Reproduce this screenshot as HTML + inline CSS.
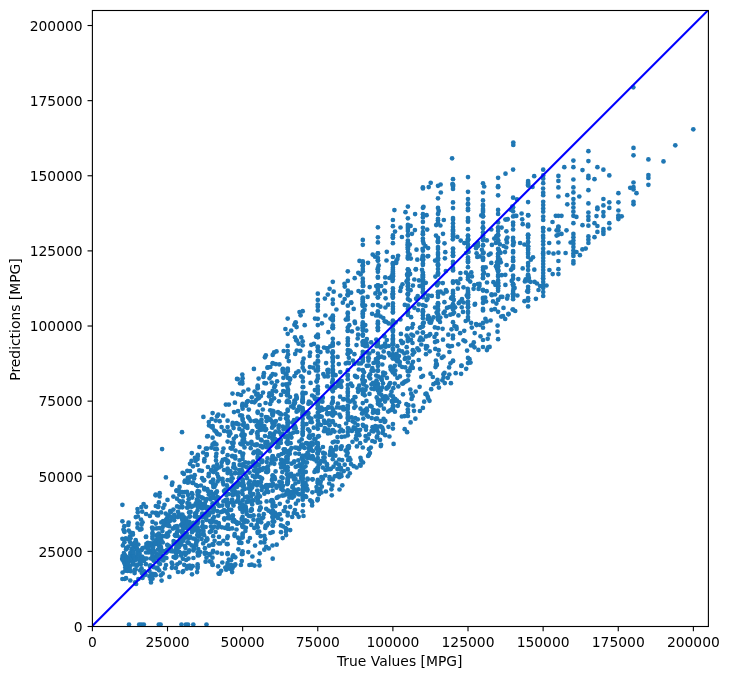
<!DOCTYPE html>
<html><head><meta charset="utf-8"><title>Predictions vs True Values</title>
<style>html,body{margin:0;padding:0;background:#fff;}svg{display:block;will-change:transform;}text{font-family:"DejaVu Sans","Liberation Sans",sans-serif;font-size:13.89px;fill:#000;}</style></head><body>
<svg width="729" height="679" viewBox="0 0 729 679">
<rect width="729" height="679" fill="#fff"/>
<defs><clipPath id="c"><rect x="92.4" y="10.5" width="616.0" height="616.0"/></clipPath></defs>
<g clip-path="url(#c)">
<g fill="#1f77b4">
<circle cx="122.6" cy="572.5" r="2.35"/>
<circle cx="122.6" cy="556.1" r="2.35"/>
<circle cx="122.9" cy="545.4" r="2.35"/>
<circle cx="123.4" cy="560.7" r="2.35"/>
<circle cx="123.5" cy="529.5" r="2.35"/>
<circle cx="123.9" cy="553.0" r="2.35"/>
<circle cx="124.3" cy="526.2" r="2.35"/>
<circle cx="124.4" cy="562.3" r="2.35"/>
<circle cx="124.1" cy="530.9" r="2.35"/>
<circle cx="124.3" cy="562.8" r="2.35"/>
<circle cx="124.1" cy="558.3" r="2.35"/>
<circle cx="124.4" cy="542.2" r="2.35"/>
<circle cx="124.5" cy="579.0" r="2.35"/>
<circle cx="124.5" cy="531.9" r="2.35"/>
<circle cx="125.2" cy="555.3" r="2.35"/>
<circle cx="122.4" cy="521.3" r="2.35"/>
<circle cx="125.0" cy="564.7" r="2.35"/>
<circle cx="125.3" cy="567.6" r="2.35"/>
<circle cx="125.3" cy="570.6" r="2.35"/>
<circle cx="125.8" cy="538.4" r="2.35"/>
<circle cx="126.1" cy="549.3" r="2.35"/>
<circle cx="126.4" cy="548.1" r="2.35"/>
<circle cx="126.2" cy="557.0" r="2.35"/>
<circle cx="126.4" cy="548.8" r="2.35"/>
<circle cx="126.0" cy="578.2" r="2.35"/>
<circle cx="126.9" cy="566.9" r="2.35"/>
<circle cx="126.6" cy="548.5" r="2.35"/>
<circle cx="127.3" cy="560.4" r="2.35"/>
<circle cx="127.4" cy="562.1" r="2.35"/>
<circle cx="127.5" cy="570.9" r="2.35"/>
<circle cx="122.4" cy="504.8" r="2.35"/>
<circle cx="122.4" cy="538.8" r="2.35"/>
<circle cx="127.8" cy="557.5" r="2.35"/>
<circle cx="122.4" cy="579.0" r="2.35"/>
<circle cx="128.1" cy="570.5" r="2.35"/>
<circle cx="128.3" cy="524.9" r="2.35"/>
<circle cx="128.0" cy="562.1" r="2.35"/>
<circle cx="128.3" cy="546.5" r="2.35"/>
<circle cx="128.0" cy="564.6" r="2.35"/>
<circle cx="128.1" cy="539.3" r="2.35"/>
<circle cx="128.1" cy="559.2" r="2.35"/>
<circle cx="128.6" cy="522.5" r="2.35"/>
<circle cx="128.7" cy="530.6" r="2.35"/>
<circle cx="122.4" cy="558.3" r="2.35"/>
<circle cx="122.4" cy="559.5" r="2.35"/>
<circle cx="129.9" cy="536.6" r="2.35"/>
<circle cx="129.6" cy="568.8" r="2.35"/>
<circle cx="129.7" cy="559.9" r="2.35"/>
<circle cx="130.3" cy="532.7" r="2.35"/>
<circle cx="130.3" cy="554.8" r="2.35"/>
<circle cx="130.3" cy="580.5" r="2.35"/>
<circle cx="137.5" cy="550.1" r="2.35"/>
<circle cx="130.4" cy="565.8" r="2.35"/>
<circle cx="130.2" cy="542.3" r="2.35"/>
<circle cx="130.4" cy="552.7" r="2.35"/>
<circle cx="130.8" cy="571.2" r="2.35"/>
<circle cx="130.5" cy="538.3" r="2.35"/>
<circle cx="137.5" cy="527.7" r="2.35"/>
<circle cx="137.5" cy="564.7" r="2.35"/>
<circle cx="131.6" cy="549.2" r="2.35"/>
<circle cx="131.5" cy="558.6" r="2.35"/>
<circle cx="131.5" cy="544.1" r="2.35"/>
<circle cx="132.2" cy="562.0" r="2.35"/>
<circle cx="132.8" cy="533.0" r="2.35"/>
<circle cx="132.9" cy="534.6" r="2.35"/>
<circle cx="132.6" cy="560.7" r="2.35"/>
<circle cx="133.3" cy="561.8" r="2.35"/>
<circle cx="133.0" cy="556.8" r="2.35"/>
<circle cx="133.0" cy="555.6" r="2.35"/>
<circle cx="133.4" cy="547.3" r="2.35"/>
<circle cx="133.1" cy="551.6" r="2.35"/>
<circle cx="133.0" cy="554.7" r="2.35"/>
<circle cx="133.8" cy="564.5" r="2.35"/>
<circle cx="133.7" cy="556.3" r="2.35"/>
<circle cx="133.5" cy="552.6" r="2.35"/>
<circle cx="134.2" cy="556.8" r="2.35"/>
<circle cx="134.9" cy="558.7" r="2.35"/>
<circle cx="134.6" cy="542.9" r="2.35"/>
<circle cx="134.7" cy="569.8" r="2.35"/>
<circle cx="134.6" cy="573.1" r="2.35"/>
<circle cx="134.7" cy="545.5" r="2.35"/>
<circle cx="134.7" cy="544.5" r="2.35"/>
<circle cx="135.2" cy="582.3" r="2.35"/>
<circle cx="135.4" cy="559.9" r="2.35"/>
<circle cx="135.8" cy="517.1" r="2.35"/>
<circle cx="135.7" cy="569.6" r="2.35"/>
<circle cx="135.7" cy="540.0" r="2.35"/>
<circle cx="136.3" cy="546.0" r="2.35"/>
<circle cx="136.1" cy="541.8" r="2.35"/>
<circle cx="136.1" cy="584.0" r="2.35"/>
<circle cx="137.5" cy="555.0" r="2.35"/>
<circle cx="136.5" cy="565.7" r="2.35"/>
<circle cx="136.8" cy="565.6" r="2.35"/>
<circle cx="136.6" cy="548.5" r="2.35"/>
<circle cx="136.5" cy="549.4" r="2.35"/>
<circle cx="137.5" cy="509.0" r="2.35"/>
<circle cx="137.1" cy="548.9" r="2.35"/>
<circle cx="137.9" cy="516.5" r="2.35"/>
<circle cx="137.8" cy="512.3" r="2.35"/>
<circle cx="137.9" cy="558.7" r="2.35"/>
<circle cx="138.4" cy="579.1" r="2.35"/>
<circle cx="137.5" cy="553.5" r="2.35"/>
<circle cx="138.3" cy="544.5" r="2.35"/>
<circle cx="138.4" cy="556.7" r="2.35"/>
<circle cx="139.2" cy="559.4" r="2.35"/>
<circle cx="139.8" cy="529.7" r="2.35"/>
<circle cx="137.5" cy="523.7" r="2.35"/>
<circle cx="139.6" cy="559.1" r="2.35"/>
<circle cx="139.6" cy="553.8" r="2.35"/>
<circle cx="140.3" cy="562.0" r="2.35"/>
<circle cx="140.0" cy="561.2" r="2.35"/>
<circle cx="140.1" cy="570.5" r="2.35"/>
<circle cx="140.1" cy="550.6" r="2.35"/>
<circle cx="140.8" cy="564.3" r="2.35"/>
<circle cx="141.0" cy="519.5" r="2.35"/>
<circle cx="141.4" cy="507.1" r="2.35"/>
<circle cx="141.1" cy="560.8" r="2.35"/>
<circle cx="141.5" cy="524.7" r="2.35"/>
<circle cx="141.9" cy="556.5" r="2.35"/>
<circle cx="141.5" cy="529.1" r="2.35"/>
<circle cx="141.5" cy="568.3" r="2.35"/>
<circle cx="141.7" cy="549.9" r="2.35"/>
<circle cx="142.2" cy="511.7" r="2.35"/>
<circle cx="142.0" cy="573.3" r="2.35"/>
<circle cx="142.5" cy="548.2" r="2.35"/>
<circle cx="142.5" cy="577.9" r="2.35"/>
<circle cx="142.5" cy="522.3" r="2.35"/>
<circle cx="142.7" cy="557.7" r="2.35"/>
<circle cx="143.6" cy="504.0" r="2.35"/>
<circle cx="143.5" cy="575.2" r="2.35"/>
<circle cx="144.3" cy="571.4" r="2.35"/>
<circle cx="144.0" cy="560.9" r="2.35"/>
<circle cx="144.8" cy="558.7" r="2.35"/>
<circle cx="152.5" cy="573.8" r="2.35"/>
<circle cx="145.2" cy="547.4" r="2.35"/>
<circle cx="145.9" cy="564.2" r="2.35"/>
<circle cx="145.6" cy="574.8" r="2.35"/>
<circle cx="145.9" cy="537.0" r="2.35"/>
<circle cx="152.5" cy="553.5" r="2.35"/>
<circle cx="146.1" cy="536.7" r="2.35"/>
<circle cx="146.0" cy="506.8" r="2.35"/>
<circle cx="146.1" cy="514.0" r="2.35"/>
<circle cx="146.1" cy="552.5" r="2.35"/>
<circle cx="146.4" cy="543.9" r="2.35"/>
<circle cx="152.5" cy="578.7" r="2.35"/>
<circle cx="146.7" cy="558.5" r="2.35"/>
<circle cx="152.5" cy="538.6" r="2.35"/>
<circle cx="147.8" cy="548.4" r="2.35"/>
<circle cx="147.9" cy="542.9" r="2.35"/>
<circle cx="148.1" cy="546.4" r="2.35"/>
<circle cx="152.5" cy="532.9" r="2.35"/>
<circle cx="148.5" cy="548.9" r="2.35"/>
<circle cx="148.9" cy="543.5" r="2.35"/>
<circle cx="148.7" cy="552.5" r="2.35"/>
<circle cx="149.5" cy="576.5" r="2.35"/>
<circle cx="149.7" cy="544.0" r="2.35"/>
<circle cx="149.5" cy="571.0" r="2.35"/>
<circle cx="149.9" cy="515.9" r="2.35"/>
<circle cx="149.7" cy="551.2" r="2.35"/>
<circle cx="150.0" cy="566.5" r="2.35"/>
<circle cx="150.2" cy="565.4" r="2.35"/>
<circle cx="152.5" cy="512.5" r="2.35"/>
<circle cx="150.7" cy="543.4" r="2.35"/>
<circle cx="150.5" cy="575.0" r="2.35"/>
<circle cx="150.6" cy="579.4" r="2.35"/>
<circle cx="152.5" cy="533.9" r="2.35"/>
<circle cx="151.0" cy="551.4" r="2.35"/>
<circle cx="151.4" cy="578.0" r="2.35"/>
<circle cx="151.0" cy="582.4" r="2.35"/>
<circle cx="151.2" cy="566.0" r="2.35"/>
<circle cx="151.0" cy="558.5" r="2.35"/>
<circle cx="151.0" cy="545.3" r="2.35"/>
<circle cx="152.1" cy="527.6" r="2.35"/>
<circle cx="152.4" cy="557.4" r="2.35"/>
<circle cx="152.5" cy="543.6" r="2.35"/>
<circle cx="152.5" cy="536.5" r="2.35"/>
<circle cx="153.0" cy="548.0" r="2.35"/>
<circle cx="153.2" cy="546.7" r="2.35"/>
<circle cx="153.4" cy="550.7" r="2.35"/>
<circle cx="153.0" cy="557.3" r="2.35"/>
<circle cx="153.7" cy="560.7" r="2.35"/>
<circle cx="153.8" cy="567.2" r="2.35"/>
<circle cx="153.6" cy="528.5" r="2.35"/>
<circle cx="152.5" cy="521.9" r="2.35"/>
<circle cx="153.7" cy="559.6" r="2.35"/>
<circle cx="152.5" cy="529.0" r="2.35"/>
<circle cx="154.4" cy="542.4" r="2.35"/>
<circle cx="154.3" cy="551.3" r="2.35"/>
<circle cx="155.2" cy="543.8" r="2.35"/>
<circle cx="155.0" cy="574.1" r="2.35"/>
<circle cx="155.8" cy="523.6" r="2.35"/>
<circle cx="155.8" cy="506.0" r="2.35"/>
<circle cx="155.9" cy="540.8" r="2.35"/>
<circle cx="155.6" cy="495.3" r="2.35"/>
<circle cx="155.7" cy="494.7" r="2.35"/>
<circle cx="155.7" cy="512.9" r="2.35"/>
<circle cx="155.8" cy="556.5" r="2.35"/>
<circle cx="155.7" cy="575.2" r="2.35"/>
<circle cx="152.5" cy="547.8" r="2.35"/>
<circle cx="156.3" cy="535.3" r="2.35"/>
<circle cx="156.9" cy="513.1" r="2.35"/>
<circle cx="156.7" cy="568.4" r="2.35"/>
<circle cx="156.7" cy="528.4" r="2.35"/>
<circle cx="156.6" cy="553.6" r="2.35"/>
<circle cx="156.9" cy="514.9" r="2.35"/>
<circle cx="157.4" cy="538.5" r="2.35"/>
<circle cx="152.5" cy="575.5" r="2.35"/>
<circle cx="157.5" cy="567.7" r="2.35"/>
<circle cx="157.6" cy="558.2" r="2.35"/>
<circle cx="157.7" cy="535.6" r="2.35"/>
<circle cx="157.9" cy="534.7" r="2.35"/>
<circle cx="157.6" cy="544.2" r="2.35"/>
<circle cx="157.5" cy="543.2" r="2.35"/>
<circle cx="158.0" cy="506.9" r="2.35"/>
<circle cx="158.3" cy="506.6" r="2.35"/>
<circle cx="158.0" cy="515.4" r="2.35"/>
<circle cx="158.0" cy="555.3" r="2.35"/>
<circle cx="158.0" cy="549.5" r="2.35"/>
<circle cx="158.2" cy="538.1" r="2.35"/>
<circle cx="158.7" cy="537.6" r="2.35"/>
<circle cx="158.5" cy="562.6" r="2.35"/>
<circle cx="158.9" cy="542.0" r="2.35"/>
<circle cx="158.9" cy="502.4" r="2.35"/>
<circle cx="158.8" cy="542.8" r="2.35"/>
<circle cx="152.5" cy="558.6" r="2.35"/>
<circle cx="158.8" cy="533.6" r="2.35"/>
<circle cx="159.3" cy="546.0" r="2.35"/>
<circle cx="152.5" cy="555.1" r="2.35"/>
<circle cx="159.3" cy="546.2" r="2.35"/>
<circle cx="159.1" cy="570.3" r="2.35"/>
<circle cx="159.2" cy="528.2" r="2.35"/>
<circle cx="159.3" cy="542.3" r="2.35"/>
<circle cx="159.7" cy="493.2" r="2.35"/>
<circle cx="159.6" cy="496.5" r="2.35"/>
<circle cx="159.8" cy="543.5" r="2.35"/>
<circle cx="160.0" cy="564.0" r="2.35"/>
<circle cx="160.7" cy="554.3" r="2.35"/>
<circle cx="160.9" cy="575.3" r="2.35"/>
<circle cx="160.9" cy="547.1" r="2.35"/>
<circle cx="167.5" cy="523.0" r="2.35"/>
<circle cx="160.8" cy="547.4" r="2.35"/>
<circle cx="160.5" cy="551.4" r="2.35"/>
<circle cx="160.5" cy="552.9" r="2.35"/>
<circle cx="161.3" cy="559.4" r="2.35"/>
<circle cx="161.3" cy="522.4" r="2.35"/>
<circle cx="161.1" cy="512.4" r="2.35"/>
<circle cx="161.2" cy="549.4" r="2.35"/>
<circle cx="161.6" cy="580.6" r="2.35"/>
<circle cx="161.6" cy="540.9" r="2.35"/>
<circle cx="161.6" cy="535.9" r="2.35"/>
<circle cx="161.6" cy="536.9" r="2.35"/>
<circle cx="162.4" cy="531.1" r="2.35"/>
<circle cx="162.7" cy="573.4" r="2.35"/>
<circle cx="167.5" cy="524.5" r="2.35"/>
<circle cx="162.8" cy="542.5" r="2.35"/>
<circle cx="162.7" cy="527.0" r="2.35"/>
<circle cx="163.2" cy="507.8" r="2.35"/>
<circle cx="163.4" cy="560.4" r="2.35"/>
<circle cx="163.1" cy="521.2" r="2.35"/>
<circle cx="163.8" cy="551.2" r="2.35"/>
<circle cx="163.8" cy="522.2" r="2.35"/>
<circle cx="164.2" cy="524.2" r="2.35"/>
<circle cx="164.3" cy="557.4" r="2.35"/>
<circle cx="164.5" cy="504.8" r="2.35"/>
<circle cx="164.7" cy="536.1" r="2.35"/>
<circle cx="167.5" cy="549.8" r="2.35"/>
<circle cx="165.0" cy="568.4" r="2.35"/>
<circle cx="165.9" cy="477.4" r="2.35"/>
<circle cx="165.7" cy="513.6" r="2.35"/>
<circle cx="167.5" cy="551.4" r="2.35"/>
<circle cx="166.4" cy="558.0" r="2.35"/>
<circle cx="166.2" cy="552.8" r="2.35"/>
<circle cx="166.0" cy="565.0" r="2.35"/>
<circle cx="166.3" cy="525.2" r="2.35"/>
<circle cx="166.1" cy="519.6" r="2.35"/>
<circle cx="166.9" cy="536.7" r="2.35"/>
<circle cx="167.5" cy="525.2" r="2.35"/>
<circle cx="167.2" cy="518.8" r="2.35"/>
<circle cx="167.1" cy="533.4" r="2.35"/>
<circle cx="167.3" cy="549.5" r="2.35"/>
<circle cx="167.3" cy="544.8" r="2.35"/>
<circle cx="167.5" cy="499.9" r="2.35"/>
<circle cx="167.5" cy="516.9" r="2.35"/>
<circle cx="168.2" cy="535.8" r="2.35"/>
<circle cx="168.3" cy="522.0" r="2.35"/>
<circle cx="168.0" cy="521.7" r="2.35"/>
<circle cx="168.7" cy="515.4" r="2.35"/>
<circle cx="167.5" cy="520.1" r="2.35"/>
<circle cx="168.9" cy="521.7" r="2.35"/>
<circle cx="169.4" cy="576.9" r="2.35"/>
<circle cx="169.3" cy="526.2" r="2.35"/>
<circle cx="169.6" cy="546.4" r="2.35"/>
<circle cx="169.6" cy="531.6" r="2.35"/>
<circle cx="170.2" cy="511.1" r="2.35"/>
<circle cx="170.3" cy="520.7" r="2.35"/>
<circle cx="170.8" cy="548.8" r="2.35"/>
<circle cx="170.7" cy="512.3" r="2.35"/>
<circle cx="171.1" cy="551.2" r="2.35"/>
<circle cx="171.1" cy="517.0" r="2.35"/>
<circle cx="171.7" cy="562.6" r="2.35"/>
<circle cx="167.5" cy="525.1" r="2.35"/>
<circle cx="171.9" cy="484.8" r="2.35"/>
<circle cx="171.9" cy="567.8" r="2.35"/>
<circle cx="172.4" cy="482.6" r="2.35"/>
<circle cx="172.9" cy="551.3" r="2.35"/>
<circle cx="172.9" cy="528.6" r="2.35"/>
<circle cx="172.5" cy="564.5" r="2.35"/>
<circle cx="173.4" cy="509.6" r="2.35"/>
<circle cx="173.4" cy="496.6" r="2.35"/>
<circle cx="173.7" cy="543.7" r="2.35"/>
<circle cx="173.6" cy="557.0" r="2.35"/>
<circle cx="173.6" cy="541.1" r="2.35"/>
<circle cx="174.3" cy="514.8" r="2.35"/>
<circle cx="167.5" cy="545.2" r="2.35"/>
<circle cx="174.4" cy="557.2" r="2.35"/>
<circle cx="174.2" cy="520.3" r="2.35"/>
<circle cx="174.3" cy="527.9" r="2.35"/>
<circle cx="174.2" cy="517.9" r="2.35"/>
<circle cx="174.9" cy="535.2" r="2.35"/>
<circle cx="174.9" cy="542.3" r="2.35"/>
<circle cx="175.4" cy="557.8" r="2.35"/>
<circle cx="182.5" cy="523.4" r="2.35"/>
<circle cx="175.0" cy="526.7" r="2.35"/>
<circle cx="175.8" cy="536.0" r="2.35"/>
<circle cx="182.5" cy="530.6" r="2.35"/>
<circle cx="175.8" cy="549.2" r="2.35"/>
<circle cx="175.9" cy="568.1" r="2.35"/>
<circle cx="176.2" cy="556.9" r="2.35"/>
<circle cx="176.4" cy="490.8" r="2.35"/>
<circle cx="182.5" cy="526.8" r="2.35"/>
<circle cx="176.1" cy="553.2" r="2.35"/>
<circle cx="176.2" cy="526.8" r="2.35"/>
<circle cx="176.6" cy="556.1" r="2.35"/>
<circle cx="176.5" cy="546.9" r="2.35"/>
<circle cx="176.7" cy="490.3" r="2.35"/>
<circle cx="177.1" cy="506.4" r="2.35"/>
<circle cx="177.0" cy="498.7" r="2.35"/>
<circle cx="177.3" cy="564.3" r="2.35"/>
<circle cx="177.4" cy="549.1" r="2.35"/>
<circle cx="177.4" cy="527.6" r="2.35"/>
<circle cx="177.0" cy="532.3" r="2.35"/>
<circle cx="177.0" cy="526.1" r="2.35"/>
<circle cx="177.3" cy="535.6" r="2.35"/>
<circle cx="177.5" cy="544.0" r="2.35"/>
<circle cx="177.8" cy="517.1" r="2.35"/>
<circle cx="177.9" cy="530.7" r="2.35"/>
<circle cx="177.7" cy="541.9" r="2.35"/>
<circle cx="177.8" cy="543.0" r="2.35"/>
<circle cx="178.0" cy="511.8" r="2.35"/>
<circle cx="178.0" cy="572.0" r="2.35"/>
<circle cx="178.8" cy="490.9" r="2.35"/>
<circle cx="178.6" cy="515.1" r="2.35"/>
<circle cx="179.3" cy="494.7" r="2.35"/>
<circle cx="179.1" cy="547.0" r="2.35"/>
<circle cx="179.3" cy="551.8" r="2.35"/>
<circle cx="179.5" cy="501.1" r="2.35"/>
<circle cx="179.5" cy="486.9" r="2.35"/>
<circle cx="179.6" cy="507.4" r="2.35"/>
<circle cx="179.9" cy="491.7" r="2.35"/>
<circle cx="179.8" cy="537.5" r="2.35"/>
<circle cx="179.9" cy="562.6" r="2.35"/>
<circle cx="180.3" cy="515.9" r="2.35"/>
<circle cx="180.2" cy="514.6" r="2.35"/>
<circle cx="180.5" cy="543.2" r="2.35"/>
<circle cx="180.7" cy="542.7" r="2.35"/>
<circle cx="182.5" cy="507.1" r="2.35"/>
<circle cx="180.5" cy="541.5" r="2.35"/>
<circle cx="181.0" cy="525.0" r="2.35"/>
<circle cx="181.3" cy="531.3" r="2.35"/>
<circle cx="181.1" cy="555.6" r="2.35"/>
<circle cx="181.1" cy="553.4" r="2.35"/>
<circle cx="181.4" cy="517.0" r="2.35"/>
<circle cx="181.1" cy="541.7" r="2.35"/>
<circle cx="182.5" cy="524.6" r="2.35"/>
<circle cx="181.5" cy="544.6" r="2.35"/>
<circle cx="181.9" cy="540.3" r="2.35"/>
<circle cx="181.9" cy="518.5" r="2.35"/>
<circle cx="181.6" cy="503.3" r="2.35"/>
<circle cx="181.5" cy="537.6" r="2.35"/>
<circle cx="182.2" cy="507.1" r="2.35"/>
<circle cx="182.5" cy="492.1" r="2.35"/>
<circle cx="182.8" cy="501.4" r="2.35"/>
<circle cx="182.9" cy="558.8" r="2.35"/>
<circle cx="182.7" cy="523.3" r="2.35"/>
<circle cx="182.6" cy="472.8" r="2.35"/>
<circle cx="183.3" cy="540.7" r="2.35"/>
<circle cx="183.4" cy="537.0" r="2.35"/>
<circle cx="183.3" cy="571.0" r="2.35"/>
<circle cx="183.0" cy="496.5" r="2.35"/>
<circle cx="183.9" cy="473.9" r="2.35"/>
<circle cx="182.5" cy="514.7" r="2.35"/>
<circle cx="183.5" cy="523.5" r="2.35"/>
<circle cx="183.6" cy="527.5" r="2.35"/>
<circle cx="184.2" cy="564.8" r="2.35"/>
<circle cx="184.2" cy="517.3" r="2.35"/>
<circle cx="184.3" cy="552.5" r="2.35"/>
<circle cx="182.5" cy="517.1" r="2.35"/>
<circle cx="184.6" cy="481.9" r="2.35"/>
<circle cx="184.7" cy="523.1" r="2.35"/>
<circle cx="184.9" cy="492.2" r="2.35"/>
<circle cx="185.3" cy="554.8" r="2.35"/>
<circle cx="185.2" cy="533.1" r="2.35"/>
<circle cx="185.0" cy="480.7" r="2.35"/>
<circle cx="182.5" cy="517.5" r="2.35"/>
<circle cx="185.1" cy="528.0" r="2.35"/>
<circle cx="185.0" cy="526.5" r="2.35"/>
<circle cx="185.1" cy="546.0" r="2.35"/>
<circle cx="185.2" cy="521.3" r="2.35"/>
<circle cx="185.8" cy="537.7" r="2.35"/>
<circle cx="185.5" cy="547.9" r="2.35"/>
<circle cx="185.6" cy="518.9" r="2.35"/>
<circle cx="186.3" cy="518.5" r="2.35"/>
<circle cx="186.0" cy="535.5" r="2.35"/>
<circle cx="186.1" cy="553.2" r="2.35"/>
<circle cx="186.2" cy="560.0" r="2.35"/>
<circle cx="186.4" cy="535.4" r="2.35"/>
<circle cx="186.9" cy="568.6" r="2.35"/>
<circle cx="186.6" cy="525.5" r="2.35"/>
<circle cx="186.7" cy="533.4" r="2.35"/>
<circle cx="187.3" cy="470.8" r="2.35"/>
<circle cx="187.4" cy="503.0" r="2.35"/>
<circle cx="187.0" cy="491.9" r="2.35"/>
<circle cx="187.3" cy="507.5" r="2.35"/>
<circle cx="187.9" cy="521.7" r="2.35"/>
<circle cx="187.9" cy="477.6" r="2.35"/>
<circle cx="187.5" cy="566.1" r="2.35"/>
<circle cx="187.5" cy="507.5" r="2.35"/>
<circle cx="187.8" cy="542.6" r="2.35"/>
<circle cx="187.6" cy="480.1" r="2.35"/>
<circle cx="187.6" cy="542.3" r="2.35"/>
<circle cx="182.5" cy="520.6" r="2.35"/>
<circle cx="187.6" cy="528.6" r="2.35"/>
<circle cx="187.9" cy="482.7" r="2.35"/>
<circle cx="182.5" cy="572.1" r="2.35"/>
<circle cx="188.4" cy="527.2" r="2.35"/>
<circle cx="188.3" cy="506.7" r="2.35"/>
<circle cx="188.1" cy="494.9" r="2.35"/>
<circle cx="188.5" cy="552.2" r="2.35"/>
<circle cx="188.5" cy="558.6" r="2.35"/>
<circle cx="188.7" cy="499.2" r="2.35"/>
<circle cx="188.7" cy="480.9" r="2.35"/>
<circle cx="188.6" cy="524.5" r="2.35"/>
<circle cx="189.4" cy="527.5" r="2.35"/>
<circle cx="189.1" cy="527.2" r="2.35"/>
<circle cx="189.0" cy="538.3" r="2.35"/>
<circle cx="189.2" cy="526.5" r="2.35"/>
<circle cx="189.2" cy="550.3" r="2.35"/>
<circle cx="189.0" cy="512.4" r="2.35"/>
<circle cx="189.1" cy="543.3" r="2.35"/>
<circle cx="182.5" cy="533.4" r="2.35"/>
<circle cx="189.3" cy="503.7" r="2.35"/>
<circle cx="189.4" cy="521.9" r="2.35"/>
<circle cx="189.6" cy="565.7" r="2.35"/>
<circle cx="189.5" cy="477.5" r="2.35"/>
<circle cx="189.9" cy="516.3" r="2.35"/>
<circle cx="189.6" cy="516.6" r="2.35"/>
<circle cx="190.0" cy="471.1" r="2.35"/>
<circle cx="190.0" cy="463.8" r="2.35"/>
<circle cx="190.1" cy="536.5" r="2.35"/>
<circle cx="190.6" cy="511.9" r="2.35"/>
<circle cx="197.6" cy="505.0" r="2.35"/>
<circle cx="197.6" cy="568.1" r="2.35"/>
<circle cx="191.0" cy="568.5" r="2.35"/>
<circle cx="191.2" cy="523.9" r="2.35"/>
<circle cx="191.1" cy="476.5" r="2.35"/>
<circle cx="191.7" cy="545.4" r="2.35"/>
<circle cx="197.6" cy="486.1" r="2.35"/>
<circle cx="191.5" cy="460.9" r="2.35"/>
<circle cx="191.8" cy="453.1" r="2.35"/>
<circle cx="191.8" cy="493.0" r="2.35"/>
<circle cx="191.8" cy="529.8" r="2.35"/>
<circle cx="191.6" cy="506.8" r="2.35"/>
<circle cx="191.8" cy="529.7" r="2.35"/>
<circle cx="192.3" cy="482.8" r="2.35"/>
<circle cx="192.0" cy="532.2" r="2.35"/>
<circle cx="192.2" cy="566.0" r="2.35"/>
<circle cx="192.2" cy="497.6" r="2.35"/>
<circle cx="197.6" cy="552.6" r="2.35"/>
<circle cx="192.0" cy="574.3" r="2.35"/>
<circle cx="197.6" cy="495.1" r="2.35"/>
<circle cx="192.4" cy="494.3" r="2.35"/>
<circle cx="192.2" cy="525.1" r="2.35"/>
<circle cx="192.4" cy="528.5" r="2.35"/>
<circle cx="192.6" cy="566.2" r="2.35"/>
<circle cx="192.9" cy="483.0" r="2.35"/>
<circle cx="197.6" cy="564.4" r="2.35"/>
<circle cx="197.6" cy="523.4" r="2.35"/>
<circle cx="193.0" cy="466.3" r="2.35"/>
<circle cx="193.0" cy="505.9" r="2.35"/>
<circle cx="193.1" cy="482.5" r="2.35"/>
<circle cx="193.3" cy="550.4" r="2.35"/>
<circle cx="193.1" cy="538.5" r="2.35"/>
<circle cx="197.6" cy="465.0" r="2.35"/>
<circle cx="193.4" cy="558.0" r="2.35"/>
<circle cx="193.6" cy="530.5" r="2.35"/>
<circle cx="193.7" cy="548.1" r="2.35"/>
<circle cx="193.7" cy="522.8" r="2.35"/>
<circle cx="194.1" cy="478.4" r="2.35"/>
<circle cx="197.6" cy="505.2" r="2.35"/>
<circle cx="194.1" cy="548.8" r="2.35"/>
<circle cx="194.7" cy="475.2" r="2.35"/>
<circle cx="194.9" cy="457.9" r="2.35"/>
<circle cx="194.8" cy="528.6" r="2.35"/>
<circle cx="194.7" cy="516.5" r="2.35"/>
<circle cx="197.6" cy="505.4" r="2.35"/>
<circle cx="195.1" cy="526.2" r="2.35"/>
<circle cx="197.6" cy="459.1" r="2.35"/>
<circle cx="195.0" cy="538.8" r="2.35"/>
<circle cx="195.4" cy="545.0" r="2.35"/>
<circle cx="197.6" cy="530.9" r="2.35"/>
<circle cx="195.1" cy="513.7" r="2.35"/>
<circle cx="195.9" cy="516.3" r="2.35"/>
<circle cx="195.5" cy="461.0" r="2.35"/>
<circle cx="197.6" cy="504.8" r="2.35"/>
<circle cx="195.8" cy="503.4" r="2.35"/>
<circle cx="196.1" cy="513.2" r="2.35"/>
<circle cx="196.2" cy="543.7" r="2.35"/>
<circle cx="196.0" cy="485.0" r="2.35"/>
<circle cx="196.1" cy="545.5" r="2.35"/>
<circle cx="196.0" cy="528.3" r="2.35"/>
<circle cx="196.3" cy="542.1" r="2.35"/>
<circle cx="196.9" cy="499.7" r="2.35"/>
<circle cx="196.8" cy="522.4" r="2.35"/>
<circle cx="197.4" cy="517.1" r="2.35"/>
<circle cx="197.1" cy="521.7" r="2.35"/>
<circle cx="197.1" cy="572.1" r="2.35"/>
<circle cx="197.2" cy="535.1" r="2.35"/>
<circle cx="197.7" cy="456.2" r="2.35"/>
<circle cx="197.8" cy="454.9" r="2.35"/>
<circle cx="197.6" cy="528.1" r="2.35"/>
<circle cx="197.7" cy="491.2" r="2.35"/>
<circle cx="197.5" cy="510.6" r="2.35"/>
<circle cx="197.9" cy="555.5" r="2.35"/>
<circle cx="197.9" cy="520.9" r="2.35"/>
<circle cx="198.3" cy="549.1" r="2.35"/>
<circle cx="198.3" cy="507.5" r="2.35"/>
<circle cx="198.9" cy="496.2" r="2.35"/>
<circle cx="198.8" cy="536.6" r="2.35"/>
<circle cx="197.6" cy="566.6" r="2.35"/>
<circle cx="197.6" cy="501.8" r="2.35"/>
<circle cx="199.2" cy="491.7" r="2.35"/>
<circle cx="197.6" cy="540.6" r="2.35"/>
<circle cx="199.3" cy="470.4" r="2.35"/>
<circle cx="199.1" cy="555.1" r="2.35"/>
<circle cx="199.4" cy="447.0" r="2.35"/>
<circle cx="199.2" cy="530.8" r="2.35"/>
<circle cx="200.0" cy="501.9" r="2.35"/>
<circle cx="200.2" cy="503.9" r="2.35"/>
<circle cx="200.1" cy="517.5" r="2.35"/>
<circle cx="200.1" cy="552.0" r="2.35"/>
<circle cx="200.9" cy="534.4" r="2.35"/>
<circle cx="200.9" cy="485.5" r="2.35"/>
<circle cx="201.2" cy="516.5" r="2.35"/>
<circle cx="201.9" cy="470.8" r="2.35"/>
<circle cx="201.6" cy="539.0" r="2.35"/>
<circle cx="201.7" cy="497.4" r="2.35"/>
<circle cx="201.8" cy="507.6" r="2.35"/>
<circle cx="202.3" cy="517.2" r="2.35"/>
<circle cx="197.6" cy="527.7" r="2.35"/>
<circle cx="202.2" cy="513.7" r="2.35"/>
<circle cx="202.1" cy="508.4" r="2.35"/>
<circle cx="202.1" cy="478.2" r="2.35"/>
<circle cx="202.2" cy="527.1" r="2.35"/>
<circle cx="202.7" cy="525.8" r="2.35"/>
<circle cx="197.6" cy="499.3" r="2.35"/>
<circle cx="202.6" cy="521.9" r="2.35"/>
<circle cx="202.6" cy="506.8" r="2.35"/>
<circle cx="203.4" cy="416.9" r="2.35"/>
<circle cx="203.1" cy="498.3" r="2.35"/>
<circle cx="203.4" cy="479.8" r="2.35"/>
<circle cx="203.2" cy="452.5" r="2.35"/>
<circle cx="203.1" cy="504.2" r="2.35"/>
<circle cx="203.2" cy="530.2" r="2.35"/>
<circle cx="203.2" cy="543.4" r="2.35"/>
<circle cx="203.4" cy="532.0" r="2.35"/>
<circle cx="197.6" cy="492.4" r="2.35"/>
<circle cx="203.7" cy="480.5" r="2.35"/>
<circle cx="204.3" cy="461.4" r="2.35"/>
<circle cx="204.2" cy="480.2" r="2.35"/>
<circle cx="204.4" cy="459.2" r="2.35"/>
<circle cx="197.6" cy="531.6" r="2.35"/>
<circle cx="204.2" cy="487.9" r="2.35"/>
<circle cx="204.1" cy="535.2" r="2.35"/>
<circle cx="204.3" cy="489.5" r="2.35"/>
<circle cx="204.8" cy="553.8" r="2.35"/>
<circle cx="204.8" cy="504.0" r="2.35"/>
<circle cx="204.6" cy="552.6" r="2.35"/>
<circle cx="204.9" cy="548.2" r="2.35"/>
<circle cx="204.5" cy="503.5" r="2.35"/>
<circle cx="204.8" cy="507.5" r="2.35"/>
<circle cx="197.6" cy="506.7" r="2.35"/>
<circle cx="205.4" cy="513.7" r="2.35"/>
<circle cx="205.3" cy="514.6" r="2.35"/>
<circle cx="212.6" cy="544.4" r="2.35"/>
<circle cx="205.9" cy="448.7" r="2.35"/>
<circle cx="205.7" cy="527.0" r="2.35"/>
<circle cx="205.9" cy="552.9" r="2.35"/>
<circle cx="205.6" cy="561.7" r="2.35"/>
<circle cx="205.8" cy="501.1" r="2.35"/>
<circle cx="205.9" cy="540.9" r="2.35"/>
<circle cx="205.5" cy="517.8" r="2.35"/>
<circle cx="205.9" cy="518.2" r="2.35"/>
<circle cx="206.4" cy="520.0" r="2.35"/>
<circle cx="206.3" cy="508.6" r="2.35"/>
<circle cx="206.5" cy="557.7" r="2.35"/>
<circle cx="206.6" cy="499.2" r="2.35"/>
<circle cx="206.8" cy="454.0" r="2.35"/>
<circle cx="206.6" cy="455.3" r="2.35"/>
<circle cx="207.2" cy="448.6" r="2.35"/>
<circle cx="207.2" cy="436.4" r="2.35"/>
<circle cx="207.3" cy="489.1" r="2.35"/>
<circle cx="207.4" cy="539.7" r="2.35"/>
<circle cx="207.1" cy="538.4" r="2.35"/>
<circle cx="207.4" cy="507.2" r="2.35"/>
<circle cx="207.9" cy="436.0" r="2.35"/>
<circle cx="207.9" cy="467.0" r="2.35"/>
<circle cx="207.8" cy="490.9" r="2.35"/>
<circle cx="208.1" cy="515.3" r="2.35"/>
<circle cx="208.8" cy="473.8" r="2.35"/>
<circle cx="208.8" cy="422.0" r="2.35"/>
<circle cx="208.6" cy="476.2" r="2.35"/>
<circle cx="208.9" cy="515.0" r="2.35"/>
<circle cx="208.8" cy="494.6" r="2.35"/>
<circle cx="209.2" cy="554.1" r="2.35"/>
<circle cx="209.3" cy="513.3" r="2.35"/>
<circle cx="209.0" cy="545.7" r="2.35"/>
<circle cx="209.0" cy="425.5" r="2.35"/>
<circle cx="212.6" cy="518.9" r="2.35"/>
<circle cx="209.7" cy="561.3" r="2.35"/>
<circle cx="209.8" cy="532.1" r="2.35"/>
<circle cx="209.7" cy="554.9" r="2.35"/>
<circle cx="209.7" cy="521.0" r="2.35"/>
<circle cx="209.9" cy="507.7" r="2.35"/>
<circle cx="210.4" cy="498.6" r="2.35"/>
<circle cx="210.4" cy="522.0" r="2.35"/>
<circle cx="210.2" cy="512.3" r="2.35"/>
<circle cx="212.6" cy="544.6" r="2.35"/>
<circle cx="210.8" cy="482.0" r="2.35"/>
<circle cx="210.5" cy="499.3" r="2.35"/>
<circle cx="210.9" cy="526.4" r="2.35"/>
<circle cx="210.7" cy="498.2" r="2.35"/>
<circle cx="211.1" cy="491.8" r="2.35"/>
<circle cx="211.4" cy="447.7" r="2.35"/>
<circle cx="211.1" cy="531.2" r="2.35"/>
<circle cx="211.3" cy="426.7" r="2.35"/>
<circle cx="211.1" cy="470.1" r="2.35"/>
<circle cx="211.5" cy="562.0" r="2.35"/>
<circle cx="212.6" cy="507.6" r="2.35"/>
<circle cx="211.7" cy="419.0" r="2.35"/>
<circle cx="211.6" cy="469.8" r="2.35"/>
<circle cx="211.9" cy="522.1" r="2.35"/>
<circle cx="212.5" cy="471.4" r="2.35"/>
<circle cx="212.5" cy="557.7" r="2.35"/>
<circle cx="212.8" cy="512.4" r="2.35"/>
<circle cx="212.5" cy="528.5" r="2.35"/>
<circle cx="212.9" cy="497.8" r="2.35"/>
<circle cx="212.6" cy="503.3" r="2.35"/>
<circle cx="213.1" cy="479.6" r="2.35"/>
<circle cx="213.3" cy="544.7" r="2.35"/>
<circle cx="213.1" cy="550.9" r="2.35"/>
<circle cx="213.4" cy="508.9" r="2.35"/>
<circle cx="213.0" cy="484.1" r="2.35"/>
<circle cx="213.2" cy="536.2" r="2.35"/>
<circle cx="213.6" cy="466.5" r="2.35"/>
<circle cx="213.5" cy="494.4" r="2.35"/>
<circle cx="213.6" cy="486.8" r="2.35"/>
<circle cx="213.8" cy="507.5" r="2.35"/>
<circle cx="213.6" cy="486.9" r="2.35"/>
<circle cx="213.6" cy="472.1" r="2.35"/>
<circle cx="213.9" cy="444.5" r="2.35"/>
<circle cx="213.8" cy="509.7" r="2.35"/>
<circle cx="214.4" cy="442.7" r="2.35"/>
<circle cx="212.6" cy="437.7" r="2.35"/>
<circle cx="212.6" cy="505.3" r="2.35"/>
<circle cx="214.0" cy="517.0" r="2.35"/>
<circle cx="212.6" cy="426.0" r="2.35"/>
<circle cx="214.7" cy="526.6" r="2.35"/>
<circle cx="214.8" cy="498.3" r="2.35"/>
<circle cx="212.6" cy="427.7" r="2.35"/>
<circle cx="214.5" cy="430.6" r="2.35"/>
<circle cx="214.7" cy="521.5" r="2.35"/>
<circle cx="214.6" cy="540.8" r="2.35"/>
<circle cx="214.5" cy="486.7" r="2.35"/>
<circle cx="215.0" cy="449.0" r="2.35"/>
<circle cx="215.7" cy="420.6" r="2.35"/>
<circle cx="215.6" cy="469.9" r="2.35"/>
<circle cx="212.6" cy="552.4" r="2.35"/>
<circle cx="212.6" cy="564.7" r="2.35"/>
<circle cx="215.6" cy="484.6" r="2.35"/>
<circle cx="215.9" cy="493.2" r="2.35"/>
<circle cx="215.6" cy="531.9" r="2.35"/>
<circle cx="215.9" cy="492.5" r="2.35"/>
<circle cx="216.1" cy="431.5" r="2.35"/>
<circle cx="216.0" cy="456.5" r="2.35"/>
<circle cx="216.4" cy="444.4" r="2.35"/>
<circle cx="216.4" cy="453.8" r="2.35"/>
<circle cx="216.0" cy="460.4" r="2.35"/>
<circle cx="216.2" cy="522.2" r="2.35"/>
<circle cx="216.9" cy="491.4" r="2.35"/>
<circle cx="216.9" cy="468.4" r="2.35"/>
<circle cx="216.8" cy="449.2" r="2.35"/>
<circle cx="212.6" cy="481.8" r="2.35"/>
<circle cx="216.6" cy="502.0" r="2.35"/>
<circle cx="217.1" cy="416.3" r="2.35"/>
<circle cx="217.3" cy="497.1" r="2.35"/>
<circle cx="217.2" cy="552.6" r="2.35"/>
<circle cx="217.3" cy="500.1" r="2.35"/>
<circle cx="217.0" cy="433.3" r="2.35"/>
<circle cx="212.6" cy="565.0" r="2.35"/>
<circle cx="217.0" cy="464.3" r="2.35"/>
<circle cx="217.2" cy="511.1" r="2.35"/>
<circle cx="217.2" cy="474.0" r="2.35"/>
<circle cx="217.8" cy="527.6" r="2.35"/>
<circle cx="212.6" cy="497.3" r="2.35"/>
<circle cx="212.6" cy="444.4" r="2.35"/>
<circle cx="217.5" cy="434.1" r="2.35"/>
<circle cx="217.6" cy="481.4" r="2.35"/>
<circle cx="217.5" cy="504.2" r="2.35"/>
<circle cx="218.3" cy="414.5" r="2.35"/>
<circle cx="218.1" cy="566.3" r="2.35"/>
<circle cx="218.2" cy="515.7" r="2.35"/>
<circle cx="218.2" cy="476.9" r="2.35"/>
<circle cx="212.6" cy="413.1" r="2.35"/>
<circle cx="218.8" cy="497.9" r="2.35"/>
<circle cx="218.6" cy="573.6" r="2.35"/>
<circle cx="218.7" cy="524.0" r="2.35"/>
<circle cx="212.6" cy="495.5" r="2.35"/>
<circle cx="218.7" cy="523.1" r="2.35"/>
<circle cx="218.9" cy="467.5" r="2.35"/>
<circle cx="218.5" cy="543.3" r="2.35"/>
<circle cx="219.2" cy="505.9" r="2.35"/>
<circle cx="219.0" cy="525.1" r="2.35"/>
<circle cx="219.0" cy="536.9" r="2.35"/>
<circle cx="219.7" cy="434.6" r="2.35"/>
<circle cx="219.7" cy="421.2" r="2.35"/>
<circle cx="219.8" cy="478.9" r="2.35"/>
<circle cx="219.6" cy="573.7" r="2.35"/>
<circle cx="220.1" cy="543.4" r="2.35"/>
<circle cx="227.6" cy="505.4" r="2.35"/>
<circle cx="227.6" cy="528.6" r="2.35"/>
<circle cx="220.7" cy="512.2" r="2.35"/>
<circle cx="221.2" cy="570.8" r="2.35"/>
<circle cx="221.4" cy="466.1" r="2.35"/>
<circle cx="221.6" cy="427.1" r="2.35"/>
<circle cx="221.8" cy="553.7" r="2.35"/>
<circle cx="221.7" cy="462.4" r="2.35"/>
<circle cx="221.9" cy="527.3" r="2.35"/>
<circle cx="222.3" cy="562.5" r="2.35"/>
<circle cx="227.6" cy="470.1" r="2.35"/>
<circle cx="222.2" cy="505.6" r="2.35"/>
<circle cx="222.5" cy="478.8" r="2.35"/>
<circle cx="222.8" cy="481.9" r="2.35"/>
<circle cx="222.8" cy="459.9" r="2.35"/>
<circle cx="227.6" cy="563.1" r="2.35"/>
<circle cx="227.6" cy="473.1" r="2.35"/>
<circle cx="222.6" cy="452.1" r="2.35"/>
<circle cx="222.7" cy="511.6" r="2.35"/>
<circle cx="223.4" cy="540.8" r="2.35"/>
<circle cx="223.2" cy="415.7" r="2.35"/>
<circle cx="227.6" cy="468.7" r="2.35"/>
<circle cx="223.4" cy="501.4" r="2.35"/>
<circle cx="223.5" cy="448.6" r="2.35"/>
<circle cx="227.6" cy="463.1" r="2.35"/>
<circle cx="223.5" cy="510.8" r="2.35"/>
<circle cx="223.5" cy="484.4" r="2.35"/>
<circle cx="224.4" cy="519.6" r="2.35"/>
<circle cx="227.6" cy="441.6" r="2.35"/>
<circle cx="224.0" cy="470.0" r="2.35"/>
<circle cx="224.1" cy="430.9" r="2.35"/>
<circle cx="224.0" cy="491.0" r="2.35"/>
<circle cx="224.2" cy="518.4" r="2.35"/>
<circle cx="224.1" cy="510.1" r="2.35"/>
<circle cx="227.6" cy="431.6" r="2.35"/>
<circle cx="225.3" cy="567.5" r="2.35"/>
<circle cx="225.2" cy="459.1" r="2.35"/>
<circle cx="225.0" cy="527.9" r="2.35"/>
<circle cx="225.4" cy="489.5" r="2.35"/>
<circle cx="225.0" cy="493.1" r="2.35"/>
<circle cx="225.4" cy="500.2" r="2.35"/>
<circle cx="225.5" cy="459.5" r="2.35"/>
<circle cx="225.9" cy="404.6" r="2.35"/>
<circle cx="226.0" cy="493.0" r="2.35"/>
<circle cx="226.2" cy="569.7" r="2.35"/>
<circle cx="226.4" cy="511.5" r="2.35"/>
<circle cx="226.5" cy="495.1" r="2.35"/>
<circle cx="226.7" cy="544.0" r="2.35"/>
<circle cx="227.6" cy="461.1" r="2.35"/>
<circle cx="226.9" cy="485.3" r="2.35"/>
<circle cx="226.9" cy="503.7" r="2.35"/>
<circle cx="227.3" cy="538.1" r="2.35"/>
<circle cx="227.2" cy="499.6" r="2.35"/>
<circle cx="227.3" cy="460.7" r="2.35"/>
<circle cx="227.2" cy="526.9" r="2.35"/>
<circle cx="227.0" cy="504.5" r="2.35"/>
<circle cx="227.7" cy="536.3" r="2.35"/>
<circle cx="227.5" cy="553.1" r="2.35"/>
<circle cx="227.8" cy="518.0" r="2.35"/>
<circle cx="227.9" cy="528.4" r="2.35"/>
<circle cx="227.8" cy="502.6" r="2.35"/>
<circle cx="227.9" cy="524.8" r="2.35"/>
<circle cx="228.3" cy="461.8" r="2.35"/>
<circle cx="228.4" cy="503.3" r="2.35"/>
<circle cx="228.2" cy="488.5" r="2.35"/>
<circle cx="228.8" cy="568.5" r="2.35"/>
<circle cx="228.9" cy="494.0" r="2.35"/>
<circle cx="227.6" cy="518.0" r="2.35"/>
<circle cx="228.9" cy="404.6" r="2.35"/>
<circle cx="228.8" cy="516.0" r="2.35"/>
<circle cx="228.8" cy="559.6" r="2.35"/>
<circle cx="228.8" cy="509.5" r="2.35"/>
<circle cx="227.6" cy="455.2" r="2.35"/>
<circle cx="229.0" cy="435.7" r="2.35"/>
<circle cx="227.6" cy="554.2" r="2.35"/>
<circle cx="229.2" cy="528.8" r="2.35"/>
<circle cx="229.4" cy="518.5" r="2.35"/>
<circle cx="229.8" cy="431.5" r="2.35"/>
<circle cx="229.9" cy="471.6" r="2.35"/>
<circle cx="230.0" cy="471.2" r="2.35"/>
<circle cx="230.4" cy="471.8" r="2.35"/>
<circle cx="230.4" cy="433.5" r="2.35"/>
<circle cx="230.9" cy="569.1" r="2.35"/>
<circle cx="230.6" cy="448.1" r="2.35"/>
<circle cx="227.6" cy="489.3" r="2.35"/>
<circle cx="230.5" cy="510.0" r="2.35"/>
<circle cx="227.6" cy="427.1" r="2.35"/>
<circle cx="231.1" cy="565.0" r="2.35"/>
<circle cx="227.6" cy="420.7" r="2.35"/>
<circle cx="231.0" cy="560.2" r="2.35"/>
<circle cx="231.2" cy="509.8" r="2.35"/>
<circle cx="231.4" cy="478.9" r="2.35"/>
<circle cx="231.3" cy="481.4" r="2.35"/>
<circle cx="231.8" cy="442.8" r="2.35"/>
<circle cx="231.9" cy="490.1" r="2.35"/>
<circle cx="231.8" cy="448.7" r="2.35"/>
<circle cx="231.5" cy="502.2" r="2.35"/>
<circle cx="231.5" cy="474.7" r="2.35"/>
<circle cx="232.2" cy="501.9" r="2.35"/>
<circle cx="232.1" cy="528.4" r="2.35"/>
<circle cx="232.1" cy="572.1" r="2.35"/>
<circle cx="232.3" cy="455.9" r="2.35"/>
<circle cx="232.2" cy="456.3" r="2.35"/>
<circle cx="232.1" cy="499.5" r="2.35"/>
<circle cx="232.5" cy="393.6" r="2.35"/>
<circle cx="232.6" cy="567.9" r="2.35"/>
<circle cx="232.9" cy="446.5" r="2.35"/>
<circle cx="232.9" cy="515.6" r="2.35"/>
<circle cx="232.6" cy="557.1" r="2.35"/>
<circle cx="232.8" cy="495.2" r="2.35"/>
<circle cx="232.5" cy="487.6" r="2.35"/>
<circle cx="232.9" cy="521.3" r="2.35"/>
<circle cx="227.6" cy="506.0" r="2.35"/>
<circle cx="232.7" cy="422.9" r="2.35"/>
<circle cx="232.6" cy="424.9" r="2.35"/>
<circle cx="232.6" cy="478.3" r="2.35"/>
<circle cx="232.9" cy="515.6" r="2.35"/>
<circle cx="232.6" cy="488.4" r="2.35"/>
<circle cx="233.3" cy="493.9" r="2.35"/>
<circle cx="233.3" cy="555.3" r="2.35"/>
<circle cx="233.0" cy="519.1" r="2.35"/>
<circle cx="227.6" cy="564.9" r="2.35"/>
<circle cx="233.2" cy="493.3" r="2.35"/>
<circle cx="233.3" cy="467.4" r="2.35"/>
<circle cx="233.3" cy="503.3" r="2.35"/>
<circle cx="233.5" cy="505.6" r="2.35"/>
<circle cx="233.6" cy="442.9" r="2.35"/>
<circle cx="233.8" cy="438.8" r="2.35"/>
<circle cx="233.8" cy="464.0" r="2.35"/>
<circle cx="233.6" cy="428.1" r="2.35"/>
<circle cx="233.6" cy="485.7" r="2.35"/>
<circle cx="233.5" cy="487.4" r="2.35"/>
<circle cx="227.6" cy="513.5" r="2.35"/>
<circle cx="234.1" cy="490.1" r="2.35"/>
<circle cx="227.6" cy="480.2" r="2.35"/>
<circle cx="234.0" cy="412.1" r="2.35"/>
<circle cx="234.4" cy="565.7" r="2.35"/>
<circle cx="234.2" cy="520.1" r="2.35"/>
<circle cx="234.0" cy="466.0" r="2.35"/>
<circle cx="234.3" cy="490.8" r="2.35"/>
<circle cx="234.5" cy="535.8" r="2.35"/>
<circle cx="234.7" cy="534.1" r="2.35"/>
<circle cx="227.6" cy="566.1" r="2.35"/>
<circle cx="234.7" cy="491.7" r="2.35"/>
<circle cx="234.9" cy="402.7" r="2.35"/>
<circle cx="234.8" cy="486.7" r="2.35"/>
<circle cx="235.3" cy="557.3" r="2.35"/>
<circle cx="235.1" cy="456.3" r="2.35"/>
<circle cx="235.1" cy="473.1" r="2.35"/>
<circle cx="235.3" cy="564.4" r="2.35"/>
<circle cx="227.6" cy="544.2" r="2.35"/>
<circle cx="235.4" cy="473.1" r="2.35"/>
<circle cx="235.3" cy="485.7" r="2.35"/>
<circle cx="235.3" cy="458.5" r="2.35"/>
<circle cx="235.5" cy="450.6" r="2.35"/>
<circle cx="235.6" cy="521.9" r="2.35"/>
<circle cx="235.5" cy="468.7" r="2.35"/>
<circle cx="242.6" cy="494.0" r="2.35"/>
<circle cx="242.6" cy="510.1" r="2.35"/>
<circle cx="242.6" cy="551.3" r="2.35"/>
<circle cx="236.1" cy="423.7" r="2.35"/>
<circle cx="236.1" cy="436.3" r="2.35"/>
<circle cx="236.1" cy="484.5" r="2.35"/>
<circle cx="236.1" cy="522.0" r="2.35"/>
<circle cx="242.6" cy="512.0" r="2.35"/>
<circle cx="236.4" cy="501.6" r="2.35"/>
<circle cx="242.6" cy="504.7" r="2.35"/>
<circle cx="236.6" cy="423.1" r="2.35"/>
<circle cx="236.5" cy="529.5" r="2.35"/>
<circle cx="242.6" cy="509.5" r="2.35"/>
<circle cx="236.5" cy="492.5" r="2.35"/>
<circle cx="237.0" cy="378.9" r="2.35"/>
<circle cx="237.1" cy="523.8" r="2.35"/>
<circle cx="237.1" cy="494.7" r="2.35"/>
<circle cx="237.1" cy="486.8" r="2.35"/>
<circle cx="237.9" cy="394.2" r="2.35"/>
<circle cx="237.9" cy="537.7" r="2.35"/>
<circle cx="242.6" cy="408.7" r="2.35"/>
<circle cx="237.8" cy="379.2" r="2.35"/>
<circle cx="242.6" cy="456.0" r="2.35"/>
<circle cx="238.0" cy="411.2" r="2.35"/>
<circle cx="238.4" cy="482.6" r="2.35"/>
<circle cx="238.4" cy="549.3" r="2.35"/>
<circle cx="238.3" cy="496.8" r="2.35"/>
<circle cx="238.1" cy="499.7" r="2.35"/>
<circle cx="238.9" cy="522.9" r="2.35"/>
<circle cx="238.7" cy="424.4" r="2.35"/>
<circle cx="238.9" cy="478.2" r="2.35"/>
<circle cx="238.9" cy="473.6" r="2.35"/>
<circle cx="242.6" cy="480.4" r="2.35"/>
<circle cx="238.8" cy="492.7" r="2.35"/>
<circle cx="239.1" cy="542.8" r="2.35"/>
<circle cx="239.4" cy="428.9" r="2.35"/>
<circle cx="239.2" cy="470.0" r="2.35"/>
<circle cx="239.6" cy="539.5" r="2.35"/>
<circle cx="239.6" cy="460.4" r="2.35"/>
<circle cx="239.9" cy="507.4" r="2.35"/>
<circle cx="239.6" cy="464.9" r="2.35"/>
<circle cx="242.6" cy="490.3" r="2.35"/>
<circle cx="239.9" cy="503.2" r="2.35"/>
<circle cx="239.8" cy="484.7" r="2.35"/>
<circle cx="240.0" cy="383.3" r="2.35"/>
<circle cx="242.6" cy="526.8" r="2.35"/>
<circle cx="240.4" cy="509.0" r="2.35"/>
<circle cx="240.0" cy="452.0" r="2.35"/>
<circle cx="240.2" cy="473.5" r="2.35"/>
<circle cx="240.4" cy="443.5" r="2.35"/>
<circle cx="242.6" cy="440.4" r="2.35"/>
<circle cx="240.2" cy="415.4" r="2.35"/>
<circle cx="242.6" cy="458.9" r="2.35"/>
<circle cx="242.6" cy="404.8" r="2.35"/>
<circle cx="242.6" cy="500.3" r="2.35"/>
<circle cx="242.6" cy="472.0" r="2.35"/>
<circle cx="240.9" cy="565.0" r="2.35"/>
<circle cx="241.1" cy="484.7" r="2.35"/>
<circle cx="242.6" cy="520.0" r="2.35"/>
<circle cx="241.0" cy="395.0" r="2.35"/>
<circle cx="242.6" cy="418.6" r="2.35"/>
<circle cx="241.3" cy="435.1" r="2.35"/>
<circle cx="241.2" cy="444.2" r="2.35"/>
<circle cx="241.4" cy="542.9" r="2.35"/>
<circle cx="241.8" cy="561.1" r="2.35"/>
<circle cx="242.6" cy="420.1" r="2.35"/>
<circle cx="241.7" cy="554.1" r="2.35"/>
<circle cx="241.7" cy="518.9" r="2.35"/>
<circle cx="241.7" cy="469.5" r="2.35"/>
<circle cx="242.6" cy="436.5" r="2.35"/>
<circle cx="241.8" cy="483.7" r="2.35"/>
<circle cx="242.4" cy="537.0" r="2.35"/>
<circle cx="242.2" cy="406.1" r="2.35"/>
<circle cx="242.4" cy="383.6" r="2.35"/>
<circle cx="242.3" cy="374.5" r="2.35"/>
<circle cx="242.1" cy="381.4" r="2.35"/>
<circle cx="242.0" cy="415.5" r="2.35"/>
<circle cx="242.6" cy="465.6" r="2.35"/>
<circle cx="242.2" cy="525.1" r="2.35"/>
<circle cx="242.4" cy="505.9" r="2.35"/>
<circle cx="242.7" cy="533.6" r="2.35"/>
<circle cx="242.5" cy="430.7" r="2.35"/>
<circle cx="242.6" cy="479.3" r="2.35"/>
<circle cx="242.6" cy="444.4" r="2.35"/>
<circle cx="243.1" cy="424.9" r="2.35"/>
<circle cx="243.2" cy="453.5" r="2.35"/>
<circle cx="243.1" cy="482.8" r="2.35"/>
<circle cx="242.6" cy="526.4" r="2.35"/>
<circle cx="243.5" cy="391.6" r="2.35"/>
<circle cx="243.8" cy="423.1" r="2.35"/>
<circle cx="242.6" cy="432.7" r="2.35"/>
<circle cx="243.6" cy="485.1" r="2.35"/>
<circle cx="243.9" cy="522.5" r="2.35"/>
<circle cx="243.7" cy="486.1" r="2.35"/>
<circle cx="244.0" cy="438.7" r="2.35"/>
<circle cx="242.6" cy="465.5" r="2.35"/>
<circle cx="244.1" cy="527.3" r="2.35"/>
<circle cx="242.6" cy="403.8" r="2.35"/>
<circle cx="242.6" cy="454.2" r="2.35"/>
<circle cx="242.6" cy="516.9" r="2.35"/>
<circle cx="244.9" cy="426.9" r="2.35"/>
<circle cx="244.7" cy="434.9" r="2.35"/>
<circle cx="244.8" cy="521.3" r="2.35"/>
<circle cx="244.5" cy="447.4" r="2.35"/>
<circle cx="244.7" cy="442.0" r="2.35"/>
<circle cx="244.7" cy="489.0" r="2.35"/>
<circle cx="245.4" cy="531.0" r="2.35"/>
<circle cx="245.2" cy="462.3" r="2.35"/>
<circle cx="245.4" cy="507.7" r="2.35"/>
<circle cx="245.4" cy="520.3" r="2.35"/>
<circle cx="245.0" cy="497.4" r="2.35"/>
<circle cx="245.8" cy="508.9" r="2.35"/>
<circle cx="245.9" cy="527.8" r="2.35"/>
<circle cx="242.6" cy="537.6" r="2.35"/>
<circle cx="242.6" cy="378.2" r="2.35"/>
<circle cx="245.6" cy="508.3" r="2.35"/>
<circle cx="245.7" cy="475.3" r="2.35"/>
<circle cx="245.5" cy="466.5" r="2.35"/>
<circle cx="245.5" cy="506.3" r="2.35"/>
<circle cx="246.1" cy="405.7" r="2.35"/>
<circle cx="242.6" cy="554.0" r="2.35"/>
<circle cx="246.2" cy="509.6" r="2.35"/>
<circle cx="246.5" cy="511.5" r="2.35"/>
<circle cx="246.7" cy="514.0" r="2.35"/>
<circle cx="246.8" cy="402.2" r="2.35"/>
<circle cx="242.6" cy="464.4" r="2.35"/>
<circle cx="246.5" cy="502.1" r="2.35"/>
<circle cx="247.4" cy="428.0" r="2.35"/>
<circle cx="247.2" cy="496.6" r="2.35"/>
<circle cx="247.0" cy="521.3" r="2.35"/>
<circle cx="247.0" cy="478.2" r="2.35"/>
<circle cx="247.2" cy="425.9" r="2.35"/>
<circle cx="242.6" cy="485.9" r="2.35"/>
<circle cx="247.0" cy="467.3" r="2.35"/>
<circle cx="247.9" cy="443.7" r="2.35"/>
<circle cx="247.9" cy="401.2" r="2.35"/>
<circle cx="247.5" cy="521.6" r="2.35"/>
<circle cx="248.1" cy="541.6" r="2.35"/>
<circle cx="248.3" cy="389.5" r="2.35"/>
<circle cx="248.3" cy="552.1" r="2.35"/>
<circle cx="248.1" cy="416.9" r="2.35"/>
<circle cx="248.3" cy="462.8" r="2.35"/>
<circle cx="248.2" cy="488.4" r="2.35"/>
<circle cx="242.6" cy="534.9" r="2.35"/>
<circle cx="248.7" cy="483.3" r="2.35"/>
<circle cx="248.6" cy="515.8" r="2.35"/>
<circle cx="248.8" cy="409.6" r="2.35"/>
<circle cx="248.5" cy="499.4" r="2.35"/>
<circle cx="248.7" cy="501.6" r="2.35"/>
<circle cx="249.4" cy="565.0" r="2.35"/>
<circle cx="249.2" cy="418.4" r="2.35"/>
<circle cx="242.6" cy="484.3" r="2.35"/>
<circle cx="249.1" cy="484.4" r="2.35"/>
<circle cx="249.9" cy="538.0" r="2.35"/>
<circle cx="249.8" cy="481.3" r="2.35"/>
<circle cx="249.5" cy="472.6" r="2.35"/>
<circle cx="242.6" cy="504.8" r="2.35"/>
<circle cx="250.3" cy="490.7" r="2.35"/>
<circle cx="250.1" cy="493.0" r="2.35"/>
<circle cx="257.7" cy="464.4" r="2.35"/>
<circle cx="250.6" cy="467.0" r="2.35"/>
<circle cx="250.6" cy="420.8" r="2.35"/>
<circle cx="250.6" cy="516.2" r="2.35"/>
<circle cx="250.6" cy="488.5" r="2.35"/>
<circle cx="250.9" cy="510.9" r="2.35"/>
<circle cx="250.7" cy="448.2" r="2.35"/>
<circle cx="251.0" cy="433.0" r="2.35"/>
<circle cx="251.3" cy="524.9" r="2.35"/>
<circle cx="251.1" cy="496.6" r="2.35"/>
<circle cx="251.4" cy="509.8" r="2.35"/>
<circle cx="251.3" cy="486.0" r="2.35"/>
<circle cx="251.4" cy="441.8" r="2.35"/>
<circle cx="251.3" cy="502.1" r="2.35"/>
<circle cx="257.7" cy="501.3" r="2.35"/>
<circle cx="257.7" cy="470.2" r="2.35"/>
<circle cx="251.8" cy="397.3" r="2.35"/>
<circle cx="251.8" cy="510.0" r="2.35"/>
<circle cx="251.8" cy="444.0" r="2.35"/>
<circle cx="257.7" cy="469.9" r="2.35"/>
<circle cx="251.9" cy="402.0" r="2.35"/>
<circle cx="251.7" cy="564.7" r="2.35"/>
<circle cx="251.6" cy="509.2" r="2.35"/>
<circle cx="252.1" cy="487.6" r="2.35"/>
<circle cx="252.4" cy="556.5" r="2.35"/>
<circle cx="252.4" cy="431.0" r="2.35"/>
<circle cx="252.3" cy="462.8" r="2.35"/>
<circle cx="252.2" cy="500.6" r="2.35"/>
<circle cx="257.7" cy="500.9" r="2.35"/>
<circle cx="257.7" cy="482.8" r="2.35"/>
<circle cx="252.2" cy="504.4" r="2.35"/>
<circle cx="252.8" cy="485.2" r="2.35"/>
<circle cx="252.8" cy="475.9" r="2.35"/>
<circle cx="257.7" cy="411.7" r="2.35"/>
<circle cx="253.4" cy="494.0" r="2.35"/>
<circle cx="253.3" cy="500.4" r="2.35"/>
<circle cx="253.3" cy="461.7" r="2.35"/>
<circle cx="253.5" cy="519.7" r="2.35"/>
<circle cx="253.9" cy="368.9" r="2.35"/>
<circle cx="257.7" cy="498.7" r="2.35"/>
<circle cx="253.6" cy="515.4" r="2.35"/>
<circle cx="253.5" cy="453.2" r="2.35"/>
<circle cx="253.6" cy="483.4" r="2.35"/>
<circle cx="254.3" cy="527.9" r="2.35"/>
<circle cx="254.0" cy="470.6" r="2.35"/>
<circle cx="254.4" cy="421.1" r="2.35"/>
<circle cx="254.4" cy="402.3" r="2.35"/>
<circle cx="254.4" cy="451.8" r="2.35"/>
<circle cx="254.4" cy="481.9" r="2.35"/>
<circle cx="254.6" cy="391.5" r="2.35"/>
<circle cx="254.7" cy="444.9" r="2.35"/>
<circle cx="257.7" cy="482.3" r="2.35"/>
<circle cx="254.5" cy="565.6" r="2.35"/>
<circle cx="254.6" cy="465.9" r="2.35"/>
<circle cx="255.2" cy="466.3" r="2.35"/>
<circle cx="255.1" cy="545.6" r="2.35"/>
<circle cx="255.0" cy="477.4" r="2.35"/>
<circle cx="255.3" cy="470.3" r="2.35"/>
<circle cx="257.7" cy="393.9" r="2.35"/>
<circle cx="255.8" cy="400.4" r="2.35"/>
<circle cx="256.4" cy="497.4" r="2.35"/>
<circle cx="256.2" cy="471.5" r="2.35"/>
<circle cx="256.3" cy="394.7" r="2.35"/>
<circle cx="256.1" cy="445.2" r="2.35"/>
<circle cx="256.1" cy="420.7" r="2.35"/>
<circle cx="256.9" cy="444.3" r="2.35"/>
<circle cx="256.8" cy="425.5" r="2.35"/>
<circle cx="256.9" cy="472.1" r="2.35"/>
<circle cx="256.9" cy="475.2" r="2.35"/>
<circle cx="257.7" cy="502.7" r="2.35"/>
<circle cx="257.7" cy="472.0" r="2.35"/>
<circle cx="256.8" cy="525.0" r="2.35"/>
<circle cx="257.2" cy="433.2" r="2.35"/>
<circle cx="257.3" cy="490.6" r="2.35"/>
<circle cx="257.0" cy="485.3" r="2.35"/>
<circle cx="257.6" cy="476.3" r="2.35"/>
<circle cx="257.6" cy="484.1" r="2.35"/>
<circle cx="257.7" cy="464.6" r="2.35"/>
<circle cx="258.3" cy="521.7" r="2.35"/>
<circle cx="258.2" cy="519.6" r="2.35"/>
<circle cx="257.7" cy="412.8" r="2.35"/>
<circle cx="258.2" cy="493.9" r="2.35"/>
<circle cx="258.3" cy="470.9" r="2.35"/>
<circle cx="257.7" cy="426.9" r="2.35"/>
<circle cx="258.3" cy="421.8" r="2.35"/>
<circle cx="258.8" cy="561.2" r="2.35"/>
<circle cx="258.6" cy="427.2" r="2.35"/>
<circle cx="257.7" cy="435.6" r="2.35"/>
<circle cx="258.9" cy="515.4" r="2.35"/>
<circle cx="258.6" cy="378.6" r="2.35"/>
<circle cx="258.8" cy="465.3" r="2.35"/>
<circle cx="258.8" cy="451.7" r="2.35"/>
<circle cx="259.1" cy="397.8" r="2.35"/>
<circle cx="259.3" cy="470.9" r="2.35"/>
<circle cx="259.1" cy="482.5" r="2.35"/>
<circle cx="259.0" cy="519.8" r="2.35"/>
<circle cx="259.4" cy="510.2" r="2.35"/>
<circle cx="259.2" cy="531.5" r="2.35"/>
<circle cx="257.7" cy="521.0" r="2.35"/>
<circle cx="259.8" cy="459.4" r="2.35"/>
<circle cx="259.8" cy="553.3" r="2.35"/>
<circle cx="259.5" cy="565.4" r="2.35"/>
<circle cx="259.7" cy="477.0" r="2.35"/>
<circle cx="259.6" cy="405.0" r="2.35"/>
<circle cx="259.9" cy="496.4" r="2.35"/>
<circle cx="259.7" cy="423.6" r="2.35"/>
<circle cx="260.3" cy="508.0" r="2.35"/>
<circle cx="260.1" cy="428.7" r="2.35"/>
<circle cx="260.2" cy="429.8" r="2.35"/>
<circle cx="260.4" cy="507.3" r="2.35"/>
<circle cx="257.7" cy="388.3" r="2.35"/>
<circle cx="257.7" cy="386.9" r="2.35"/>
<circle cx="260.2" cy="502.5" r="2.35"/>
<circle cx="257.7" cy="385.7" r="2.35"/>
<circle cx="260.4" cy="445.9" r="2.35"/>
<circle cx="260.4" cy="469.2" r="2.35"/>
<circle cx="260.8" cy="542.4" r="2.35"/>
<circle cx="260.9" cy="439.7" r="2.35"/>
<circle cx="260.8" cy="477.8" r="2.35"/>
<circle cx="260.7" cy="536.2" r="2.35"/>
<circle cx="260.7" cy="425.9" r="2.35"/>
<circle cx="260.5" cy="508.1" r="2.35"/>
<circle cx="260.9" cy="396.1" r="2.35"/>
<circle cx="257.7" cy="450.5" r="2.35"/>
<circle cx="260.8" cy="453.4" r="2.35"/>
<circle cx="260.9" cy="469.6" r="2.35"/>
<circle cx="257.7" cy="531.5" r="2.35"/>
<circle cx="261.0" cy="482.0" r="2.35"/>
<circle cx="257.7" cy="453.3" r="2.35"/>
<circle cx="257.7" cy="527.3" r="2.35"/>
<circle cx="261.3" cy="446.1" r="2.35"/>
<circle cx="261.0" cy="424.2" r="2.35"/>
<circle cx="261.2" cy="522.3" r="2.35"/>
<circle cx="261.4" cy="486.2" r="2.35"/>
<circle cx="261.3" cy="429.4" r="2.35"/>
<circle cx="261.8" cy="462.2" r="2.35"/>
<circle cx="261.5" cy="419.7" r="2.35"/>
<circle cx="261.5" cy="422.8" r="2.35"/>
<circle cx="257.7" cy="456.8" r="2.35"/>
<circle cx="261.5" cy="414.9" r="2.35"/>
<circle cx="261.8" cy="428.8" r="2.35"/>
<circle cx="261.7" cy="440.4" r="2.35"/>
<circle cx="261.7" cy="490.0" r="2.35"/>
<circle cx="261.8" cy="428.7" r="2.35"/>
<circle cx="261.9" cy="470.0" r="2.35"/>
<circle cx="261.8" cy="461.6" r="2.35"/>
<circle cx="262.0" cy="518.4" r="2.35"/>
<circle cx="262.4" cy="460.7" r="2.35"/>
<circle cx="262.1" cy="478.7" r="2.35"/>
<circle cx="257.7" cy="469.9" r="2.35"/>
<circle cx="262.8" cy="409.5" r="2.35"/>
<circle cx="257.7" cy="533.0" r="2.35"/>
<circle cx="257.7" cy="458.4" r="2.35"/>
<circle cx="262.6" cy="447.4" r="2.35"/>
<circle cx="257.7" cy="437.7" r="2.35"/>
<circle cx="263.0" cy="429.5" r="2.35"/>
<circle cx="263.0" cy="392.6" r="2.35"/>
<circle cx="263.3" cy="468.1" r="2.35"/>
<circle cx="263.2" cy="517.5" r="2.35"/>
<circle cx="263.4" cy="377.0" r="2.35"/>
<circle cx="257.7" cy="398.7" r="2.35"/>
<circle cx="263.1" cy="446.5" r="2.35"/>
<circle cx="257.7" cy="425.1" r="2.35"/>
<circle cx="263.9" cy="373.2" r="2.35"/>
<circle cx="263.5" cy="375.8" r="2.35"/>
<circle cx="263.8" cy="514.2" r="2.35"/>
<circle cx="264.4" cy="383.1" r="2.35"/>
<circle cx="264.3" cy="493.7" r="2.35"/>
<circle cx="264.3" cy="535.8" r="2.35"/>
<circle cx="264.3" cy="549.7" r="2.35"/>
<circle cx="264.3" cy="542.4" r="2.35"/>
<circle cx="264.4" cy="426.1" r="2.35"/>
<circle cx="264.1" cy="487.0" r="2.35"/>
<circle cx="264.9" cy="357.3" r="2.35"/>
<circle cx="257.7" cy="498.3" r="2.35"/>
<circle cx="257.7" cy="431.8" r="2.35"/>
<circle cx="257.7" cy="426.7" r="2.35"/>
<circle cx="265.3" cy="527.9" r="2.35"/>
<circle cx="272.7" cy="411.5" r="2.35"/>
<circle cx="265.1" cy="539.2" r="2.35"/>
<circle cx="265.0" cy="436.0" r="2.35"/>
<circle cx="265.7" cy="525.6" r="2.35"/>
<circle cx="265.5" cy="442.1" r="2.35"/>
<circle cx="265.8" cy="355.3" r="2.35"/>
<circle cx="265.6" cy="403.0" r="2.35"/>
<circle cx="265.5" cy="430.2" r="2.35"/>
<circle cx="265.9" cy="417.0" r="2.35"/>
<circle cx="265.5" cy="443.4" r="2.35"/>
<circle cx="266.0" cy="383.3" r="2.35"/>
<circle cx="266.3" cy="491.7" r="2.35"/>
<circle cx="266.0" cy="485.3" r="2.35"/>
<circle cx="266.2" cy="508.8" r="2.35"/>
<circle cx="266.2" cy="546.9" r="2.35"/>
<circle cx="272.7" cy="510.4" r="2.35"/>
<circle cx="266.1" cy="429.2" r="2.35"/>
<circle cx="266.1" cy="471.9" r="2.35"/>
<circle cx="272.7" cy="423.4" r="2.35"/>
<circle cx="272.7" cy="483.9" r="2.35"/>
<circle cx="266.7" cy="462.0" r="2.35"/>
<circle cx="266.8" cy="489.0" r="2.35"/>
<circle cx="272.7" cy="483.7" r="2.35"/>
<circle cx="266.6" cy="468.1" r="2.35"/>
<circle cx="266.9" cy="525.5" r="2.35"/>
<circle cx="266.6" cy="501.4" r="2.35"/>
<circle cx="266.9" cy="485.2" r="2.35"/>
<circle cx="266.8" cy="447.2" r="2.35"/>
<circle cx="266.5" cy="421.1" r="2.35"/>
<circle cx="267.4" cy="367.7" r="2.35"/>
<circle cx="272.7" cy="410.8" r="2.35"/>
<circle cx="272.7" cy="558.7" r="2.35"/>
<circle cx="267.0" cy="467.5" r="2.35"/>
<circle cx="267.3" cy="441.8" r="2.35"/>
<circle cx="267.1" cy="472.1" r="2.35"/>
<circle cx="267.6" cy="417.3" r="2.35"/>
<circle cx="272.7" cy="532.1" r="2.35"/>
<circle cx="267.5" cy="458.4" r="2.35"/>
<circle cx="267.9" cy="471.5" r="2.35"/>
<circle cx="267.7" cy="491.7" r="2.35"/>
<circle cx="267.9" cy="466.3" r="2.35"/>
<circle cx="268.3" cy="523.4" r="2.35"/>
<circle cx="268.3" cy="492.1" r="2.35"/>
<circle cx="268.1" cy="367.4" r="2.35"/>
<circle cx="268.1" cy="469.9" r="2.35"/>
<circle cx="268.0" cy="486.3" r="2.35"/>
<circle cx="268.0" cy="419.6" r="2.35"/>
<circle cx="272.7" cy="426.4" r="2.35"/>
<circle cx="268.8" cy="548.4" r="2.35"/>
<circle cx="268.8" cy="445.9" r="2.35"/>
<circle cx="268.5" cy="510.7" r="2.35"/>
<circle cx="272.7" cy="422.9" r="2.35"/>
<circle cx="269.4" cy="393.3" r="2.35"/>
<circle cx="269.3" cy="419.3" r="2.35"/>
<circle cx="269.4" cy="485.1" r="2.35"/>
<circle cx="269.0" cy="396.3" r="2.35"/>
<circle cx="269.0" cy="437.0" r="2.35"/>
<circle cx="272.7" cy="501.0" r="2.35"/>
<circle cx="269.5" cy="378.3" r="2.35"/>
<circle cx="269.7" cy="444.7" r="2.35"/>
<circle cx="269.8" cy="451.1" r="2.35"/>
<circle cx="270.3" cy="367.0" r="2.35"/>
<circle cx="270.2" cy="410.3" r="2.35"/>
<circle cx="272.7" cy="374.2" r="2.35"/>
<circle cx="272.7" cy="436.9" r="2.35"/>
<circle cx="270.2" cy="403.9" r="2.35"/>
<circle cx="270.0" cy="419.1" r="2.35"/>
<circle cx="270.0" cy="433.4" r="2.35"/>
<circle cx="270.4" cy="533.0" r="2.35"/>
<circle cx="272.7" cy="457.3" r="2.35"/>
<circle cx="272.7" cy="521.3" r="2.35"/>
<circle cx="270.9" cy="512.2" r="2.35"/>
<circle cx="270.7" cy="463.5" r="2.35"/>
<circle cx="270.9" cy="420.3" r="2.35"/>
<circle cx="271.2" cy="400.1" r="2.35"/>
<circle cx="271.0" cy="395.2" r="2.35"/>
<circle cx="271.2" cy="376.0" r="2.35"/>
<circle cx="271.2" cy="501.2" r="2.35"/>
<circle cx="271.6" cy="500.4" r="2.35"/>
<circle cx="271.9" cy="480.1" r="2.35"/>
<circle cx="271.7" cy="501.5" r="2.35"/>
<circle cx="272.7" cy="511.0" r="2.35"/>
<circle cx="271.7" cy="382.6" r="2.35"/>
<circle cx="271.6" cy="400.9" r="2.35"/>
<circle cx="271.9" cy="486.0" r="2.35"/>
<circle cx="271.7" cy="460.4" r="2.35"/>
<circle cx="272.0" cy="500.0" r="2.35"/>
<circle cx="272.1" cy="427.7" r="2.35"/>
<circle cx="272.0" cy="394.8" r="2.35"/>
<circle cx="272.7" cy="504.9" r="2.35"/>
<circle cx="272.0" cy="459.3" r="2.35"/>
<circle cx="272.3" cy="413.6" r="2.35"/>
<circle cx="272.7" cy="516.8" r="2.35"/>
<circle cx="272.6" cy="390.9" r="2.35"/>
<circle cx="272.8" cy="421.8" r="2.35"/>
<circle cx="272.5" cy="545.5" r="2.35"/>
<circle cx="272.8" cy="525.6" r="2.35"/>
<circle cx="272.7" cy="437.2" r="2.35"/>
<circle cx="272.7" cy="456.1" r="2.35"/>
<circle cx="272.6" cy="439.3" r="2.35"/>
<circle cx="273.3" cy="521.3" r="2.35"/>
<circle cx="273.3" cy="502.7" r="2.35"/>
<circle cx="272.7" cy="525.5" r="2.35"/>
<circle cx="273.3" cy="413.1" r="2.35"/>
<circle cx="273.0" cy="478.0" r="2.35"/>
<circle cx="273.3" cy="436.0" r="2.35"/>
<circle cx="273.6" cy="411.7" r="2.35"/>
<circle cx="273.5" cy="435.5" r="2.35"/>
<circle cx="274.1" cy="398.3" r="2.35"/>
<circle cx="274.4" cy="423.2" r="2.35"/>
<circle cx="272.7" cy="478.2" r="2.35"/>
<circle cx="274.2" cy="459.1" r="2.35"/>
<circle cx="274.1" cy="352.4" r="2.35"/>
<circle cx="274.2" cy="521.6" r="2.35"/>
<circle cx="274.3" cy="387.2" r="2.35"/>
<circle cx="274.4" cy="425.2" r="2.35"/>
<circle cx="274.3" cy="463.8" r="2.35"/>
<circle cx="274.4" cy="516.5" r="2.35"/>
<circle cx="274.1" cy="433.5" r="2.35"/>
<circle cx="274.7" cy="458.6" r="2.35"/>
<circle cx="274.9" cy="512.6" r="2.35"/>
<circle cx="274.5" cy="477.1" r="2.35"/>
<circle cx="275.2" cy="385.3" r="2.35"/>
<circle cx="272.7" cy="460.2" r="2.35"/>
<circle cx="275.4" cy="374.6" r="2.35"/>
<circle cx="272.7" cy="363.6" r="2.35"/>
<circle cx="275.2" cy="439.1" r="2.35"/>
<circle cx="275.0" cy="479.1" r="2.35"/>
<circle cx="275.5" cy="506.1" r="2.35"/>
<circle cx="275.8" cy="364.1" r="2.35"/>
<circle cx="275.6" cy="431.7" r="2.35"/>
<circle cx="275.6" cy="471.4" r="2.35"/>
<circle cx="275.9" cy="421.0" r="2.35"/>
<circle cx="275.7" cy="459.4" r="2.35"/>
<circle cx="272.7" cy="475.3" r="2.35"/>
<circle cx="276.1" cy="391.3" r="2.35"/>
<circle cx="276.2" cy="485.5" r="2.35"/>
<circle cx="272.7" cy="456.3" r="2.35"/>
<circle cx="276.8" cy="441.4" r="2.35"/>
<circle cx="276.5" cy="487.7" r="2.35"/>
<circle cx="276.7" cy="544.7" r="2.35"/>
<circle cx="276.7" cy="498.0" r="2.35"/>
<circle cx="272.7" cy="517.4" r="2.35"/>
<circle cx="276.5" cy="351.4" r="2.35"/>
<circle cx="272.7" cy="475.9" r="2.35"/>
<circle cx="272.7" cy="490.7" r="2.35"/>
<circle cx="276.9" cy="447.3" r="2.35"/>
<circle cx="277.4" cy="497.3" r="2.35"/>
<circle cx="277.1" cy="381.3" r="2.35"/>
<circle cx="272.7" cy="415.4" r="2.35"/>
<circle cx="277.8" cy="514.6" r="2.35"/>
<circle cx="277.5" cy="515.6" r="2.35"/>
<circle cx="277.9" cy="517.9" r="2.35"/>
<circle cx="272.7" cy="516.8" r="2.35"/>
<circle cx="272.7" cy="363.1" r="2.35"/>
<circle cx="272.7" cy="511.0" r="2.35"/>
<circle cx="272.7" cy="442.5" r="2.35"/>
<circle cx="278.3" cy="440.0" r="2.35"/>
<circle cx="278.0" cy="443.4" r="2.35"/>
<circle cx="278.0" cy="412.2" r="2.35"/>
<circle cx="278.6" cy="427.9" r="2.35"/>
<circle cx="278.8" cy="425.3" r="2.35"/>
<circle cx="278.5" cy="446.9" r="2.35"/>
<circle cx="278.8" cy="496.5" r="2.35"/>
<circle cx="278.5" cy="455.3" r="2.35"/>
<circle cx="272.7" cy="514.3" r="2.35"/>
<circle cx="278.9" cy="401.3" r="2.35"/>
<circle cx="278.6" cy="455.8" r="2.35"/>
<circle cx="279.4" cy="481.8" r="2.35"/>
<circle cx="279.1" cy="432.0" r="2.35"/>
<circle cx="272.7" cy="354.9" r="2.35"/>
<circle cx="279.4" cy="364.4" r="2.35"/>
<circle cx="279.8" cy="503.8" r="2.35"/>
<circle cx="272.7" cy="506.4" r="2.35"/>
<circle cx="279.9" cy="485.9" r="2.35"/>
<circle cx="279.8" cy="514.2" r="2.35"/>
<circle cx="279.6" cy="413.5" r="2.35"/>
<circle cx="272.7" cy="414.6" r="2.35"/>
<circle cx="280.0" cy="413.3" r="2.35"/>
<circle cx="280.2" cy="418.7" r="2.35"/>
<circle cx="287.7" cy="430.7" r="2.35"/>
<circle cx="280.9" cy="525.4" r="2.35"/>
<circle cx="280.8" cy="439.7" r="2.35"/>
<circle cx="280.8" cy="443.0" r="2.35"/>
<circle cx="280.5" cy="463.8" r="2.35"/>
<circle cx="281.2" cy="467.4" r="2.35"/>
<circle cx="281.0" cy="434.8" r="2.35"/>
<circle cx="281.3" cy="489.0" r="2.35"/>
<circle cx="281.2" cy="519.5" r="2.35"/>
<circle cx="281.0" cy="532.2" r="2.35"/>
<circle cx="281.0" cy="459.8" r="2.35"/>
<circle cx="281.0" cy="394.9" r="2.35"/>
<circle cx="287.7" cy="452.7" r="2.35"/>
<circle cx="281.8" cy="482.4" r="2.35"/>
<circle cx="287.7" cy="477.9" r="2.35"/>
<circle cx="281.8" cy="460.0" r="2.35"/>
<circle cx="281.5" cy="477.3" r="2.35"/>
<circle cx="281.6" cy="454.0" r="2.35"/>
<circle cx="281.6" cy="414.5" r="2.35"/>
<circle cx="287.7" cy="351.0" r="2.35"/>
<circle cx="282.3" cy="472.1" r="2.35"/>
<circle cx="287.7" cy="479.0" r="2.35"/>
<circle cx="282.2" cy="495.6" r="2.35"/>
<circle cx="287.7" cy="467.2" r="2.35"/>
<circle cx="287.7" cy="391.2" r="2.35"/>
<circle cx="282.2" cy="489.2" r="2.35"/>
<circle cx="282.3" cy="433.8" r="2.35"/>
<circle cx="282.9" cy="368.8" r="2.35"/>
<circle cx="282.9" cy="485.9" r="2.35"/>
<circle cx="282.9" cy="372.0" r="2.35"/>
<circle cx="282.8" cy="426.5" r="2.35"/>
<circle cx="282.7" cy="538.1" r="2.35"/>
<circle cx="282.8" cy="384.7" r="2.35"/>
<circle cx="282.6" cy="369.9" r="2.35"/>
<circle cx="282.8" cy="490.3" r="2.35"/>
<circle cx="282.7" cy="478.1" r="2.35"/>
<circle cx="283.3" cy="461.3" r="2.35"/>
<circle cx="287.7" cy="482.5" r="2.35"/>
<circle cx="283.3" cy="372.1" r="2.35"/>
<circle cx="283.2" cy="391.1" r="2.35"/>
<circle cx="283.0" cy="526.3" r="2.35"/>
<circle cx="283.4" cy="377.8" r="2.35"/>
<circle cx="287.7" cy="491.2" r="2.35"/>
<circle cx="283.8" cy="495.5" r="2.35"/>
<circle cx="283.5" cy="429.4" r="2.35"/>
<circle cx="283.8" cy="453.0" r="2.35"/>
<circle cx="283.7" cy="510.8" r="2.35"/>
<circle cx="283.7" cy="449.3" r="2.35"/>
<circle cx="283.7" cy="351.0" r="2.35"/>
<circle cx="283.9" cy="465.4" r="2.35"/>
<circle cx="284.4" cy="510.8" r="2.35"/>
<circle cx="284.1" cy="464.1" r="2.35"/>
<circle cx="287.7" cy="422.9" r="2.35"/>
<circle cx="284.4" cy="391.8" r="2.35"/>
<circle cx="287.7" cy="440.1" r="2.35"/>
<circle cx="284.3" cy="467.6" r="2.35"/>
<circle cx="284.3" cy="451.9" r="2.35"/>
<circle cx="287.7" cy="444.0" r="2.35"/>
<circle cx="284.7" cy="436.8" r="2.35"/>
<circle cx="284.5" cy="460.7" r="2.35"/>
<circle cx="287.7" cy="459.0" r="2.35"/>
<circle cx="285.3" cy="507.0" r="2.35"/>
<circle cx="285.4" cy="329.0" r="2.35"/>
<circle cx="285.2" cy="452.0" r="2.35"/>
<circle cx="287.7" cy="490.4" r="2.35"/>
<circle cx="285.0" cy="449.4" r="2.35"/>
<circle cx="285.4" cy="469.8" r="2.35"/>
<circle cx="285.5" cy="528.1" r="2.35"/>
<circle cx="287.7" cy="429.5" r="2.35"/>
<circle cx="285.6" cy="414.2" r="2.35"/>
<circle cx="287.7" cy="470.4" r="2.35"/>
<circle cx="285.9" cy="494.4" r="2.35"/>
<circle cx="287.7" cy="481.2" r="2.35"/>
<circle cx="287.7" cy="368.6" r="2.35"/>
<circle cx="286.1" cy="374.3" r="2.35"/>
<circle cx="287.7" cy="371.3" r="2.35"/>
<circle cx="286.1" cy="427.4" r="2.35"/>
<circle cx="287.7" cy="523.6" r="2.35"/>
<circle cx="286.1" cy="418.3" r="2.35"/>
<circle cx="286.1" cy="384.4" r="2.35"/>
<circle cx="286.1" cy="535.1" r="2.35"/>
<circle cx="286.0" cy="531.5" r="2.35"/>
<circle cx="286.2" cy="374.4" r="2.35"/>
<circle cx="287.7" cy="443.0" r="2.35"/>
<circle cx="286.3" cy="457.1" r="2.35"/>
<circle cx="286.7" cy="491.6" r="2.35"/>
<circle cx="286.7" cy="401.9" r="2.35"/>
<circle cx="286.6" cy="442.5" r="2.35"/>
<circle cx="286.5" cy="418.5" r="2.35"/>
<circle cx="286.9" cy="474.2" r="2.35"/>
<circle cx="286.5" cy="529.0" r="2.35"/>
<circle cx="287.7" cy="501.6" r="2.35"/>
<circle cx="286.7" cy="436.6" r="2.35"/>
<circle cx="287.7" cy="479.7" r="2.35"/>
<circle cx="287.7" cy="451.3" r="2.35"/>
<circle cx="287.7" cy="422.2" r="2.35"/>
<circle cx="287.0" cy="395.3" r="2.35"/>
<circle cx="287.1" cy="357.2" r="2.35"/>
<circle cx="287.3" cy="386.8" r="2.35"/>
<circle cx="287.0" cy="452.3" r="2.35"/>
<circle cx="287.2" cy="484.2" r="2.35"/>
<circle cx="287.7" cy="462.2" r="2.35"/>
<circle cx="287.9" cy="481.4" r="2.35"/>
<circle cx="287.7" cy="416.7" r="2.35"/>
<circle cx="287.9" cy="394.1" r="2.35"/>
<circle cx="287.6" cy="400.6" r="2.35"/>
<circle cx="287.9" cy="390.5" r="2.35"/>
<circle cx="287.7" cy="523.0" r="2.35"/>
<circle cx="287.7" cy="512.8" r="2.35"/>
<circle cx="287.7" cy="377.8" r="2.35"/>
<circle cx="288.2" cy="377.8" r="2.35"/>
<circle cx="288.0" cy="389.4" r="2.35"/>
<circle cx="288.1" cy="354.5" r="2.35"/>
<circle cx="287.7" cy="437.0" r="2.35"/>
<circle cx="287.7" cy="409.5" r="2.35"/>
<circle cx="288.9" cy="491.9" r="2.35"/>
<circle cx="288.8" cy="361.1" r="2.35"/>
<circle cx="287.7" cy="424.6" r="2.35"/>
<circle cx="289.1" cy="383.5" r="2.35"/>
<circle cx="289.4" cy="497.7" r="2.35"/>
<circle cx="289.1" cy="402.2" r="2.35"/>
<circle cx="289.4" cy="474.8" r="2.35"/>
<circle cx="287.7" cy="401.0" r="2.35"/>
<circle cx="289.8" cy="453.7" r="2.35"/>
<circle cx="287.7" cy="493.5" r="2.35"/>
<circle cx="290.1" cy="378.7" r="2.35"/>
<circle cx="290.0" cy="379.7" r="2.35"/>
<circle cx="290.0" cy="397.0" r="2.35"/>
<circle cx="290.2" cy="506.9" r="2.35"/>
<circle cx="290.2" cy="530.1" r="2.35"/>
<circle cx="287.7" cy="427.1" r="2.35"/>
<circle cx="290.2" cy="450.0" r="2.35"/>
<circle cx="290.8" cy="492.0" r="2.35"/>
<circle cx="287.7" cy="369.4" r="2.35"/>
<circle cx="290.7" cy="434.0" r="2.35"/>
<circle cx="290.5" cy="495.8" r="2.35"/>
<circle cx="290.8" cy="436.5" r="2.35"/>
<circle cx="290.6" cy="443.2" r="2.35"/>
<circle cx="287.7" cy="482.9" r="2.35"/>
<circle cx="290.5" cy="434.0" r="2.35"/>
<circle cx="291.4" cy="448.2" r="2.35"/>
<circle cx="291.2" cy="406.5" r="2.35"/>
<circle cx="291.4" cy="437.6" r="2.35"/>
<circle cx="291.2" cy="476.5" r="2.35"/>
<circle cx="291.4" cy="493.6" r="2.35"/>
<circle cx="291.1" cy="473.8" r="2.35"/>
<circle cx="287.7" cy="515.4" r="2.35"/>
<circle cx="291.2" cy="330.6" r="2.35"/>
<circle cx="287.7" cy="420.4" r="2.35"/>
<circle cx="291.5" cy="463.7" r="2.35"/>
<circle cx="292.2" cy="497.6" r="2.35"/>
<circle cx="292.0" cy="476.0" r="2.35"/>
<circle cx="292.2" cy="422.5" r="2.35"/>
<circle cx="292.4" cy="487.5" r="2.35"/>
<circle cx="287.7" cy="411.0" r="2.35"/>
<circle cx="292.4" cy="497.3" r="2.35"/>
<circle cx="292.2" cy="516.9" r="2.35"/>
<circle cx="292.8" cy="486.0" r="2.35"/>
<circle cx="287.7" cy="333.8" r="2.35"/>
<circle cx="293.3" cy="432.6" r="2.35"/>
<circle cx="293.0" cy="495.4" r="2.35"/>
<circle cx="293.9" cy="496.2" r="2.35"/>
<circle cx="287.7" cy="370.1" r="2.35"/>
<circle cx="293.8" cy="513.0" r="2.35"/>
<circle cx="287.7" cy="318.6" r="2.35"/>
<circle cx="293.6" cy="404.5" r="2.35"/>
<circle cx="287.7" cy="456.5" r="2.35"/>
<circle cx="293.9" cy="428.2" r="2.35"/>
<circle cx="293.6" cy="407.7" r="2.35"/>
<circle cx="293.8" cy="462.4" r="2.35"/>
<circle cx="287.7" cy="494.2" r="2.35"/>
<circle cx="294.1" cy="479.4" r="2.35"/>
<circle cx="294.4" cy="475.8" r="2.35"/>
<circle cx="294.4" cy="324.8" r="2.35"/>
<circle cx="294.3" cy="490.9" r="2.35"/>
<circle cx="287.7" cy="391.8" r="2.35"/>
<circle cx="294.0" cy="404.0" r="2.35"/>
<circle cx="294.4" cy="400.7" r="2.35"/>
<circle cx="294.3" cy="461.4" r="2.35"/>
<circle cx="294.0" cy="420.1" r="2.35"/>
<circle cx="287.7" cy="345.9" r="2.35"/>
<circle cx="294.6" cy="489.7" r="2.35"/>
<circle cx="294.9" cy="491.8" r="2.35"/>
<circle cx="294.9" cy="402.2" r="2.35"/>
<circle cx="294.5" cy="376.2" r="2.35"/>
<circle cx="294.9" cy="510.0" r="2.35"/>
<circle cx="287.7" cy="435.6" r="2.35"/>
<circle cx="294.8" cy="402.9" r="2.35"/>
<circle cx="295.2" cy="353.9" r="2.35"/>
<circle cx="295.0" cy="337.3" r="2.35"/>
<circle cx="295.2" cy="447.6" r="2.35"/>
<circle cx="295.0" cy="426.0" r="2.35"/>
<circle cx="295.4" cy="483.5" r="2.35"/>
<circle cx="295.4" cy="323.1" r="2.35"/>
<circle cx="295.4" cy="453.5" r="2.35"/>
<circle cx="295.4" cy="492.5" r="2.35"/>
<circle cx="302.7" cy="393.5" r="2.35"/>
<circle cx="295.9" cy="503.7" r="2.35"/>
<circle cx="295.7" cy="322.3" r="2.35"/>
<circle cx="295.7" cy="466.8" r="2.35"/>
<circle cx="295.5" cy="479.1" r="2.35"/>
<circle cx="295.7" cy="428.2" r="2.35"/>
<circle cx="302.7" cy="422.8" r="2.35"/>
<circle cx="296.2" cy="340.2" r="2.35"/>
<circle cx="296.2" cy="490.8" r="2.35"/>
<circle cx="296.4" cy="398.7" r="2.35"/>
<circle cx="296.2" cy="372.9" r="2.35"/>
<circle cx="302.7" cy="499.7" r="2.35"/>
<circle cx="296.2" cy="395.5" r="2.35"/>
<circle cx="296.4" cy="431.9" r="2.35"/>
<circle cx="296.8" cy="350.5" r="2.35"/>
<circle cx="296.6" cy="398.1" r="2.35"/>
<circle cx="296.6" cy="327.1" r="2.35"/>
<circle cx="296.8" cy="340.5" r="2.35"/>
<circle cx="302.7" cy="472.4" r="2.35"/>
<circle cx="296.8" cy="397.9" r="2.35"/>
<circle cx="296.6" cy="411.7" r="2.35"/>
<circle cx="302.7" cy="341.3" r="2.35"/>
<circle cx="297.2" cy="418.5" r="2.35"/>
<circle cx="297.0" cy="514.1" r="2.35"/>
<circle cx="297.4" cy="409.8" r="2.35"/>
<circle cx="302.7" cy="456.2" r="2.35"/>
<circle cx="302.7" cy="402.3" r="2.35"/>
<circle cx="297.3" cy="432.0" r="2.35"/>
<circle cx="297.1" cy="447.9" r="2.35"/>
<circle cx="297.8" cy="474.5" r="2.35"/>
<circle cx="302.7" cy="367.7" r="2.35"/>
<circle cx="302.7" cy="474.3" r="2.35"/>
<circle cx="297.6" cy="466.1" r="2.35"/>
<circle cx="302.7" cy="414.6" r="2.35"/>
<circle cx="298.3" cy="494.2" r="2.35"/>
<circle cx="298.3" cy="460.3" r="2.35"/>
<circle cx="298.3" cy="489.3" r="2.35"/>
<circle cx="298.1" cy="500.5" r="2.35"/>
<circle cx="302.7" cy="492.6" r="2.35"/>
<circle cx="298.3" cy="410.4" r="2.35"/>
<circle cx="298.7" cy="516.8" r="2.35"/>
<circle cx="298.5" cy="371.4" r="2.35"/>
<circle cx="302.7" cy="362.2" r="2.35"/>
<circle cx="298.6" cy="481.9" r="2.35"/>
<circle cx="298.6" cy="343.7" r="2.35"/>
<circle cx="302.7" cy="410.2" r="2.35"/>
<circle cx="302.7" cy="458.9" r="2.35"/>
<circle cx="299.3" cy="441.5" r="2.35"/>
<circle cx="299.1" cy="449.2" r="2.35"/>
<circle cx="299.2" cy="406.7" r="2.35"/>
<circle cx="302.7" cy="511.3" r="2.35"/>
<circle cx="299.1" cy="453.8" r="2.35"/>
<circle cx="299.7" cy="464.4" r="2.35"/>
<circle cx="302.7" cy="418.9" r="2.35"/>
<circle cx="299.5" cy="312.1" r="2.35"/>
<circle cx="302.7" cy="497.7" r="2.35"/>
<circle cx="299.8" cy="494.4" r="2.35"/>
<circle cx="299.8" cy="470.9" r="2.35"/>
<circle cx="300.3" cy="407.3" r="2.35"/>
<circle cx="300.3" cy="350.8" r="2.35"/>
<circle cx="302.7" cy="412.3" r="2.35"/>
<circle cx="300.7" cy="471.9" r="2.35"/>
<circle cx="300.6" cy="315.3" r="2.35"/>
<circle cx="301.1" cy="376.3" r="2.35"/>
<circle cx="301.3" cy="476.7" r="2.35"/>
<circle cx="301.3" cy="337.4" r="2.35"/>
<circle cx="301.1" cy="445.8" r="2.35"/>
<circle cx="301.3" cy="478.6" r="2.35"/>
<circle cx="301.1" cy="466.8" r="2.35"/>
<circle cx="302.7" cy="363.8" r="2.35"/>
<circle cx="302.7" cy="463.0" r="2.35"/>
<circle cx="301.9" cy="468.4" r="2.35"/>
<circle cx="302.7" cy="345.3" r="2.35"/>
<circle cx="301.7" cy="439.4" r="2.35"/>
<circle cx="301.8" cy="458.0" r="2.35"/>
<circle cx="302.7" cy="485.2" r="2.35"/>
<circle cx="301.9" cy="478.6" r="2.35"/>
<circle cx="302.7" cy="478.5" r="2.35"/>
<circle cx="302.0" cy="478.2" r="2.35"/>
<circle cx="302.0" cy="444.6" r="2.35"/>
<circle cx="302.7" cy="446.2" r="2.35"/>
<circle cx="302.6" cy="481.1" r="2.35"/>
<circle cx="302.5" cy="494.8" r="2.35"/>
<circle cx="302.9" cy="381.5" r="2.35"/>
<circle cx="303.3" cy="387.0" r="2.35"/>
<circle cx="303.1" cy="505.1" r="2.35"/>
<circle cx="302.7" cy="397.0" r="2.35"/>
<circle cx="303.0" cy="483.5" r="2.35"/>
<circle cx="303.2" cy="426.8" r="2.35"/>
<circle cx="303.8" cy="467.3" r="2.35"/>
<circle cx="303.6" cy="358.7" r="2.35"/>
<circle cx="302.7" cy="394.8" r="2.35"/>
<circle cx="303.5" cy="516.0" r="2.35"/>
<circle cx="303.6" cy="460.5" r="2.35"/>
<circle cx="303.6" cy="461.8" r="2.35"/>
<circle cx="304.2" cy="370.6" r="2.35"/>
<circle cx="302.7" cy="435.0" r="2.35"/>
<circle cx="302.7" cy="428.7" r="2.35"/>
<circle cx="304.6" cy="448.0" r="2.35"/>
<circle cx="304.7" cy="325.2" r="2.35"/>
<circle cx="305.0" cy="485.2" r="2.35"/>
<circle cx="305.1" cy="489.1" r="2.35"/>
<circle cx="302.7" cy="409.8" r="2.35"/>
<circle cx="305.4" cy="496.2" r="2.35"/>
<circle cx="305.0" cy="414.1" r="2.35"/>
<circle cx="305.8" cy="471.9" r="2.35"/>
<circle cx="302.7" cy="478.6" r="2.35"/>
<circle cx="305.7" cy="488.4" r="2.35"/>
<circle cx="305.5" cy="455.4" r="2.35"/>
<circle cx="305.5" cy="466.3" r="2.35"/>
<circle cx="302.7" cy="447.0" r="2.35"/>
<circle cx="305.5" cy="482.9" r="2.35"/>
<circle cx="302.7" cy="399.1" r="2.35"/>
<circle cx="305.7" cy="393.1" r="2.35"/>
<circle cx="302.7" cy="414.0" r="2.35"/>
<circle cx="306.2" cy="497.0" r="2.35"/>
<circle cx="306.1" cy="443.2" r="2.35"/>
<circle cx="306.1" cy="412.7" r="2.35"/>
<circle cx="302.7" cy="401.1" r="2.35"/>
<circle cx="302.7" cy="431.3" r="2.35"/>
<circle cx="306.9" cy="457.2" r="2.35"/>
<circle cx="306.5" cy="424.1" r="2.35"/>
<circle cx="306.5" cy="485.6" r="2.35"/>
<circle cx="306.9" cy="462.4" r="2.35"/>
<circle cx="302.7" cy="433.8" r="2.35"/>
<circle cx="307.2" cy="490.5" r="2.35"/>
<circle cx="307.2" cy="443.4" r="2.35"/>
<circle cx="307.4" cy="489.2" r="2.35"/>
<circle cx="302.7" cy="425.2" r="2.35"/>
<circle cx="302.7" cy="415.2" r="2.35"/>
<circle cx="307.7" cy="479.4" r="2.35"/>
<circle cx="307.5" cy="452.9" r="2.35"/>
<circle cx="302.7" cy="469.7" r="2.35"/>
<circle cx="302.7" cy="433.0" r="2.35"/>
<circle cx="307.6" cy="458.0" r="2.35"/>
<circle cx="307.5" cy="478.7" r="2.35"/>
<circle cx="308.4" cy="444.2" r="2.35"/>
<circle cx="308.0" cy="429.3" r="2.35"/>
<circle cx="302.7" cy="311.2" r="2.35"/>
<circle cx="302.7" cy="401.6" r="2.35"/>
<circle cx="308.4" cy="403.8" r="2.35"/>
<circle cx="308.4" cy="413.2" r="2.35"/>
<circle cx="302.7" cy="392.7" r="2.35"/>
<circle cx="308.1" cy="455.9" r="2.35"/>
<circle cx="302.7" cy="490.4" r="2.35"/>
<circle cx="308.5" cy="417.2" r="2.35"/>
<circle cx="308.9" cy="417.6" r="2.35"/>
<circle cx="308.6" cy="455.0" r="2.35"/>
<circle cx="308.5" cy="448.0" r="2.35"/>
<circle cx="302.7" cy="455.8" r="2.35"/>
<circle cx="308.8" cy="437.2" r="2.35"/>
<circle cx="302.7" cy="444.9" r="2.35"/>
<circle cx="302.7" cy="488.8" r="2.35"/>
<circle cx="309.1" cy="372.7" r="2.35"/>
<circle cx="309.4" cy="450.5" r="2.35"/>
<circle cx="302.7" cy="377.7" r="2.35"/>
<circle cx="302.7" cy="475.8" r="2.35"/>
<circle cx="302.7" cy="387.2" r="2.35"/>
<circle cx="309.0" cy="401.5" r="2.35"/>
<circle cx="309.8" cy="437.8" r="2.35"/>
<circle cx="309.9" cy="367.1" r="2.35"/>
<circle cx="302.7" cy="408.0" r="2.35"/>
<circle cx="309.7" cy="356.0" r="2.35"/>
<circle cx="309.5" cy="437.4" r="2.35"/>
<circle cx="302.7" cy="399.4" r="2.35"/>
<circle cx="309.5" cy="431.1" r="2.35"/>
<circle cx="309.5" cy="435.4" r="2.35"/>
<circle cx="310.4" cy="421.9" r="2.35"/>
<circle cx="310.2" cy="500.3" r="2.35"/>
<circle cx="310.2" cy="457.8" r="2.35"/>
<circle cx="310.1" cy="352.6" r="2.35"/>
<circle cx="302.7" cy="401.4" r="2.35"/>
<circle cx="310.1" cy="447.6" r="2.35"/>
<circle cx="310.6" cy="382.9" r="2.35"/>
<circle cx="310.9" cy="443.3" r="2.35"/>
<circle cx="310.8" cy="448.5" r="2.35"/>
<circle cx="310.8" cy="402.8" r="2.35"/>
<circle cx="311.2" cy="458.4" r="2.35"/>
<circle cx="311.0" cy="444.8" r="2.35"/>
<circle cx="317.8" cy="356.1" r="2.35"/>
<circle cx="311.3" cy="344.8" r="2.35"/>
<circle cx="317.8" cy="306.7" r="2.35"/>
<circle cx="317.8" cy="498.8" r="2.35"/>
<circle cx="311.3" cy="418.6" r="2.35"/>
<circle cx="317.8" cy="458.1" r="2.35"/>
<circle cx="317.8" cy="351.1" r="2.35"/>
<circle cx="317.8" cy="310.4" r="2.35"/>
<circle cx="311.6" cy="501.4" r="2.35"/>
<circle cx="311.8" cy="422.2" r="2.35"/>
<circle cx="312.1" cy="502.3" r="2.35"/>
<circle cx="312.1" cy="505.4" r="2.35"/>
<circle cx="317.8" cy="404.8" r="2.35"/>
<circle cx="312.0" cy="442.6" r="2.35"/>
<circle cx="312.1" cy="395.5" r="2.35"/>
<circle cx="312.4" cy="492.3" r="2.35"/>
<circle cx="317.8" cy="366.4" r="2.35"/>
<circle cx="312.3" cy="456.0" r="2.35"/>
<circle cx="312.4" cy="479.3" r="2.35"/>
<circle cx="317.8" cy="390.8" r="2.35"/>
<circle cx="312.6" cy="479.3" r="2.35"/>
<circle cx="312.7" cy="444.7" r="2.35"/>
<circle cx="317.8" cy="449.9" r="2.35"/>
<circle cx="312.9" cy="451.0" r="2.35"/>
<circle cx="317.8" cy="378.5" r="2.35"/>
<circle cx="313.1" cy="367.6" r="2.35"/>
<circle cx="313.0" cy="457.0" r="2.35"/>
<circle cx="313.0" cy="435.1" r="2.35"/>
<circle cx="313.8" cy="427.7" r="2.35"/>
<circle cx="313.9" cy="343.9" r="2.35"/>
<circle cx="317.8" cy="448.8" r="2.35"/>
<circle cx="314.4" cy="396.9" r="2.35"/>
<circle cx="317.8" cy="491.4" r="2.35"/>
<circle cx="314.3" cy="439.0" r="2.35"/>
<circle cx="314.0" cy="459.3" r="2.35"/>
<circle cx="317.8" cy="469.1" r="2.35"/>
<circle cx="317.8" cy="337.2" r="2.35"/>
<circle cx="314.5" cy="471.9" r="2.35"/>
<circle cx="314.9" cy="398.8" r="2.35"/>
<circle cx="314.9" cy="390.1" r="2.35"/>
<circle cx="317.8" cy="368.2" r="2.35"/>
<circle cx="315.2" cy="363.6" r="2.35"/>
<circle cx="315.0" cy="318.6" r="2.35"/>
<circle cx="315.4" cy="439.6" r="2.35"/>
<circle cx="317.8" cy="393.4" r="2.35"/>
<circle cx="315.6" cy="416.5" r="2.35"/>
<circle cx="317.8" cy="408.6" r="2.35"/>
<circle cx="317.8" cy="347.5" r="2.35"/>
<circle cx="315.8" cy="370.5" r="2.35"/>
<circle cx="315.6" cy="469.8" r="2.35"/>
<circle cx="316.1" cy="336.6" r="2.35"/>
<circle cx="317.8" cy="482.7" r="2.35"/>
<circle cx="317.8" cy="335.7" r="2.35"/>
<circle cx="317.8" cy="452.6" r="2.35"/>
<circle cx="316.2" cy="443.0" r="2.35"/>
<circle cx="317.8" cy="425.0" r="2.35"/>
<circle cx="317.8" cy="468.5" r="2.35"/>
<circle cx="316.8" cy="381.2" r="2.35"/>
<circle cx="316.7" cy="461.4" r="2.35"/>
<circle cx="316.5" cy="487.1" r="2.35"/>
<circle cx="317.8" cy="318.8" r="2.35"/>
<circle cx="316.5" cy="491.0" r="2.35"/>
<circle cx="316.7" cy="336.6" r="2.35"/>
<circle cx="316.6" cy="381.6" r="2.35"/>
<circle cx="316.5" cy="448.4" r="2.35"/>
<circle cx="316.9" cy="401.0" r="2.35"/>
<circle cx="317.4" cy="500.3" r="2.35"/>
<circle cx="317.3" cy="389.2" r="2.35"/>
<circle cx="317.8" cy="443.1" r="2.35"/>
<circle cx="317.8" cy="337.1" r="2.35"/>
<circle cx="317.1" cy="416.5" r="2.35"/>
<circle cx="317.9" cy="483.3" r="2.35"/>
<circle cx="317.8" cy="412.8" r="2.35"/>
<circle cx="317.8" cy="448.6" r="2.35"/>
<circle cx="317.5" cy="453.4" r="2.35"/>
<circle cx="317.5" cy="467.9" r="2.35"/>
<circle cx="317.6" cy="471.2" r="2.35"/>
<circle cx="317.8" cy="405.5" r="2.35"/>
<circle cx="317.8" cy="420.6" r="2.35"/>
<circle cx="317.8" cy="481.4" r="2.35"/>
<circle cx="317.8" cy="468.5" r="2.35"/>
<circle cx="318.1" cy="361.7" r="2.35"/>
<circle cx="317.8" cy="453.7" r="2.35"/>
<circle cx="317.8" cy="293.7" r="2.35"/>
<circle cx="318.5" cy="423.1" r="2.35"/>
<circle cx="318.6" cy="465.0" r="2.35"/>
<circle cx="318.8" cy="436.2" r="2.35"/>
<circle cx="318.8" cy="451.1" r="2.35"/>
<circle cx="317.8" cy="304.6" r="2.35"/>
<circle cx="317.8" cy="428.8" r="2.35"/>
<circle cx="319.1" cy="494.2" r="2.35"/>
<circle cx="317.8" cy="334.6" r="2.35"/>
<circle cx="319.4" cy="416.9" r="2.35"/>
<circle cx="319.5" cy="449.5" r="2.35"/>
<circle cx="319.7" cy="411.1" r="2.35"/>
<circle cx="317.8" cy="299.9" r="2.35"/>
<circle cx="319.6" cy="416.1" r="2.35"/>
<circle cx="320.1" cy="489.2" r="2.35"/>
<circle cx="320.0" cy="463.5" r="2.35"/>
<circle cx="320.1" cy="483.7" r="2.35"/>
<circle cx="317.8" cy="408.0" r="2.35"/>
<circle cx="320.9" cy="401.2" r="2.35"/>
<circle cx="320.7" cy="461.0" r="2.35"/>
<circle cx="320.5" cy="352.1" r="2.35"/>
<circle cx="317.8" cy="346.6" r="2.35"/>
<circle cx="320.7" cy="481.5" r="2.35"/>
<circle cx="317.8" cy="446.6" r="2.35"/>
<circle cx="317.8" cy="389.5" r="2.35"/>
<circle cx="321.4" cy="477.0" r="2.35"/>
<circle cx="317.8" cy="360.5" r="2.35"/>
<circle cx="317.8" cy="386.5" r="2.35"/>
<circle cx="317.8" cy="325.1" r="2.35"/>
<circle cx="321.3" cy="407.7" r="2.35"/>
<circle cx="321.0" cy="425.0" r="2.35"/>
<circle cx="321.9" cy="323.3" r="2.35"/>
<circle cx="321.5" cy="492.5" r="2.35"/>
<circle cx="317.8" cy="350.5" r="2.35"/>
<circle cx="321.8" cy="486.7" r="2.35"/>
<circle cx="321.7" cy="416.7" r="2.35"/>
<circle cx="322.4" cy="401.7" r="2.35"/>
<circle cx="317.8" cy="425.1" r="2.35"/>
<circle cx="317.8" cy="489.1" r="2.35"/>
<circle cx="322.8" cy="478.7" r="2.35"/>
<circle cx="322.9" cy="447.0" r="2.35"/>
<circle cx="322.8" cy="467.6" r="2.35"/>
<circle cx="322.8" cy="409.1" r="2.35"/>
<circle cx="322.6" cy="409.8" r="2.35"/>
<circle cx="322.8" cy="397.7" r="2.35"/>
<circle cx="317.8" cy="398.9" r="2.35"/>
<circle cx="317.8" cy="444.4" r="2.35"/>
<circle cx="323.2" cy="452.9" r="2.35"/>
<circle cx="323.4" cy="457.6" r="2.35"/>
<circle cx="323.3" cy="374.0" r="2.35"/>
<circle cx="323.7" cy="461.3" r="2.35"/>
<circle cx="317.8" cy="375.7" r="2.35"/>
<circle cx="317.8" cy="403.4" r="2.35"/>
<circle cx="323.5" cy="453.2" r="2.35"/>
<circle cx="324.0" cy="420.7" r="2.35"/>
<circle cx="324.0" cy="431.2" r="2.35"/>
<circle cx="317.8" cy="436.7" r="2.35"/>
<circle cx="324.0" cy="347.6" r="2.35"/>
<circle cx="324.6" cy="457.6" r="2.35"/>
<circle cx="324.9" cy="453.6" r="2.35"/>
<circle cx="324.7" cy="461.3" r="2.35"/>
<circle cx="324.6" cy="376.4" r="2.35"/>
<circle cx="324.9" cy="298.6" r="2.35"/>
<circle cx="317.8" cy="479.9" r="2.35"/>
<circle cx="324.8" cy="428.1" r="2.35"/>
<circle cx="324.5" cy="422.8" r="2.35"/>
<circle cx="317.8" cy="370.6" r="2.35"/>
<circle cx="325.4" cy="429.1" r="2.35"/>
<circle cx="325.3" cy="475.5" r="2.35"/>
<circle cx="325.4" cy="315.5" r="2.35"/>
<circle cx="325.4" cy="470.0" r="2.35"/>
<circle cx="332.8" cy="442.3" r="2.35"/>
<circle cx="332.8" cy="362.1" r="2.35"/>
<circle cx="332.8" cy="352.5" r="2.35"/>
<circle cx="332.8" cy="359.1" r="2.35"/>
<circle cx="325.9" cy="491.5" r="2.35"/>
<circle cx="325.8" cy="430.6" r="2.35"/>
<circle cx="332.8" cy="415.6" r="2.35"/>
<circle cx="332.8" cy="338.8" r="2.35"/>
<circle cx="326.1" cy="363.1" r="2.35"/>
<circle cx="326.1" cy="409.2" r="2.35"/>
<circle cx="326.6" cy="422.9" r="2.35"/>
<circle cx="326.8" cy="348.4" r="2.35"/>
<circle cx="332.8" cy="421.2" r="2.35"/>
<circle cx="332.8" cy="379.7" r="2.35"/>
<circle cx="327.2" cy="386.4" r="2.35"/>
<circle cx="327.2" cy="413.2" r="2.35"/>
<circle cx="327.0" cy="465.9" r="2.35"/>
<circle cx="332.8" cy="454.5" r="2.35"/>
<circle cx="327.0" cy="464.2" r="2.35"/>
<circle cx="327.5" cy="370.2" r="2.35"/>
<circle cx="332.8" cy="303.8" r="2.35"/>
<circle cx="327.5" cy="348.3" r="2.35"/>
<circle cx="327.7" cy="351.4" r="2.35"/>
<circle cx="327.9" cy="372.9" r="2.35"/>
<circle cx="327.6" cy="469.3" r="2.35"/>
<circle cx="327.9" cy="376.5" r="2.35"/>
<circle cx="327.8" cy="294.6" r="2.35"/>
<circle cx="327.5" cy="414.2" r="2.35"/>
<circle cx="332.8" cy="387.0" r="2.35"/>
<circle cx="328.4" cy="369.8" r="2.35"/>
<circle cx="328.0" cy="433.5" r="2.35"/>
<circle cx="328.4" cy="332.2" r="2.35"/>
<circle cx="332.8" cy="369.2" r="2.35"/>
<circle cx="328.2" cy="407.7" r="2.35"/>
<circle cx="328.4" cy="429.6" r="2.35"/>
<circle cx="328.5" cy="407.2" r="2.35"/>
<circle cx="332.8" cy="402.1" r="2.35"/>
<circle cx="328.9" cy="420.7" r="2.35"/>
<circle cx="332.8" cy="413.0" r="2.35"/>
<circle cx="329.2" cy="483.5" r="2.35"/>
<circle cx="332.8" cy="357.5" r="2.35"/>
<circle cx="329.7" cy="455.0" r="2.35"/>
<circle cx="329.5" cy="425.2" r="2.35"/>
<circle cx="332.8" cy="361.5" r="2.35"/>
<circle cx="332.8" cy="401.0" r="2.35"/>
<circle cx="329.8" cy="479.2" r="2.35"/>
<circle cx="329.7" cy="413.3" r="2.35"/>
<circle cx="332.8" cy="383.3" r="2.35"/>
<circle cx="329.6" cy="477.2" r="2.35"/>
<circle cx="329.6" cy="288.8" r="2.35"/>
<circle cx="330.3" cy="452.1" r="2.35"/>
<circle cx="330.0" cy="469.2" r="2.35"/>
<circle cx="330.2" cy="346.4" r="2.35"/>
<circle cx="332.8" cy="316.6" r="2.35"/>
<circle cx="330.5" cy="318.6" r="2.35"/>
<circle cx="330.5" cy="450.7" r="2.35"/>
<circle cx="330.9" cy="468.8" r="2.35"/>
<circle cx="330.8" cy="388.6" r="2.35"/>
<circle cx="330.6" cy="433.1" r="2.35"/>
<circle cx="330.9" cy="447.9" r="2.35"/>
<circle cx="331.4" cy="489.3" r="2.35"/>
<circle cx="332.8" cy="356.8" r="2.35"/>
<circle cx="331.8" cy="407.8" r="2.35"/>
<circle cx="332.8" cy="328.2" r="2.35"/>
<circle cx="331.8" cy="495.3" r="2.35"/>
<circle cx="331.8" cy="386.5" r="2.35"/>
<circle cx="331.8" cy="403.7" r="2.35"/>
<circle cx="332.1" cy="414.8" r="2.35"/>
<circle cx="332.3" cy="353.1" r="2.35"/>
<circle cx="332.2" cy="382.2" r="2.35"/>
<circle cx="332.3" cy="485.7" r="2.35"/>
<circle cx="332.8" cy="327.5" r="2.35"/>
<circle cx="332.8" cy="372.3" r="2.35"/>
<circle cx="332.5" cy="422.2" r="2.35"/>
<circle cx="332.8" cy="316.6" r="2.35"/>
<circle cx="332.6" cy="320.1" r="2.35"/>
<circle cx="332.8" cy="375.7" r="2.35"/>
<circle cx="332.8" cy="455.0" r="2.35"/>
<circle cx="332.8" cy="320.5" r="2.35"/>
<circle cx="332.8" cy="351.4" r="2.35"/>
<circle cx="332.8" cy="343.1" r="2.35"/>
<circle cx="333.3" cy="410.1" r="2.35"/>
<circle cx="333.8" cy="387.7" r="2.35"/>
<circle cx="332.8" cy="430.4" r="2.35"/>
<circle cx="333.5" cy="466.7" r="2.35"/>
<circle cx="333.7" cy="291.7" r="2.35"/>
<circle cx="332.8" cy="411.2" r="2.35"/>
<circle cx="332.8" cy="450.4" r="2.35"/>
<circle cx="334.5" cy="431.6" r="2.35"/>
<circle cx="334.7" cy="441.5" r="2.35"/>
<circle cx="334.8" cy="476.3" r="2.35"/>
<circle cx="332.8" cy="430.1" r="2.35"/>
<circle cx="332.8" cy="345.7" r="2.35"/>
<circle cx="332.8" cy="325.3" r="2.35"/>
<circle cx="332.8" cy="319.0" r="2.35"/>
<circle cx="335.4" cy="455.7" r="2.35"/>
<circle cx="335.2" cy="413.2" r="2.35"/>
<circle cx="335.3" cy="424.8" r="2.35"/>
<circle cx="335.0" cy="387.7" r="2.35"/>
<circle cx="332.8" cy="453.7" r="2.35"/>
<circle cx="335.6" cy="463.5" r="2.35"/>
<circle cx="332.8" cy="281.8" r="2.35"/>
<circle cx="332.8" cy="390.1" r="2.35"/>
<circle cx="335.6" cy="375.2" r="2.35"/>
<circle cx="336.4" cy="309.5" r="2.35"/>
<circle cx="332.8" cy="450.2" r="2.35"/>
<circle cx="336.2" cy="446.9" r="2.35"/>
<circle cx="336.2" cy="462.6" r="2.35"/>
<circle cx="332.8" cy="319.0" r="2.35"/>
<circle cx="336.0" cy="476.0" r="2.35"/>
<circle cx="336.0" cy="449.3" r="2.35"/>
<circle cx="336.1" cy="448.0" r="2.35"/>
<circle cx="332.8" cy="357.5" r="2.35"/>
<circle cx="332.8" cy="459.2" r="2.35"/>
<circle cx="332.8" cy="391.3" r="2.35"/>
<circle cx="336.9" cy="407.4" r="2.35"/>
<circle cx="332.8" cy="430.9" r="2.35"/>
<circle cx="337.4" cy="469.1" r="2.35"/>
<circle cx="332.8" cy="413.2" r="2.35"/>
<circle cx="332.8" cy="366.0" r="2.35"/>
<circle cx="337.5" cy="437.1" r="2.35"/>
<circle cx="337.6" cy="356.9" r="2.35"/>
<circle cx="337.7" cy="441.8" r="2.35"/>
<circle cx="337.6" cy="386.1" r="2.35"/>
<circle cx="337.9" cy="403.5" r="2.35"/>
<circle cx="332.8" cy="343.7" r="2.35"/>
<circle cx="338.4" cy="343.3" r="2.35"/>
<circle cx="338.1" cy="474.1" r="2.35"/>
<circle cx="332.8" cy="479.4" r="2.35"/>
<circle cx="332.8" cy="373.2" r="2.35"/>
<circle cx="338.1" cy="382.6" r="2.35"/>
<circle cx="332.8" cy="299.7" r="2.35"/>
<circle cx="332.8" cy="372.1" r="2.35"/>
<circle cx="332.8" cy="327.8" r="2.35"/>
<circle cx="332.8" cy="389.7" r="2.35"/>
<circle cx="332.8" cy="370.6" r="2.35"/>
<circle cx="338.8" cy="364.1" r="2.35"/>
<circle cx="332.8" cy="315.7" r="2.35"/>
<circle cx="339.2" cy="426.1" r="2.35"/>
<circle cx="339.2" cy="459.5" r="2.35"/>
<circle cx="339.3" cy="477.2" r="2.35"/>
<circle cx="339.0" cy="464.7" r="2.35"/>
<circle cx="332.8" cy="397.8" r="2.35"/>
<circle cx="339.6" cy="431.6" r="2.35"/>
<circle cx="339.5" cy="489.5" r="2.35"/>
<circle cx="339.8" cy="468.0" r="2.35"/>
<circle cx="339.5" cy="414.6" r="2.35"/>
<circle cx="339.9" cy="407.7" r="2.35"/>
<circle cx="340.4" cy="469.6" r="2.35"/>
<circle cx="340.2" cy="295.6" r="2.35"/>
<circle cx="340.2" cy="383.7" r="2.35"/>
<circle cx="332.8" cy="327.2" r="2.35"/>
<circle cx="340.0" cy="381.5" r="2.35"/>
<circle cx="340.1" cy="396.7" r="2.35"/>
<circle cx="347.8" cy="432.0" r="2.35"/>
<circle cx="340.3" cy="372.1" r="2.35"/>
<circle cx="340.8" cy="447.7" r="2.35"/>
<circle cx="347.8" cy="374.9" r="2.35"/>
<circle cx="340.9" cy="474.4" r="2.35"/>
<circle cx="347.8" cy="313.5" r="2.35"/>
<circle cx="340.9" cy="467.9" r="2.35"/>
<circle cx="340.9" cy="448.9" r="2.35"/>
<circle cx="340.5" cy="416.8" r="2.35"/>
<circle cx="340.5" cy="384.9" r="2.35"/>
<circle cx="341.3" cy="387.0" r="2.35"/>
<circle cx="347.8" cy="446.8" r="2.35"/>
<circle cx="341.4" cy="476.2" r="2.35"/>
<circle cx="341.2" cy="429.7" r="2.35"/>
<circle cx="347.8" cy="428.1" r="2.35"/>
<circle cx="341.7" cy="446.4" r="2.35"/>
<circle cx="341.7" cy="381.2" r="2.35"/>
<circle cx="341.7" cy="436.9" r="2.35"/>
<circle cx="347.8" cy="354.2" r="2.35"/>
<circle cx="342.2" cy="460.1" r="2.35"/>
<circle cx="347.8" cy="294.5" r="2.35"/>
<circle cx="342.3" cy="485.3" r="2.35"/>
<circle cx="347.8" cy="370.2" r="2.35"/>
<circle cx="342.8" cy="302.7" r="2.35"/>
<circle cx="347.8" cy="338.4" r="2.35"/>
<circle cx="347.8" cy="388.8" r="2.35"/>
<circle cx="347.8" cy="319.5" r="2.35"/>
<circle cx="347.8" cy="393.0" r="2.35"/>
<circle cx="343.3" cy="409.4" r="2.35"/>
<circle cx="343.1" cy="431.1" r="2.35"/>
<circle cx="343.3" cy="399.4" r="2.35"/>
<circle cx="343.1" cy="407.1" r="2.35"/>
<circle cx="347.8" cy="405.6" r="2.35"/>
<circle cx="343.7" cy="471.2" r="2.35"/>
<circle cx="347.8" cy="362.5" r="2.35"/>
<circle cx="347.8" cy="395.9" r="2.35"/>
<circle cx="344.0" cy="399.0" r="2.35"/>
<circle cx="344.8" cy="286.6" r="2.35"/>
<circle cx="347.8" cy="350.1" r="2.35"/>
<circle cx="344.7" cy="464.7" r="2.35"/>
<circle cx="344.8" cy="436.5" r="2.35"/>
<circle cx="344.5" cy="283.8" r="2.35"/>
<circle cx="344.7" cy="299.1" r="2.35"/>
<circle cx="344.8" cy="409.1" r="2.35"/>
<circle cx="347.8" cy="290.7" r="2.35"/>
<circle cx="345.8" cy="319.6" r="2.35"/>
<circle cx="345.8" cy="363.4" r="2.35"/>
<circle cx="345.6" cy="450.5" r="2.35"/>
<circle cx="347.8" cy="312.7" r="2.35"/>
<circle cx="347.8" cy="295.3" r="2.35"/>
<circle cx="347.8" cy="344.2" r="2.35"/>
<circle cx="346.1" cy="423.5" r="2.35"/>
<circle cx="347.8" cy="435.3" r="2.35"/>
<circle cx="346.6" cy="451.1" r="2.35"/>
<circle cx="346.6" cy="455.4" r="2.35"/>
<circle cx="347.8" cy="280.9" r="2.35"/>
<circle cx="347.8" cy="327.6" r="2.35"/>
<circle cx="347.4" cy="449.0" r="2.35"/>
<circle cx="347.7" cy="453.0" r="2.35"/>
<circle cx="347.7" cy="294.4" r="2.35"/>
<circle cx="347.7" cy="376.0" r="2.35"/>
<circle cx="347.8" cy="344.9" r="2.35"/>
<circle cx="347.8" cy="391.6" r="2.35"/>
<circle cx="347.8" cy="476.3" r="2.35"/>
<circle cx="348.3" cy="420.1" r="2.35"/>
<circle cx="348.1" cy="459.9" r="2.35"/>
<circle cx="348.8" cy="448.1" r="2.35"/>
<circle cx="348.6" cy="428.7" r="2.35"/>
<circle cx="348.9" cy="446.2" r="2.35"/>
<circle cx="348.9" cy="357.8" r="2.35"/>
<circle cx="349.1" cy="363.1" r="2.35"/>
<circle cx="349.3" cy="325.2" r="2.35"/>
<circle cx="349.4" cy="457.9" r="2.35"/>
<circle cx="347.8" cy="412.6" r="2.35"/>
<circle cx="349.8" cy="473.3" r="2.35"/>
<circle cx="349.9" cy="401.7" r="2.35"/>
<circle cx="349.8" cy="350.5" r="2.35"/>
<circle cx="350.4" cy="459.8" r="2.35"/>
<circle cx="347.8" cy="406.7" r="2.35"/>
<circle cx="350.7" cy="351.8" r="2.35"/>
<circle cx="350.8" cy="383.6" r="2.35"/>
<circle cx="351.0" cy="464.1" r="2.35"/>
<circle cx="351.2" cy="303.0" r="2.35"/>
<circle cx="351.2" cy="302.4" r="2.35"/>
<circle cx="351.1" cy="292.7" r="2.35"/>
<circle cx="351.9" cy="430.9" r="2.35"/>
<circle cx="347.8" cy="400.7" r="2.35"/>
<circle cx="351.6" cy="417.4" r="2.35"/>
<circle cx="347.8" cy="385.0" r="2.35"/>
<circle cx="352.0" cy="331.4" r="2.35"/>
<circle cx="352.3" cy="386.0" r="2.35"/>
<circle cx="352.5" cy="441.8" r="2.35"/>
<circle cx="352.9" cy="400.1" r="2.35"/>
<circle cx="347.8" cy="418.4" r="2.35"/>
<circle cx="352.6" cy="421.3" r="2.35"/>
<circle cx="347.8" cy="305.7" r="2.35"/>
<circle cx="347.8" cy="417.0" r="2.35"/>
<circle cx="353.4" cy="429.3" r="2.35"/>
<circle cx="347.8" cy="353.6" r="2.35"/>
<circle cx="347.8" cy="469.2" r="2.35"/>
<circle cx="353.0" cy="360.6" r="2.35"/>
<circle cx="347.8" cy="341.0" r="2.35"/>
<circle cx="353.8" cy="466.2" r="2.35"/>
<circle cx="353.8" cy="427.4" r="2.35"/>
<circle cx="353.7" cy="308.9" r="2.35"/>
<circle cx="347.8" cy="399.7" r="2.35"/>
<circle cx="354.3" cy="363.9" r="2.35"/>
<circle cx="354.4" cy="354.2" r="2.35"/>
<circle cx="347.8" cy="330.4" r="2.35"/>
<circle cx="354.2" cy="407.8" r="2.35"/>
<circle cx="347.8" cy="331.0" r="2.35"/>
<circle cx="347.8" cy="316.9" r="2.35"/>
<circle cx="347.8" cy="409.0" r="2.35"/>
<circle cx="354.5" cy="397.1" r="2.35"/>
<circle cx="354.7" cy="278.2" r="2.35"/>
<circle cx="347.8" cy="271.3" r="2.35"/>
<circle cx="354.8" cy="428.1" r="2.35"/>
<circle cx="354.7" cy="321.6" r="2.35"/>
<circle cx="354.6" cy="402.7" r="2.35"/>
<circle cx="354.7" cy="422.7" r="2.35"/>
<circle cx="355.3" cy="418.2" r="2.35"/>
<circle cx="347.8" cy="414.8" r="2.35"/>
<circle cx="355.4" cy="397.2" r="2.35"/>
<circle cx="355.0" cy="323.1" r="2.35"/>
<circle cx="347.8" cy="379.2" r="2.35"/>
<circle cx="355.0" cy="375.9" r="2.35"/>
<circle cx="355.8" cy="438.6" r="2.35"/>
<circle cx="355.5" cy="406.3" r="2.35"/>
<circle cx="362.8" cy="359.0" r="2.35"/>
<circle cx="362.8" cy="359.7" r="2.35"/>
<circle cx="362.8" cy="301.2" r="2.35"/>
<circle cx="362.8" cy="389.3" r="2.35"/>
<circle cx="356.1" cy="376.9" r="2.35"/>
<circle cx="356.4" cy="435.5" r="2.35"/>
<circle cx="356.9" cy="446.4" r="2.35"/>
<circle cx="356.5" cy="345.1" r="2.35"/>
<circle cx="356.7" cy="439.5" r="2.35"/>
<circle cx="356.6" cy="467.5" r="2.35"/>
<circle cx="362.8" cy="342.9" r="2.35"/>
<circle cx="362.8" cy="281.8" r="2.35"/>
<circle cx="357.1" cy="432.3" r="2.35"/>
<circle cx="357.2" cy="430.0" r="2.35"/>
<circle cx="357.1" cy="377.2" r="2.35"/>
<circle cx="357.7" cy="328.7" r="2.35"/>
<circle cx="357.7" cy="338.5" r="2.35"/>
<circle cx="357.8" cy="419.3" r="2.35"/>
<circle cx="357.6" cy="425.1" r="2.35"/>
<circle cx="357.8" cy="430.4" r="2.35"/>
<circle cx="357.8" cy="388.6" r="2.35"/>
<circle cx="362.8" cy="342.0" r="2.35"/>
<circle cx="358.1" cy="334.7" r="2.35"/>
<circle cx="358.3" cy="272.8" r="2.35"/>
<circle cx="358.1" cy="391.8" r="2.35"/>
<circle cx="362.8" cy="328.5" r="2.35"/>
<circle cx="362.8" cy="291.4" r="2.35"/>
<circle cx="358.4" cy="432.1" r="2.35"/>
<circle cx="358.6" cy="363.4" r="2.35"/>
<circle cx="358.8" cy="369.5" r="2.35"/>
<circle cx="358.5" cy="291.0" r="2.35"/>
<circle cx="359.4" cy="435.2" r="2.35"/>
<circle cx="359.2" cy="385.7" r="2.35"/>
<circle cx="362.8" cy="327.3" r="2.35"/>
<circle cx="362.8" cy="341.5" r="2.35"/>
<circle cx="359.8" cy="389.6" r="2.35"/>
<circle cx="359.5" cy="260.9" r="2.35"/>
<circle cx="360.1" cy="443.2" r="2.35"/>
<circle cx="360.0" cy="464.8" r="2.35"/>
<circle cx="360.1" cy="429.8" r="2.35"/>
<circle cx="360.6" cy="465.7" r="2.35"/>
<circle cx="360.5" cy="408.7" r="2.35"/>
<circle cx="360.5" cy="457.8" r="2.35"/>
<circle cx="362.8" cy="330.3" r="2.35"/>
<circle cx="360.6" cy="274.4" r="2.35"/>
<circle cx="362.8" cy="265.6" r="2.35"/>
<circle cx="361.0" cy="363.5" r="2.35"/>
<circle cx="361.0" cy="292.5" r="2.35"/>
<circle cx="362.8" cy="394.1" r="2.35"/>
<circle cx="362.8" cy="265.9" r="2.35"/>
<circle cx="361.4" cy="357.5" r="2.35"/>
<circle cx="362.8" cy="413.3" r="2.35"/>
<circle cx="361.3" cy="460.7" r="2.35"/>
<circle cx="362.8" cy="271.3" r="2.35"/>
<circle cx="362.8" cy="306.0" r="2.35"/>
<circle cx="362.3" cy="379.7" r="2.35"/>
<circle cx="362.8" cy="334.3" r="2.35"/>
<circle cx="362.0" cy="413.5" r="2.35"/>
<circle cx="362.8" cy="391.4" r="2.35"/>
<circle cx="362.8" cy="370.6" r="2.35"/>
<circle cx="362.8" cy="313.3" r="2.35"/>
<circle cx="362.5" cy="304.7" r="2.35"/>
<circle cx="362.8" cy="286.0" r="2.35"/>
<circle cx="363.3" cy="418.6" r="2.35"/>
<circle cx="363.0" cy="376.2" r="2.35"/>
<circle cx="362.8" cy="447.5" r="2.35"/>
<circle cx="363.3" cy="285.8" r="2.35"/>
<circle cx="362.8" cy="411.1" r="2.35"/>
<circle cx="363.1" cy="462.5" r="2.35"/>
<circle cx="362.8" cy="278.7" r="2.35"/>
<circle cx="362.8" cy="345.0" r="2.35"/>
<circle cx="363.6" cy="426.2" r="2.35"/>
<circle cx="362.8" cy="403.1" r="2.35"/>
<circle cx="362.8" cy="323.7" r="2.35"/>
<circle cx="363.6" cy="392.9" r="2.35"/>
<circle cx="363.6" cy="341.1" r="2.35"/>
<circle cx="363.9" cy="384.5" r="2.35"/>
<circle cx="362.8" cy="325.5" r="2.35"/>
<circle cx="364.0" cy="372.3" r="2.35"/>
<circle cx="362.8" cy="354.2" r="2.35"/>
<circle cx="364.9" cy="381.0" r="2.35"/>
<circle cx="364.5" cy="309.7" r="2.35"/>
<circle cx="364.8" cy="345.3" r="2.35"/>
<circle cx="364.7" cy="395.3" r="2.35"/>
<circle cx="362.8" cy="299.4" r="2.35"/>
<circle cx="362.8" cy="379.1" r="2.35"/>
<circle cx="365.1" cy="305.5" r="2.35"/>
<circle cx="365.3" cy="325.1" r="2.35"/>
<circle cx="365.2" cy="410.2" r="2.35"/>
<circle cx="365.1" cy="346.1" r="2.35"/>
<circle cx="362.8" cy="244.8" r="2.35"/>
<circle cx="362.8" cy="382.9" r="2.35"/>
<circle cx="362.8" cy="299.0" r="2.35"/>
<circle cx="362.8" cy="325.2" r="2.35"/>
<circle cx="365.6" cy="436.0" r="2.35"/>
<circle cx="365.6" cy="440.7" r="2.35"/>
<circle cx="362.8" cy="357.2" r="2.35"/>
<circle cx="365.9" cy="410.6" r="2.35"/>
<circle cx="365.5" cy="389.8" r="2.35"/>
<circle cx="366.4" cy="400.9" r="2.35"/>
<circle cx="366.0" cy="429.8" r="2.35"/>
<circle cx="366.2" cy="330.6" r="2.35"/>
<circle cx="366.1" cy="426.7" r="2.35"/>
<circle cx="366.6" cy="411.0" r="2.35"/>
<circle cx="366.6" cy="343.1" r="2.35"/>
<circle cx="366.5" cy="415.1" r="2.35"/>
<circle cx="362.8" cy="335.1" r="2.35"/>
<circle cx="366.7" cy="365.8" r="2.35"/>
<circle cx="366.8" cy="339.1" r="2.35"/>
<circle cx="366.7" cy="408.5" r="2.35"/>
<circle cx="366.9" cy="410.3" r="2.35"/>
<circle cx="362.8" cy="239.9" r="2.35"/>
<circle cx="366.5" cy="386.6" r="2.35"/>
<circle cx="367.2" cy="346.1" r="2.35"/>
<circle cx="362.8" cy="297.6" r="2.35"/>
<circle cx="362.8" cy="311.6" r="2.35"/>
<circle cx="367.0" cy="352.4" r="2.35"/>
<circle cx="362.8" cy="322.4" r="2.35"/>
<circle cx="367.9" cy="438.5" r="2.35"/>
<circle cx="362.8" cy="351.8" r="2.35"/>
<circle cx="367.6" cy="296.9" r="2.35"/>
<circle cx="362.8" cy="265.3" r="2.35"/>
<circle cx="368.3" cy="357.4" r="2.35"/>
<circle cx="368.1" cy="416.6" r="2.35"/>
<circle cx="362.8" cy="261.4" r="2.35"/>
<circle cx="368.0" cy="262.8" r="2.35"/>
<circle cx="362.8" cy="424.8" r="2.35"/>
<circle cx="368.1" cy="456.0" r="2.35"/>
<circle cx="362.8" cy="370.1" r="2.35"/>
<circle cx="368.4" cy="360.7" r="2.35"/>
<circle cx="368.9" cy="449.2" r="2.35"/>
<circle cx="368.7" cy="358.3" r="2.35"/>
<circle cx="368.7" cy="365.6" r="2.35"/>
<circle cx="362.8" cy="335.7" r="2.35"/>
<circle cx="368.9" cy="376.4" r="2.35"/>
<circle cx="362.8" cy="269.1" r="2.35"/>
<circle cx="362.8" cy="316.8" r="2.35"/>
<circle cx="369.4" cy="353.5" r="2.35"/>
<circle cx="362.8" cy="302.9" r="2.35"/>
<circle cx="362.8" cy="304.5" r="2.35"/>
<circle cx="369.0" cy="454.8" r="2.35"/>
<circle cx="369.0" cy="434.3" r="2.35"/>
<circle cx="369.9" cy="453.0" r="2.35"/>
<circle cx="369.7" cy="287.1" r="2.35"/>
<circle cx="362.8" cy="283.1" r="2.35"/>
<circle cx="369.5" cy="393.9" r="2.35"/>
<circle cx="377.9" cy="314.2" r="2.35"/>
<circle cx="370.2" cy="378.5" r="2.35"/>
<circle cx="362.8" cy="262.5" r="2.35"/>
<circle cx="362.8" cy="314.8" r="2.35"/>
<circle cx="362.8" cy="361.5" r="2.35"/>
<circle cx="370.2" cy="405.9" r="2.35"/>
<circle cx="370.1" cy="374.3" r="2.35"/>
<circle cx="370.8" cy="447.6" r="2.35"/>
<circle cx="377.9" cy="412.8" r="2.35"/>
<circle cx="377.9" cy="271.8" r="2.35"/>
<circle cx="371.2" cy="342.4" r="2.35"/>
<circle cx="377.9" cy="366.1" r="2.35"/>
<circle cx="371.6" cy="406.6" r="2.35"/>
<circle cx="377.9" cy="313.2" r="2.35"/>
<circle cx="371.6" cy="431.0" r="2.35"/>
<circle cx="371.5" cy="384.3" r="2.35"/>
<circle cx="377.9" cy="321.7" r="2.35"/>
<circle cx="377.9" cy="390.6" r="2.35"/>
<circle cx="371.7" cy="418.1" r="2.35"/>
<circle cx="371.5" cy="370.8" r="2.35"/>
<circle cx="371.5" cy="388.6" r="2.35"/>
<circle cx="372.1" cy="313.8" r="2.35"/>
<circle cx="377.9" cy="237.3" r="2.35"/>
<circle cx="372.3" cy="368.1" r="2.35"/>
<circle cx="372.3" cy="441.0" r="2.35"/>
<circle cx="377.9" cy="388.7" r="2.35"/>
<circle cx="372.5" cy="427.2" r="2.35"/>
<circle cx="372.9" cy="412.8" r="2.35"/>
<circle cx="377.9" cy="315.3" r="2.35"/>
<circle cx="372.7" cy="254.6" r="2.35"/>
<circle cx="372.8" cy="305.1" r="2.35"/>
<circle cx="373.4" cy="431.5" r="2.35"/>
<circle cx="373.0" cy="351.2" r="2.35"/>
<circle cx="377.9" cy="285.3" r="2.35"/>
<circle cx="377.9" cy="268.0" r="2.35"/>
<circle cx="377.9" cy="344.5" r="2.35"/>
<circle cx="377.9" cy="401.1" r="2.35"/>
<circle cx="377.9" cy="358.2" r="2.35"/>
<circle cx="373.0" cy="382.9" r="2.35"/>
<circle cx="373.7" cy="370.7" r="2.35"/>
<circle cx="373.7" cy="410.2" r="2.35"/>
<circle cx="373.5" cy="410.2" r="2.35"/>
<circle cx="373.5" cy="363.0" r="2.35"/>
<circle cx="373.8" cy="383.7" r="2.35"/>
<circle cx="374.3" cy="428.2" r="2.35"/>
<circle cx="374.1" cy="428.8" r="2.35"/>
<circle cx="374.0" cy="389.1" r="2.35"/>
<circle cx="377.9" cy="327.6" r="2.35"/>
<circle cx="374.8" cy="385.2" r="2.35"/>
<circle cx="377.9" cy="242.4" r="2.35"/>
<circle cx="377.9" cy="276.8" r="2.35"/>
<circle cx="377.9" cy="277.7" r="2.35"/>
<circle cx="374.8" cy="441.8" r="2.35"/>
<circle cx="377.9" cy="383.9" r="2.35"/>
<circle cx="375.0" cy="256.7" r="2.35"/>
<circle cx="375.4" cy="293.4" r="2.35"/>
<circle cx="377.9" cy="410.6" r="2.35"/>
<circle cx="375.2" cy="362.3" r="2.35"/>
<circle cx="377.9" cy="403.8" r="2.35"/>
<circle cx="375.3" cy="426.0" r="2.35"/>
<circle cx="377.9" cy="426.7" r="2.35"/>
<circle cx="375.5" cy="419.1" r="2.35"/>
<circle cx="375.9" cy="359.0" r="2.35"/>
<circle cx="377.9" cy="345.9" r="2.35"/>
<circle cx="375.9" cy="315.5" r="2.35"/>
<circle cx="377.9" cy="386.3" r="2.35"/>
<circle cx="375.8" cy="428.5" r="2.35"/>
<circle cx="377.9" cy="399.5" r="2.35"/>
<circle cx="375.8" cy="412.2" r="2.35"/>
<circle cx="377.9" cy="412.9" r="2.35"/>
<circle cx="377.9" cy="323.5" r="2.35"/>
<circle cx="376.2" cy="375.6" r="2.35"/>
<circle cx="377.9" cy="285.3" r="2.35"/>
<circle cx="376.3" cy="418.6" r="2.35"/>
<circle cx="377.9" cy="341.5" r="2.35"/>
<circle cx="376.3" cy="339.6" r="2.35"/>
<circle cx="376.2" cy="286.1" r="2.35"/>
<circle cx="377.9" cy="297.4" r="2.35"/>
<circle cx="377.9" cy="253.4" r="2.35"/>
<circle cx="376.5" cy="380.6" r="2.35"/>
<circle cx="377.9" cy="290.5" r="2.35"/>
<circle cx="376.7" cy="346.2" r="2.35"/>
<circle cx="376.7" cy="397.4" r="2.35"/>
<circle cx="376.9" cy="437.6" r="2.35"/>
<circle cx="376.6" cy="360.9" r="2.35"/>
<circle cx="376.5" cy="382.2" r="2.35"/>
<circle cx="377.1" cy="436.3" r="2.35"/>
<circle cx="377.1" cy="430.3" r="2.35"/>
<circle cx="377.2" cy="341.4" r="2.35"/>
<circle cx="377.0" cy="387.2" r="2.35"/>
<circle cx="377.9" cy="370.8" r="2.35"/>
<circle cx="377.2" cy="418.7" r="2.35"/>
<circle cx="377.9" cy="269.4" r="2.35"/>
<circle cx="377.9" cy="370.4" r="2.35"/>
<circle cx="377.9" cy="323.9" r="2.35"/>
<circle cx="377.9" cy="328.0" r="2.35"/>
<circle cx="378.5" cy="376.7" r="2.35"/>
<circle cx="378.7" cy="265.4" r="2.35"/>
<circle cx="377.9" cy="297.3" r="2.35"/>
<circle cx="378.5" cy="433.0" r="2.35"/>
<circle cx="379.2" cy="393.6" r="2.35"/>
<circle cx="377.9" cy="344.8" r="2.35"/>
<circle cx="377.9" cy="353.7" r="2.35"/>
<circle cx="379.5" cy="357.1" r="2.35"/>
<circle cx="379.8" cy="400.9" r="2.35"/>
<circle cx="379.9" cy="293.6" r="2.35"/>
<circle cx="380.0" cy="439.9" r="2.35"/>
<circle cx="377.9" cy="260.3" r="2.35"/>
<circle cx="380.4" cy="306.7" r="2.35"/>
<circle cx="380.1" cy="405.5" r="2.35"/>
<circle cx="380.8" cy="446.1" r="2.35"/>
<circle cx="380.6" cy="316.5" r="2.35"/>
<circle cx="380.8" cy="377.8" r="2.35"/>
<circle cx="380.6" cy="421.0" r="2.35"/>
<circle cx="380.8" cy="390.4" r="2.35"/>
<circle cx="380.7" cy="347.4" r="2.35"/>
<circle cx="380.7" cy="426.4" r="2.35"/>
<circle cx="381.2" cy="286.0" r="2.35"/>
<circle cx="381.1" cy="444.8" r="2.35"/>
<circle cx="381.4" cy="378.7" r="2.35"/>
<circle cx="381.3" cy="394.8" r="2.35"/>
<circle cx="381.3" cy="405.0" r="2.35"/>
<circle cx="381.8" cy="380.0" r="2.35"/>
<circle cx="377.9" cy="288.7" r="2.35"/>
<circle cx="377.9" cy="362.3" r="2.35"/>
<circle cx="377.9" cy="362.7" r="2.35"/>
<circle cx="377.9" cy="330.2" r="2.35"/>
<circle cx="381.5" cy="356.7" r="2.35"/>
<circle cx="382.3" cy="364.5" r="2.35"/>
<circle cx="382.2" cy="427.6" r="2.35"/>
<circle cx="382.2" cy="387.4" r="2.35"/>
<circle cx="382.7" cy="346.4" r="2.35"/>
<circle cx="382.7" cy="432.9" r="2.35"/>
<circle cx="382.5" cy="398.8" r="2.35"/>
<circle cx="383.3" cy="318.1" r="2.35"/>
<circle cx="383.0" cy="383.3" r="2.35"/>
<circle cx="383.1" cy="430.0" r="2.35"/>
<circle cx="383.2" cy="372.6" r="2.35"/>
<circle cx="377.9" cy="260.7" r="2.35"/>
<circle cx="383.3" cy="375.4" r="2.35"/>
<circle cx="377.9" cy="269.2" r="2.35"/>
<circle cx="377.9" cy="358.0" r="2.35"/>
<circle cx="383.6" cy="418.9" r="2.35"/>
<circle cx="377.9" cy="253.3" r="2.35"/>
<circle cx="377.9" cy="311.3" r="2.35"/>
<circle cx="383.9" cy="408.7" r="2.35"/>
<circle cx="383.7" cy="351.4" r="2.35"/>
<circle cx="377.9" cy="305.1" r="2.35"/>
<circle cx="384.3" cy="290.7" r="2.35"/>
<circle cx="384.1" cy="335.8" r="2.35"/>
<circle cx="377.9" cy="327.9" r="2.35"/>
<circle cx="384.1" cy="357.7" r="2.35"/>
<circle cx="384.6" cy="421.9" r="2.35"/>
<circle cx="384.5" cy="336.5" r="2.35"/>
<circle cx="384.7" cy="321.3" r="2.35"/>
<circle cx="384.6" cy="396.7" r="2.35"/>
<circle cx="385.4" cy="307.5" r="2.35"/>
<circle cx="377.9" cy="227.3" r="2.35"/>
<circle cx="377.9" cy="258.0" r="2.35"/>
<circle cx="385.3" cy="420.9" r="2.35"/>
<circle cx="385.0" cy="291.4" r="2.35"/>
<circle cx="385.4" cy="283.0" r="2.35"/>
<circle cx="385.2" cy="277.4" r="2.35"/>
<circle cx="385.0" cy="401.6" r="2.35"/>
<circle cx="385.2" cy="435.2" r="2.35"/>
<circle cx="385.1" cy="343.7" r="2.35"/>
<circle cx="385.1" cy="373.3" r="2.35"/>
<circle cx="392.9" cy="311.7" r="2.35"/>
<circle cx="385.8" cy="396.4" r="2.35"/>
<circle cx="392.9" cy="294.6" r="2.35"/>
<circle cx="385.6" cy="298.3" r="2.35"/>
<circle cx="392.9" cy="276.0" r="2.35"/>
<circle cx="385.6" cy="346.8" r="2.35"/>
<circle cx="385.5" cy="398.5" r="2.35"/>
<circle cx="392.9" cy="291.4" r="2.35"/>
<circle cx="392.9" cy="335.8" r="2.35"/>
<circle cx="392.9" cy="274.7" r="2.35"/>
<circle cx="392.9" cy="325.6" r="2.35"/>
<circle cx="392.9" cy="349.8" r="2.35"/>
<circle cx="386.3" cy="321.8" r="2.35"/>
<circle cx="392.9" cy="372.5" r="2.35"/>
<circle cx="386.7" cy="397.7" r="2.35"/>
<circle cx="392.9" cy="273.6" r="2.35"/>
<circle cx="386.8" cy="340.1" r="2.35"/>
<circle cx="392.9" cy="409.7" r="2.35"/>
<circle cx="386.8" cy="387.8" r="2.35"/>
<circle cx="392.9" cy="343.0" r="2.35"/>
<circle cx="386.5" cy="388.7" r="2.35"/>
<circle cx="386.9" cy="377.9" r="2.35"/>
<circle cx="386.5" cy="260.5" r="2.35"/>
<circle cx="392.9" cy="344.7" r="2.35"/>
<circle cx="386.8" cy="251.8" r="2.35"/>
<circle cx="392.9" cy="424.1" r="2.35"/>
<circle cx="392.9" cy="235.4" r="2.35"/>
<circle cx="392.9" cy="330.0" r="2.35"/>
<circle cx="392.9" cy="354.1" r="2.35"/>
<circle cx="392.9" cy="312.6" r="2.35"/>
<circle cx="387.8" cy="387.3" r="2.35"/>
<circle cx="387.5" cy="398.5" r="2.35"/>
<circle cx="388.2" cy="411.6" r="2.35"/>
<circle cx="392.9" cy="288.4" r="2.35"/>
<circle cx="388.1" cy="304.7" r="2.35"/>
<circle cx="388.7" cy="323.4" r="2.35"/>
<circle cx="388.5" cy="426.8" r="2.35"/>
<circle cx="392.9" cy="329.8" r="2.35"/>
<circle cx="388.8" cy="346.0" r="2.35"/>
<circle cx="388.8" cy="353.1" r="2.35"/>
<circle cx="388.5" cy="386.7" r="2.35"/>
<circle cx="389.3" cy="278.0" r="2.35"/>
<circle cx="392.9" cy="325.5" r="2.35"/>
<circle cx="389.4" cy="436.5" r="2.35"/>
<circle cx="392.9" cy="396.7" r="2.35"/>
<circle cx="389.2" cy="384.7" r="2.35"/>
<circle cx="390.1" cy="383.0" r="2.35"/>
<circle cx="392.9" cy="294.1" r="2.35"/>
<circle cx="390.0" cy="355.5" r="2.35"/>
<circle cx="390.2" cy="410.3" r="2.35"/>
<circle cx="392.9" cy="348.5" r="2.35"/>
<circle cx="390.5" cy="366.7" r="2.35"/>
<circle cx="390.5" cy="395.1" r="2.35"/>
<circle cx="390.8" cy="369.6" r="2.35"/>
<circle cx="390.7" cy="367.3" r="2.35"/>
<circle cx="392.9" cy="356.5" r="2.35"/>
<circle cx="392.9" cy="294.1" r="2.35"/>
<circle cx="392.9" cy="343.6" r="2.35"/>
<circle cx="391.5" cy="391.7" r="2.35"/>
<circle cx="392.9" cy="324.6" r="2.35"/>
<circle cx="392.9" cy="276.2" r="2.35"/>
<circle cx="391.5" cy="276.4" r="2.35"/>
<circle cx="391.8" cy="401.1" r="2.35"/>
<circle cx="391.8" cy="409.3" r="2.35"/>
<circle cx="392.9" cy="338.4" r="2.35"/>
<circle cx="392.4" cy="409.2" r="2.35"/>
<circle cx="392.9" cy="263.1" r="2.35"/>
<circle cx="392.9" cy="358.4" r="2.35"/>
<circle cx="392.3" cy="371.0" r="2.35"/>
<circle cx="392.8" cy="358.3" r="2.35"/>
<circle cx="392.5" cy="402.2" r="2.35"/>
<circle cx="392.7" cy="296.1" r="2.35"/>
<circle cx="392.8" cy="263.5" r="2.35"/>
<circle cx="392.5" cy="281.0" r="2.35"/>
<circle cx="392.9" cy="220.0" r="2.35"/>
<circle cx="393.3" cy="388.2" r="2.35"/>
<circle cx="392.9" cy="339.5" r="2.35"/>
<circle cx="393.6" cy="443.9" r="2.35"/>
<circle cx="392.9" cy="343.7" r="2.35"/>
<circle cx="393.6" cy="406.1" r="2.35"/>
<circle cx="392.9" cy="330.5" r="2.35"/>
<circle cx="392.9" cy="273.0" r="2.35"/>
<circle cx="392.9" cy="257.0" r="2.35"/>
<circle cx="394.4" cy="210.1" r="2.35"/>
<circle cx="394.5" cy="356.2" r="2.35"/>
<circle cx="394.8" cy="365.8" r="2.35"/>
<circle cx="394.9" cy="411.7" r="2.35"/>
<circle cx="394.9" cy="374.4" r="2.35"/>
<circle cx="394.5" cy="400.9" r="2.35"/>
<circle cx="392.9" cy="341.0" r="2.35"/>
<circle cx="392.9" cy="368.8" r="2.35"/>
<circle cx="394.7" cy="383.6" r="2.35"/>
<circle cx="395.3" cy="399.2" r="2.35"/>
<circle cx="395.3" cy="370.6" r="2.35"/>
<circle cx="395.0" cy="231.6" r="2.35"/>
<circle cx="392.9" cy="343.9" r="2.35"/>
<circle cx="395.9" cy="359.5" r="2.35"/>
<circle cx="392.9" cy="279.4" r="2.35"/>
<circle cx="392.9" cy="297.8" r="2.35"/>
<circle cx="392.9" cy="269.7" r="2.35"/>
<circle cx="392.9" cy="237.8" r="2.35"/>
<circle cx="395.6" cy="322.5" r="2.35"/>
<circle cx="395.8" cy="356.0" r="2.35"/>
<circle cx="396.3" cy="260.9" r="2.35"/>
<circle cx="396.2" cy="263.0" r="2.35"/>
<circle cx="392.9" cy="267.8" r="2.35"/>
<circle cx="392.9" cy="306.5" r="2.35"/>
<circle cx="392.9" cy="428.6" r="2.35"/>
<circle cx="396.6" cy="353.9" r="2.35"/>
<circle cx="392.9" cy="303.4" r="2.35"/>
<circle cx="397.2" cy="361.4" r="2.35"/>
<circle cx="397.3" cy="346.2" r="2.35"/>
<circle cx="392.9" cy="409.0" r="2.35"/>
<circle cx="397.4" cy="259.0" r="2.35"/>
<circle cx="392.9" cy="320.5" r="2.35"/>
<circle cx="397.0" cy="400.7" r="2.35"/>
<circle cx="397.4" cy="377.9" r="2.35"/>
<circle cx="392.9" cy="271.4" r="2.35"/>
<circle cx="392.9" cy="293.6" r="2.35"/>
<circle cx="397.8" cy="405.8" r="2.35"/>
<circle cx="392.9" cy="406.0" r="2.35"/>
<circle cx="398.1" cy="255.8" r="2.35"/>
<circle cx="392.9" cy="296.9" r="2.35"/>
<circle cx="398.3" cy="386.4" r="2.35"/>
<circle cx="392.9" cy="275.9" r="2.35"/>
<circle cx="392.9" cy="293.8" r="2.35"/>
<circle cx="392.9" cy="243.2" r="2.35"/>
<circle cx="392.9" cy="309.0" r="2.35"/>
<circle cx="398.0" cy="359.7" r="2.35"/>
<circle cx="398.9" cy="356.1" r="2.35"/>
<circle cx="392.9" cy="237.4" r="2.35"/>
<circle cx="392.9" cy="396.6" r="2.35"/>
<circle cx="392.9" cy="226.2" r="2.35"/>
<circle cx="392.9" cy="322.7" r="2.35"/>
<circle cx="399.1" cy="402.3" r="2.35"/>
<circle cx="399.0" cy="350.4" r="2.35"/>
<circle cx="399.9" cy="376.4" r="2.35"/>
<circle cx="392.9" cy="331.8" r="2.35"/>
<circle cx="399.8" cy="362.1" r="2.35"/>
<circle cx="399.7" cy="365.1" r="2.35"/>
<circle cx="400.3" cy="291.0" r="2.35"/>
<circle cx="400.4" cy="319.5" r="2.35"/>
<circle cx="407.9" cy="311.6" r="2.35"/>
<circle cx="392.9" cy="265.1" r="2.35"/>
<circle cx="407.9" cy="293.8" r="2.35"/>
<circle cx="407.9" cy="312.2" r="2.35"/>
<circle cx="400.9" cy="333.9" r="2.35"/>
<circle cx="400.5" cy="227.5" r="2.35"/>
<circle cx="407.9" cy="218.3" r="2.35"/>
<circle cx="407.9" cy="315.0" r="2.35"/>
<circle cx="401.0" cy="340.8" r="2.35"/>
<circle cx="407.9" cy="226.9" r="2.35"/>
<circle cx="401.0" cy="287.4" r="2.35"/>
<circle cx="401.9" cy="237.0" r="2.35"/>
<circle cx="401.9" cy="416.5" r="2.35"/>
<circle cx="402.2" cy="367.0" r="2.35"/>
<circle cx="402.1" cy="351.4" r="2.35"/>
<circle cx="407.9" cy="286.0" r="2.35"/>
<circle cx="402.2" cy="343.2" r="2.35"/>
<circle cx="402.2" cy="383.6" r="2.35"/>
<circle cx="407.9" cy="337.8" r="2.35"/>
<circle cx="402.5" cy="284.3" r="2.35"/>
<circle cx="403.1" cy="342.6" r="2.35"/>
<circle cx="407.9" cy="279.5" r="2.35"/>
<circle cx="403.3" cy="383.3" r="2.35"/>
<circle cx="403.0" cy="394.3" r="2.35"/>
<circle cx="407.9" cy="283.4" r="2.35"/>
<circle cx="404.3" cy="381.9" r="2.35"/>
<circle cx="407.9" cy="299.1" r="2.35"/>
<circle cx="404.3" cy="353.5" r="2.35"/>
<circle cx="404.8" cy="304.9" r="2.35"/>
<circle cx="407.9" cy="228.9" r="2.35"/>
<circle cx="404.8" cy="358.9" r="2.35"/>
<circle cx="404.7" cy="416.1" r="2.35"/>
<circle cx="404.7" cy="429.2" r="2.35"/>
<circle cx="407.9" cy="293.5" r="2.35"/>
<circle cx="407.9" cy="286.4" r="2.35"/>
<circle cx="405.4" cy="358.0" r="2.35"/>
<circle cx="407.9" cy="235.4" r="2.35"/>
<circle cx="405.3" cy="367.4" r="2.35"/>
<circle cx="405.5" cy="212.2" r="2.35"/>
<circle cx="407.9" cy="231.1" r="2.35"/>
<circle cx="407.9" cy="416.0" r="2.35"/>
<circle cx="407.9" cy="257.5" r="2.35"/>
<circle cx="407.9" cy="247.2" r="2.35"/>
<circle cx="405.8" cy="381.4" r="2.35"/>
<circle cx="406.4" cy="404.2" r="2.35"/>
<circle cx="407.9" cy="235.1" r="2.35"/>
<circle cx="406.6" cy="281.3" r="2.35"/>
<circle cx="406.7" cy="347.2" r="2.35"/>
<circle cx="407.9" cy="269.3" r="2.35"/>
<circle cx="406.6" cy="335.6" r="2.35"/>
<circle cx="407.9" cy="405.1" r="2.35"/>
<circle cx="407.9" cy="341.1" r="2.35"/>
<circle cx="407.9" cy="242.6" r="2.35"/>
<circle cx="407.1" cy="352.4" r="2.35"/>
<circle cx="407.3" cy="328.9" r="2.35"/>
<circle cx="407.9" cy="294.6" r="2.35"/>
<circle cx="407.1" cy="432.2" r="2.35"/>
<circle cx="407.1" cy="274.7" r="2.35"/>
<circle cx="407.8" cy="245.6" r="2.35"/>
<circle cx="407.8" cy="409.6" r="2.35"/>
<circle cx="407.6" cy="371.1" r="2.35"/>
<circle cx="407.9" cy="362.3" r="2.35"/>
<circle cx="407.9" cy="256.1" r="2.35"/>
<circle cx="408.4" cy="405.4" r="2.35"/>
<circle cx="407.9" cy="309.1" r="2.35"/>
<circle cx="408.3" cy="375.6" r="2.35"/>
<circle cx="408.3" cy="357.5" r="2.35"/>
<circle cx="407.9" cy="240.5" r="2.35"/>
<circle cx="408.9" cy="270.5" r="2.35"/>
<circle cx="407.9" cy="252.0" r="2.35"/>
<circle cx="407.9" cy="274.4" r="2.35"/>
<circle cx="407.9" cy="273.6" r="2.35"/>
<circle cx="407.9" cy="244.4" r="2.35"/>
<circle cx="409.0" cy="358.0" r="2.35"/>
<circle cx="407.9" cy="258.6" r="2.35"/>
<circle cx="409.8" cy="300.3" r="2.35"/>
<circle cx="409.6" cy="254.7" r="2.35"/>
<circle cx="409.8" cy="244.6" r="2.35"/>
<circle cx="407.9" cy="289.3" r="2.35"/>
<circle cx="409.7" cy="371.1" r="2.35"/>
<circle cx="407.9" cy="412.2" r="2.35"/>
<circle cx="410.3" cy="389.5" r="2.35"/>
<circle cx="410.1" cy="273.9" r="2.35"/>
<circle cx="407.9" cy="276.3" r="2.35"/>
<circle cx="410.4" cy="368.2" r="2.35"/>
<circle cx="407.9" cy="269.7" r="2.35"/>
<circle cx="407.9" cy="247.9" r="2.35"/>
<circle cx="410.6" cy="422.4" r="2.35"/>
<circle cx="407.9" cy="243.9" r="2.35"/>
<circle cx="407.9" cy="305.5" r="2.35"/>
<circle cx="410.8" cy="258.6" r="2.35"/>
<circle cx="410.6" cy="290.2" r="2.35"/>
<circle cx="410.6" cy="225.9" r="2.35"/>
<circle cx="411.1" cy="317.2" r="2.35"/>
<circle cx="411.4" cy="334.5" r="2.35"/>
<circle cx="411.2" cy="393.7" r="2.35"/>
<circle cx="411.0" cy="339.8" r="2.35"/>
<circle cx="411.6" cy="398.9" r="2.35"/>
<circle cx="407.9" cy="283.6" r="2.35"/>
<circle cx="411.6" cy="365.0" r="2.35"/>
<circle cx="412.0" cy="233.8" r="2.35"/>
<circle cx="412.1" cy="327.6" r="2.35"/>
<circle cx="407.9" cy="339.4" r="2.35"/>
<circle cx="407.9" cy="328.4" r="2.35"/>
<circle cx="412.6" cy="396.2" r="2.35"/>
<circle cx="407.9" cy="206.6" r="2.35"/>
<circle cx="412.6" cy="354.6" r="2.35"/>
<circle cx="412.9" cy="285.6" r="2.35"/>
<circle cx="407.9" cy="249.3" r="2.35"/>
<circle cx="412.9" cy="324.2" r="2.35"/>
<circle cx="412.8" cy="367.9" r="2.35"/>
<circle cx="412.5" cy="343.0" r="2.35"/>
<circle cx="412.8" cy="350.2" r="2.35"/>
<circle cx="413.3" cy="405.7" r="2.35"/>
<circle cx="413.0" cy="361.8" r="2.35"/>
<circle cx="413.1" cy="335.7" r="2.35"/>
<circle cx="407.9" cy="294.6" r="2.35"/>
<circle cx="414.2" cy="352.3" r="2.35"/>
<circle cx="407.9" cy="273.6" r="2.35"/>
<circle cx="407.9" cy="380.3" r="2.35"/>
<circle cx="414.3" cy="279.5" r="2.35"/>
<circle cx="414.0" cy="410.8" r="2.35"/>
<circle cx="414.3" cy="307.8" r="2.35"/>
<circle cx="414.9" cy="230.1" r="2.35"/>
<circle cx="415.4" cy="418.7" r="2.35"/>
<circle cx="415.1" cy="214.1" r="2.35"/>
<circle cx="407.9" cy="224.9" r="2.35"/>
<circle cx="422.9" cy="275.0" r="2.35"/>
<circle cx="415.9" cy="269.2" r="2.35"/>
<circle cx="422.9" cy="332.6" r="2.35"/>
<circle cx="422.9" cy="207.8" r="2.35"/>
<circle cx="415.7" cy="269.5" r="2.35"/>
<circle cx="422.9" cy="274.6" r="2.35"/>
<circle cx="415.7" cy="391.6" r="2.35"/>
<circle cx="422.9" cy="339.7" r="2.35"/>
<circle cx="416.4" cy="298.8" r="2.35"/>
<circle cx="416.2" cy="298.6" r="2.35"/>
<circle cx="416.5" cy="249.7" r="2.35"/>
<circle cx="422.9" cy="282.8" r="2.35"/>
<circle cx="422.9" cy="297.2" r="2.35"/>
<circle cx="417.3" cy="332.5" r="2.35"/>
<circle cx="417.4" cy="348.3" r="2.35"/>
<circle cx="417.3" cy="259.7" r="2.35"/>
<circle cx="422.9" cy="238.5" r="2.35"/>
<circle cx="422.9" cy="260.2" r="2.35"/>
<circle cx="422.9" cy="332.5" r="2.35"/>
<circle cx="422.9" cy="232.1" r="2.35"/>
<circle cx="417.7" cy="296.1" r="2.35"/>
<circle cx="422.9" cy="311.4" r="2.35"/>
<circle cx="422.9" cy="234.2" r="2.35"/>
<circle cx="422.9" cy="259.3" r="2.35"/>
<circle cx="422.9" cy="256.7" r="2.35"/>
<circle cx="418.0" cy="310.1" r="2.35"/>
<circle cx="422.9" cy="291.5" r="2.35"/>
<circle cx="418.7" cy="360.0" r="2.35"/>
<circle cx="418.8" cy="350.2" r="2.35"/>
<circle cx="418.8" cy="304.4" r="2.35"/>
<circle cx="419.0" cy="280.4" r="2.35"/>
<circle cx="422.9" cy="277.4" r="2.35"/>
<circle cx="422.9" cy="285.9" r="2.35"/>
<circle cx="422.9" cy="326.3" r="2.35"/>
<circle cx="422.9" cy="312.6" r="2.35"/>
<circle cx="422.9" cy="214.2" r="2.35"/>
<circle cx="419.6" cy="340.2" r="2.35"/>
<circle cx="422.9" cy="221.9" r="2.35"/>
<circle cx="419.6" cy="386.8" r="2.35"/>
<circle cx="419.9" cy="411.0" r="2.35"/>
<circle cx="419.5" cy="286.0" r="2.35"/>
<circle cx="420.0" cy="327.8" r="2.35"/>
<circle cx="422.9" cy="280.7" r="2.35"/>
<circle cx="420.1" cy="368.8" r="2.35"/>
<circle cx="420.2" cy="327.5" r="2.35"/>
<circle cx="422.9" cy="275.5" r="2.35"/>
<circle cx="422.9" cy="265.0" r="2.35"/>
<circle cx="420.6" cy="337.5" r="2.35"/>
<circle cx="422.9" cy="315.2" r="2.35"/>
<circle cx="422.9" cy="255.5" r="2.35"/>
<circle cx="421.3" cy="377.0" r="2.35"/>
<circle cx="421.3" cy="344.5" r="2.35"/>
<circle cx="421.9" cy="326.8" r="2.35"/>
<circle cx="422.9" cy="277.1" r="2.35"/>
<circle cx="422.9" cy="310.0" r="2.35"/>
<circle cx="422.0" cy="269.8" r="2.35"/>
<circle cx="422.3" cy="259.2" r="2.35"/>
<circle cx="422.9" cy="250.7" r="2.35"/>
<circle cx="422.9" cy="187.3" r="2.35"/>
<circle cx="422.6" cy="248.8" r="2.35"/>
<circle cx="423.0" cy="375.8" r="2.35"/>
<circle cx="422.9" cy="279.5" r="2.35"/>
<circle cx="423.0" cy="311.3" r="2.35"/>
<circle cx="423.8" cy="322.7" r="2.35"/>
<circle cx="423.6" cy="243.4" r="2.35"/>
<circle cx="423.5" cy="206.8" r="2.35"/>
<circle cx="422.9" cy="272.6" r="2.35"/>
<circle cx="424.2" cy="401.7" r="2.35"/>
<circle cx="424.6" cy="293.5" r="2.35"/>
<circle cx="422.9" cy="259.4" r="2.35"/>
<circle cx="422.9" cy="263.4" r="2.35"/>
<circle cx="425.4" cy="394.0" r="2.35"/>
<circle cx="422.9" cy="258.7" r="2.35"/>
<circle cx="425.8" cy="282.8" r="2.35"/>
<circle cx="425.5" cy="306.0" r="2.35"/>
<circle cx="422.9" cy="234.1" r="2.35"/>
<circle cx="425.5" cy="246.2" r="2.35"/>
<circle cx="425.9" cy="346.0" r="2.35"/>
<circle cx="426.0" cy="354.2" r="2.35"/>
<circle cx="426.0" cy="348.6" r="2.35"/>
<circle cx="426.3" cy="393.7" r="2.35"/>
<circle cx="426.4" cy="394.2" r="2.35"/>
<circle cx="426.0" cy="336.4" r="2.35"/>
<circle cx="422.9" cy="279.6" r="2.35"/>
<circle cx="422.9" cy="305.1" r="2.35"/>
<circle cx="426.6" cy="215.2" r="2.35"/>
<circle cx="426.6" cy="300.1" r="2.35"/>
<circle cx="427.2" cy="229.6" r="2.35"/>
<circle cx="422.9" cy="318.2" r="2.35"/>
<circle cx="422.9" cy="241.0" r="2.35"/>
<circle cx="427.2" cy="346.4" r="2.35"/>
<circle cx="422.9" cy="256.9" r="2.35"/>
<circle cx="422.9" cy="276.8" r="2.35"/>
<circle cx="422.9" cy="323.4" r="2.35"/>
<circle cx="427.6" cy="256.3" r="2.35"/>
<circle cx="422.9" cy="407.9" r="2.35"/>
<circle cx="422.9" cy="292.8" r="2.35"/>
<circle cx="422.9" cy="227.8" r="2.35"/>
<circle cx="427.6" cy="319.0" r="2.35"/>
<circle cx="427.5" cy="298.7" r="2.35"/>
<circle cx="427.7" cy="396.6" r="2.35"/>
<circle cx="428.2" cy="315.9" r="2.35"/>
<circle cx="422.9" cy="217.5" r="2.35"/>
<circle cx="428.2" cy="398.5" r="2.35"/>
<circle cx="428.3" cy="295.5" r="2.35"/>
<circle cx="422.9" cy="297.1" r="2.35"/>
<circle cx="428.2" cy="256.0" r="2.35"/>
<circle cx="428.1" cy="248.1" r="2.35"/>
<circle cx="428.7" cy="187.1" r="2.35"/>
<circle cx="422.9" cy="188.5" r="2.35"/>
<circle cx="428.9" cy="318.7" r="2.35"/>
<circle cx="422.9" cy="258.0" r="2.35"/>
<circle cx="429.1" cy="317.9" r="2.35"/>
<circle cx="422.9" cy="288.7" r="2.35"/>
<circle cx="429.0" cy="335.6" r="2.35"/>
<circle cx="429.5" cy="400.8" r="2.35"/>
<circle cx="429.7" cy="351.3" r="2.35"/>
<circle cx="429.6" cy="322.4" r="2.35"/>
<circle cx="422.9" cy="283.7" r="2.35"/>
<circle cx="429.5" cy="320.1" r="2.35"/>
<circle cx="430.2" cy="334.2" r="2.35"/>
<circle cx="430.7" cy="182.8" r="2.35"/>
<circle cx="438.0" cy="310.2" r="2.35"/>
<circle cx="430.5" cy="373.7" r="2.35"/>
<circle cx="430.9" cy="322.7" r="2.35"/>
<circle cx="438.0" cy="273.3" r="2.35"/>
<circle cx="431.2" cy="389.2" r="2.35"/>
<circle cx="438.0" cy="237.8" r="2.35"/>
<circle cx="431.8" cy="295.9" r="2.35"/>
<circle cx="431.6" cy="320.4" r="2.35"/>
<circle cx="432.8" cy="377.0" r="2.35"/>
<circle cx="433.4" cy="384.2" r="2.35"/>
<circle cx="438.0" cy="294.4" r="2.35"/>
<circle cx="438.0" cy="383.3" r="2.35"/>
<circle cx="433.5" cy="317.4" r="2.35"/>
<circle cx="438.0" cy="241.1" r="2.35"/>
<circle cx="434.5" cy="336.9" r="2.35"/>
<circle cx="434.9" cy="327.4" r="2.35"/>
<circle cx="438.0" cy="291.8" r="2.35"/>
<circle cx="435.4" cy="276.6" r="2.35"/>
<circle cx="435.3" cy="348.9" r="2.35"/>
<circle cx="438.0" cy="185.8" r="2.35"/>
<circle cx="435.1" cy="260.6" r="2.35"/>
<circle cx="435.1" cy="307.5" r="2.35"/>
<circle cx="435.0" cy="342.1" r="2.35"/>
<circle cx="435.9" cy="360.5" r="2.35"/>
<circle cx="435.5" cy="367.1" r="2.35"/>
<circle cx="435.8" cy="382.8" r="2.35"/>
<circle cx="438.0" cy="319.4" r="2.35"/>
<circle cx="438.0" cy="316.3" r="2.35"/>
<circle cx="436.1" cy="364.4" r="2.35"/>
<circle cx="438.0" cy="265.5" r="2.35"/>
<circle cx="436.0" cy="235.6" r="2.35"/>
<circle cx="438.0" cy="292.2" r="2.35"/>
<circle cx="436.4" cy="334.1" r="2.35"/>
<circle cx="436.2" cy="225.1" r="2.35"/>
<circle cx="436.8" cy="283.9" r="2.35"/>
<circle cx="438.0" cy="241.7" r="2.35"/>
<circle cx="438.0" cy="240.8" r="2.35"/>
<circle cx="438.0" cy="220.3" r="2.35"/>
<circle cx="436.9" cy="365.0" r="2.35"/>
<circle cx="436.5" cy="363.6" r="2.35"/>
<circle cx="436.6" cy="312.6" r="2.35"/>
<circle cx="438.0" cy="258.0" r="2.35"/>
<circle cx="438.0" cy="328.1" r="2.35"/>
<circle cx="437.1" cy="285.3" r="2.35"/>
<circle cx="438.0" cy="274.7" r="2.35"/>
<circle cx="437.1" cy="341.2" r="2.35"/>
<circle cx="437.5" cy="379.9" r="2.35"/>
<circle cx="438.3" cy="354.6" r="2.35"/>
<circle cx="438.7" cy="350.2" r="2.35"/>
<circle cx="438.0" cy="265.1" r="2.35"/>
<circle cx="438.7" cy="282.8" r="2.35"/>
<circle cx="438.7" cy="210.9" r="2.35"/>
<circle cx="438.0" cy="207.9" r="2.35"/>
<circle cx="438.7" cy="319.8" r="2.35"/>
<circle cx="438.0" cy="213.9" r="2.35"/>
<circle cx="438.9" cy="387.6" r="2.35"/>
<circle cx="438.0" cy="317.7" r="2.35"/>
<circle cx="438.0" cy="254.8" r="2.35"/>
<circle cx="438.0" cy="247.0" r="2.35"/>
<circle cx="438.0" cy="218.8" r="2.35"/>
<circle cx="438.0" cy="304.2" r="2.35"/>
<circle cx="438.0" cy="306.1" r="2.35"/>
<circle cx="440.3" cy="317.6" r="2.35"/>
<circle cx="440.4" cy="225.5" r="2.35"/>
<circle cx="440.0" cy="322.0" r="2.35"/>
<circle cx="440.8" cy="192.5" r="2.35"/>
<circle cx="440.6" cy="291.6" r="2.35"/>
<circle cx="438.0" cy="222.8" r="2.35"/>
<circle cx="438.0" cy="314.2" r="2.35"/>
<circle cx="440.6" cy="184.5" r="2.35"/>
<circle cx="438.0" cy="316.8" r="2.35"/>
<circle cx="441.8" cy="357.8" r="2.35"/>
<circle cx="438.0" cy="249.0" r="2.35"/>
<circle cx="438.0" cy="303.5" r="2.35"/>
<circle cx="442.3" cy="380.3" r="2.35"/>
<circle cx="438.0" cy="303.2" r="2.35"/>
<circle cx="438.0" cy="314.4" r="2.35"/>
<circle cx="442.8" cy="283.1" r="2.35"/>
<circle cx="442.6" cy="328.8" r="2.35"/>
<circle cx="438.0" cy="269.1" r="2.35"/>
<circle cx="443.0" cy="339.7" r="2.35"/>
<circle cx="438.0" cy="297.0" r="2.35"/>
<circle cx="443.0" cy="233.8" r="2.35"/>
<circle cx="443.4" cy="293.5" r="2.35"/>
<circle cx="443.4" cy="374.3" r="2.35"/>
<circle cx="438.0" cy="264.4" r="2.35"/>
<circle cx="438.0" cy="242.2" r="2.35"/>
<circle cx="443.6" cy="377.5" r="2.35"/>
<circle cx="443.5" cy="356.5" r="2.35"/>
<circle cx="443.8" cy="220.0" r="2.35"/>
<circle cx="438.0" cy="309.1" r="2.35"/>
<circle cx="443.6" cy="313.1" r="2.35"/>
<circle cx="438.0" cy="198.3" r="2.35"/>
<circle cx="438.0" cy="272.7" r="2.35"/>
<circle cx="444.4" cy="302.2" r="2.35"/>
<circle cx="438.0" cy="259.9" r="2.35"/>
<circle cx="444.7" cy="311.6" r="2.35"/>
<circle cx="438.0" cy="252.9" r="2.35"/>
<circle cx="444.9" cy="258.3" r="2.35"/>
<circle cx="444.5" cy="243.3" r="2.35"/>
<circle cx="444.5" cy="372.9" r="2.35"/>
<circle cx="444.8" cy="383.1" r="2.35"/>
<circle cx="445.3" cy="252.2" r="2.35"/>
<circle cx="438.0" cy="258.2" r="2.35"/>
<circle cx="438.0" cy="264.1" r="2.35"/>
<circle cx="445.9" cy="290.0" r="2.35"/>
<circle cx="453.0" cy="322.2" r="2.35"/>
<circle cx="445.8" cy="271.1" r="2.35"/>
<circle cx="453.0" cy="231.1" r="2.35"/>
<circle cx="453.0" cy="298.6" r="2.35"/>
<circle cx="453.0" cy="248.5" r="2.35"/>
<circle cx="446.2" cy="316.2" r="2.35"/>
<circle cx="453.0" cy="202.4" r="2.35"/>
<circle cx="453.0" cy="236.4" r="2.35"/>
<circle cx="453.0" cy="186.7" r="2.35"/>
<circle cx="446.7" cy="291.6" r="2.35"/>
<circle cx="447.0" cy="307.9" r="2.35"/>
<circle cx="447.8" cy="377.8" r="2.35"/>
<circle cx="448.3" cy="334.7" r="2.35"/>
<circle cx="453.0" cy="255.4" r="2.35"/>
<circle cx="448.0" cy="345.6" r="2.35"/>
<circle cx="453.0" cy="229.6" r="2.35"/>
<circle cx="453.0" cy="218.0" r="2.35"/>
<circle cx="453.0" cy="249.0" r="2.35"/>
<circle cx="449.1" cy="367.4" r="2.35"/>
<circle cx="453.0" cy="234.6" r="2.35"/>
<circle cx="453.0" cy="263.9" r="2.35"/>
<circle cx="453.0" cy="236.1" r="2.35"/>
<circle cx="449.4" cy="307.0" r="2.35"/>
<circle cx="449.3" cy="374.5" r="2.35"/>
<circle cx="449.4" cy="352.0" r="2.35"/>
<circle cx="449.8" cy="346.5" r="2.35"/>
<circle cx="453.0" cy="313.8" r="2.35"/>
<circle cx="453.0" cy="281.4" r="2.35"/>
<circle cx="450.3" cy="314.7" r="2.35"/>
<circle cx="453.0" cy="230.9" r="2.35"/>
<circle cx="453.0" cy="269.9" r="2.35"/>
<circle cx="450.4" cy="363.3" r="2.35"/>
<circle cx="453.0" cy="179.2" r="2.35"/>
<circle cx="453.0" cy="290.9" r="2.35"/>
<circle cx="453.0" cy="233.4" r="2.35"/>
<circle cx="453.0" cy="360.7" r="2.35"/>
<circle cx="450.9" cy="383.2" r="2.35"/>
<circle cx="453.0" cy="261.8" r="2.35"/>
<circle cx="451.1" cy="298.3" r="2.35"/>
<circle cx="451.7" cy="297.4" r="2.35"/>
<circle cx="451.5" cy="329.3" r="2.35"/>
<circle cx="453.0" cy="219.8" r="2.35"/>
<circle cx="452.0" cy="346.0" r="2.35"/>
<circle cx="452.4" cy="184.1" r="2.35"/>
<circle cx="453.0" cy="306.6" r="2.35"/>
<circle cx="452.9" cy="338.4" r="2.35"/>
<circle cx="452.8" cy="239.3" r="2.35"/>
<circle cx="453.0" cy="299.0" r="2.35"/>
<circle cx="453.0" cy="255.2" r="2.35"/>
<circle cx="453.0" cy="296.3" r="2.35"/>
<circle cx="453.0" cy="304.3" r="2.35"/>
<circle cx="453.7" cy="300.1" r="2.35"/>
<circle cx="453.0" cy="185.6" r="2.35"/>
<circle cx="453.0" cy="252.1" r="2.35"/>
<circle cx="453.0" cy="298.7" r="2.35"/>
<circle cx="454.4" cy="325.9" r="2.35"/>
<circle cx="454.0" cy="312.6" r="2.35"/>
<circle cx="453.0" cy="270.5" r="2.35"/>
<circle cx="455.1" cy="307.3" r="2.35"/>
<circle cx="453.0" cy="188.9" r="2.35"/>
<circle cx="455.7" cy="373.2" r="2.35"/>
<circle cx="453.0" cy="223.3" r="2.35"/>
<circle cx="453.0" cy="252.8" r="2.35"/>
<circle cx="456.4" cy="326.9" r="2.35"/>
<circle cx="456.6" cy="328.9" r="2.35"/>
<circle cx="453.0" cy="309.4" r="2.35"/>
<circle cx="456.7" cy="281.3" r="2.35"/>
<circle cx="453.0" cy="305.1" r="2.35"/>
<circle cx="453.0" cy="361.1" r="2.35"/>
<circle cx="457.3" cy="236.9" r="2.35"/>
<circle cx="453.0" cy="268.0" r="2.35"/>
<circle cx="453.0" cy="255.9" r="2.35"/>
<circle cx="457.8" cy="288.7" r="2.35"/>
<circle cx="453.0" cy="335.6" r="2.35"/>
<circle cx="453.0" cy="304.3" r="2.35"/>
<circle cx="458.3" cy="344.3" r="2.35"/>
<circle cx="453.0" cy="208.1" r="2.35"/>
<circle cx="458.3" cy="283.2" r="2.35"/>
<circle cx="453.0" cy="226.9" r="2.35"/>
<circle cx="453.0" cy="293.2" r="2.35"/>
<circle cx="458.4" cy="315.4" r="2.35"/>
<circle cx="458.8" cy="303.2" r="2.35"/>
<circle cx="453.0" cy="282.8" r="2.35"/>
<circle cx="453.0" cy="184.5" r="2.35"/>
<circle cx="460.2" cy="301.5" r="2.35"/>
<circle cx="460.4" cy="278.9" r="2.35"/>
<circle cx="460.1" cy="333.2" r="2.35"/>
<circle cx="460.4" cy="273.0" r="2.35"/>
<circle cx="460.7" cy="240.6" r="2.35"/>
<circle cx="468.0" cy="235.5" r="2.35"/>
<circle cx="468.0" cy="312.9" r="2.35"/>
<circle cx="468.0" cy="301.6" r="2.35"/>
<circle cx="461.1" cy="373.8" r="2.35"/>
<circle cx="461.4" cy="365.9" r="2.35"/>
<circle cx="468.0" cy="208.5" r="2.35"/>
<circle cx="461.5" cy="365.7" r="2.35"/>
<circle cx="461.8" cy="307.3" r="2.35"/>
<circle cx="468.0" cy="221.7" r="2.35"/>
<circle cx="462.0" cy="299.0" r="2.35"/>
<circle cx="468.0" cy="244.6" r="2.35"/>
<circle cx="468.0" cy="319.6" r="2.35"/>
<circle cx="468.0" cy="292.4" r="2.35"/>
<circle cx="468.0" cy="259.5" r="2.35"/>
<circle cx="463.0" cy="311.9" r="2.35"/>
<circle cx="468.0" cy="311.5" r="2.35"/>
<circle cx="468.0" cy="307.3" r="2.35"/>
<circle cx="463.7" cy="302.5" r="2.35"/>
<circle cx="463.5" cy="287.3" r="2.35"/>
<circle cx="463.5" cy="340.3" r="2.35"/>
<circle cx="464.2" cy="330.8" r="2.35"/>
<circle cx="464.3" cy="243.1" r="2.35"/>
<circle cx="465.2" cy="341.3" r="2.35"/>
<circle cx="468.0" cy="279.3" r="2.35"/>
<circle cx="465.9" cy="272.7" r="2.35"/>
<circle cx="465.7" cy="321.0" r="2.35"/>
<circle cx="468.0" cy="306.7" r="2.35"/>
<circle cx="468.0" cy="307.6" r="2.35"/>
<circle cx="468.0" cy="251.6" r="2.35"/>
<circle cx="468.0" cy="262.1" r="2.35"/>
<circle cx="466.2" cy="253.0" r="2.35"/>
<circle cx="466.2" cy="368.8" r="2.35"/>
<circle cx="466.8" cy="295.4" r="2.35"/>
<circle cx="468.0" cy="277.6" r="2.35"/>
<circle cx="468.0" cy="304.3" r="2.35"/>
<circle cx="467.1" cy="350.6" r="2.35"/>
<circle cx="467.3" cy="242.4" r="2.35"/>
<circle cx="468.0" cy="317.0" r="2.35"/>
<circle cx="467.7" cy="288.8" r="2.35"/>
<circle cx="468.0" cy="239.4" r="2.35"/>
<circle cx="468.0" cy="220.4" r="2.35"/>
<circle cx="468.2" cy="294.9" r="2.35"/>
<circle cx="468.0" cy="177.1" r="2.35"/>
<circle cx="468.0" cy="229.2" r="2.35"/>
<circle cx="468.0" cy="199.0" r="2.35"/>
<circle cx="468.5" cy="251.9" r="2.35"/>
<circle cx="468.0" cy="261.0" r="2.35"/>
<circle cx="468.0" cy="240.2" r="2.35"/>
<circle cx="468.0" cy="191.8" r="2.35"/>
<circle cx="468.0" cy="297.1" r="2.35"/>
<circle cx="468.0" cy="247.8" r="2.35"/>
<circle cx="468.0" cy="238.7" r="2.35"/>
<circle cx="468.0" cy="246.9" r="2.35"/>
<circle cx="468.0" cy="291.1" r="2.35"/>
<circle cx="468.0" cy="262.1" r="2.35"/>
<circle cx="468.0" cy="203.4" r="2.35"/>
<circle cx="469.5" cy="359.2" r="2.35"/>
<circle cx="470.2" cy="281.6" r="2.35"/>
<circle cx="468.0" cy="274.8" r="2.35"/>
<circle cx="470.5" cy="362.6" r="2.35"/>
<circle cx="468.0" cy="363.1" r="2.35"/>
<circle cx="471.1" cy="322.8" r="2.35"/>
<circle cx="471.3" cy="272.4" r="2.35"/>
<circle cx="471.0" cy="345.5" r="2.35"/>
<circle cx="468.0" cy="247.9" r="2.35"/>
<circle cx="471.9" cy="276.4" r="2.35"/>
<circle cx="471.8" cy="327.6" r="2.35"/>
<circle cx="468.0" cy="239.6" r="2.35"/>
<circle cx="468.0" cy="357.9" r="2.35"/>
<circle cx="468.0" cy="235.9" r="2.35"/>
<circle cx="472.7" cy="345.1" r="2.35"/>
<circle cx="468.0" cy="257.4" r="2.35"/>
<circle cx="468.0" cy="294.6" r="2.35"/>
<circle cx="468.0" cy="218.0" r="2.35"/>
<circle cx="468.0" cy="204.5" r="2.35"/>
<circle cx="468.0" cy="297.2" r="2.35"/>
<circle cx="468.0" cy="210.2" r="2.35"/>
<circle cx="473.8" cy="342.4" r="2.35"/>
<circle cx="473.6" cy="288.8" r="2.35"/>
<circle cx="474.3" cy="285.1" r="2.35"/>
<circle cx="468.0" cy="267.2" r="2.35"/>
<circle cx="474.7" cy="333.1" r="2.35"/>
<circle cx="474.5" cy="347.3" r="2.35"/>
<circle cx="474.9" cy="245.0" r="2.35"/>
<circle cx="474.7" cy="304.7" r="2.35"/>
<circle cx="475.1" cy="303.9" r="2.35"/>
<circle cx="483.0" cy="308.9" r="2.35"/>
<circle cx="483.0" cy="267.4" r="2.35"/>
<circle cx="476.1" cy="248.2" r="2.35"/>
<circle cx="476.1" cy="324.0" r="2.35"/>
<circle cx="483.0" cy="183.3" r="2.35"/>
<circle cx="476.6" cy="253.3" r="2.35"/>
<circle cx="476.6" cy="325.1" r="2.35"/>
<circle cx="483.0" cy="253.2" r="2.35"/>
<circle cx="483.0" cy="235.2" r="2.35"/>
<circle cx="477.3" cy="257.0" r="2.35"/>
<circle cx="483.0" cy="310.4" r="2.35"/>
<circle cx="483.0" cy="327.7" r="2.35"/>
<circle cx="483.0" cy="237.3" r="2.35"/>
<circle cx="483.0" cy="302.9" r="2.35"/>
<circle cx="477.9" cy="284.0" r="2.35"/>
<circle cx="477.9" cy="242.9" r="2.35"/>
<circle cx="483.0" cy="204.9" r="2.35"/>
<circle cx="483.0" cy="277.7" r="2.35"/>
<circle cx="478.4" cy="349.9" r="2.35"/>
<circle cx="478.0" cy="245.9" r="2.35"/>
<circle cx="483.0" cy="240.3" r="2.35"/>
<circle cx="478.6" cy="288.9" r="2.35"/>
<circle cx="483.0" cy="200.4" r="2.35"/>
<circle cx="479.4" cy="286.1" r="2.35"/>
<circle cx="479.5" cy="283.8" r="2.35"/>
<circle cx="479.8" cy="256.4" r="2.35"/>
<circle cx="483.0" cy="209.0" r="2.35"/>
<circle cx="479.9" cy="324.8" r="2.35"/>
<circle cx="483.0" cy="227.2" r="2.35"/>
<circle cx="483.0" cy="216.2" r="2.35"/>
<circle cx="483.0" cy="297.8" r="2.35"/>
<circle cx="480.5" cy="336.3" r="2.35"/>
<circle cx="483.0" cy="259.9" r="2.35"/>
<circle cx="483.0" cy="258.0" r="2.35"/>
<circle cx="483.0" cy="270.0" r="2.35"/>
<circle cx="483.0" cy="192.5" r="2.35"/>
<circle cx="481.3" cy="215.4" r="2.35"/>
<circle cx="483.0" cy="212.1" r="2.35"/>
<circle cx="481.9" cy="249.8" r="2.35"/>
<circle cx="483.0" cy="245.5" r="2.35"/>
<circle cx="483.0" cy="245.2" r="2.35"/>
<circle cx="483.0" cy="237.5" r="2.35"/>
<circle cx="483.0" cy="322.9" r="2.35"/>
<circle cx="483.0" cy="340.0" r="2.35"/>
<circle cx="483.0" cy="206.0" r="2.35"/>
<circle cx="483.6" cy="252.7" r="2.35"/>
<circle cx="484.2" cy="186.5" r="2.35"/>
<circle cx="484.0" cy="272.9" r="2.35"/>
<circle cx="483.0" cy="210.7" r="2.35"/>
<circle cx="483.0" cy="258.8" r="2.35"/>
<circle cx="485.2" cy="297.7" r="2.35"/>
<circle cx="483.0" cy="289.9" r="2.35"/>
<circle cx="485.4" cy="318.8" r="2.35"/>
<circle cx="485.7" cy="267.4" r="2.35"/>
<circle cx="486.1" cy="301.5" r="2.35"/>
<circle cx="483.0" cy="215.9" r="2.35"/>
<circle cx="486.7" cy="291.2" r="2.35"/>
<circle cx="483.0" cy="232.3" r="2.35"/>
<circle cx="486.9" cy="350.1" r="2.35"/>
<circle cx="486.8" cy="240.4" r="2.35"/>
<circle cx="486.7" cy="321.4" r="2.35"/>
<circle cx="483.0" cy="299.1" r="2.35"/>
<circle cx="487.0" cy="282.5" r="2.35"/>
<circle cx="483.0" cy="227.8" r="2.35"/>
<circle cx="483.0" cy="228.3" r="2.35"/>
<circle cx="487.7" cy="338.8" r="2.35"/>
<circle cx="487.9" cy="275.1" r="2.35"/>
<circle cx="483.0" cy="347.0" r="2.35"/>
<circle cx="483.0" cy="257.6" r="2.35"/>
<circle cx="488.2" cy="347.3" r="2.35"/>
<circle cx="483.0" cy="278.2" r="2.35"/>
<circle cx="483.0" cy="274.6" r="2.35"/>
<circle cx="483.0" cy="216.4" r="2.35"/>
<circle cx="488.7" cy="334.5" r="2.35"/>
<circle cx="488.8" cy="254.8" r="2.35"/>
<circle cx="483.0" cy="290.6" r="2.35"/>
<circle cx="489.6" cy="346.9" r="2.35"/>
<circle cx="483.0" cy="222.7" r="2.35"/>
<circle cx="498.1" cy="257.1" r="2.35"/>
<circle cx="498.1" cy="270.5" r="2.35"/>
<circle cx="490.6" cy="320.5" r="2.35"/>
<circle cx="490.6" cy="253.6" r="2.35"/>
<circle cx="491.3" cy="262.9" r="2.35"/>
<circle cx="491.3" cy="229.5" r="2.35"/>
<circle cx="491.5" cy="309.8" r="2.35"/>
<circle cx="491.5" cy="294.4" r="2.35"/>
<circle cx="491.9" cy="244.9" r="2.35"/>
<circle cx="491.8" cy="295.2" r="2.35"/>
<circle cx="498.1" cy="286.2" r="2.35"/>
<circle cx="498.1" cy="339.2" r="2.35"/>
<circle cx="498.1" cy="311.8" r="2.35"/>
<circle cx="498.1" cy="234.8" r="2.35"/>
<circle cx="498.1" cy="283.4" r="2.35"/>
<circle cx="498.1" cy="266.5" r="2.35"/>
<circle cx="493.4" cy="282.2" r="2.35"/>
<circle cx="493.0" cy="301.4" r="2.35"/>
<circle cx="498.1" cy="177.8" r="2.35"/>
<circle cx="494.3" cy="238.6" r="2.35"/>
<circle cx="498.1" cy="186.2" r="2.35"/>
<circle cx="498.1" cy="187.2" r="2.35"/>
<circle cx="494.9" cy="309.2" r="2.35"/>
<circle cx="498.1" cy="256.6" r="2.35"/>
<circle cx="495.4" cy="284.9" r="2.35"/>
<circle cx="498.1" cy="282.5" r="2.35"/>
<circle cx="495.1" cy="294.5" r="2.35"/>
<circle cx="498.1" cy="280.4" r="2.35"/>
<circle cx="498.1" cy="285.2" r="2.35"/>
<circle cx="495.9" cy="242.9" r="2.35"/>
<circle cx="495.9" cy="283.6" r="2.35"/>
<circle cx="498.1" cy="227.4" r="2.35"/>
<circle cx="498.1" cy="222.4" r="2.35"/>
<circle cx="496.4" cy="303.6" r="2.35"/>
<circle cx="496.3" cy="236.5" r="2.35"/>
<circle cx="496.0" cy="266.2" r="2.35"/>
<circle cx="498.1" cy="299.5" r="2.35"/>
<circle cx="496.9" cy="262.3" r="2.35"/>
<circle cx="496.7" cy="235.9" r="2.35"/>
<circle cx="497.0" cy="268.6" r="2.35"/>
<circle cx="498.1" cy="240.4" r="2.35"/>
<circle cx="498.1" cy="231.1" r="2.35"/>
<circle cx="497.6" cy="325.6" r="2.35"/>
<circle cx="497.5" cy="331.7" r="2.35"/>
<circle cx="498.1" cy="253.5" r="2.35"/>
<circle cx="498.0" cy="261.3" r="2.35"/>
<circle cx="498.9" cy="250.2" r="2.35"/>
<circle cx="498.1" cy="271.3" r="2.35"/>
<circle cx="498.1" cy="248.8" r="2.35"/>
<circle cx="498.1" cy="240.4" r="2.35"/>
<circle cx="498.1" cy="286.2" r="2.35"/>
<circle cx="499.9" cy="244.3" r="2.35"/>
<circle cx="498.1" cy="195.3" r="2.35"/>
<circle cx="498.1" cy="263.4" r="2.35"/>
<circle cx="498.1" cy="258.9" r="2.35"/>
<circle cx="499.6" cy="252.4" r="2.35"/>
<circle cx="498.1" cy="300.0" r="2.35"/>
<circle cx="500.0" cy="259.7" r="2.35"/>
<circle cx="498.1" cy="288.6" r="2.35"/>
<circle cx="500.8" cy="262.3" r="2.35"/>
<circle cx="500.6" cy="252.8" r="2.35"/>
<circle cx="500.8" cy="296.9" r="2.35"/>
<circle cx="501.2" cy="316.6" r="2.35"/>
<circle cx="498.1" cy="242.1" r="2.35"/>
<circle cx="498.1" cy="266.7" r="2.35"/>
<circle cx="498.1" cy="269.6" r="2.35"/>
<circle cx="498.1" cy="275.0" r="2.35"/>
<circle cx="501.6" cy="227.6" r="2.35"/>
<circle cx="501.7" cy="275.2" r="2.35"/>
<circle cx="498.1" cy="254.1" r="2.35"/>
<circle cx="498.1" cy="235.1" r="2.35"/>
<circle cx="502.3" cy="296.9" r="2.35"/>
<circle cx="503.0" cy="316.2" r="2.35"/>
<circle cx="498.1" cy="276.6" r="2.35"/>
<circle cx="503.6" cy="246.0" r="2.35"/>
<circle cx="503.5" cy="307.9" r="2.35"/>
<circle cx="498.1" cy="235.7" r="2.35"/>
<circle cx="498.1" cy="290.8" r="2.35"/>
<circle cx="498.1" cy="209.9" r="2.35"/>
<circle cx="505.2" cy="319.0" r="2.35"/>
<circle cx="505.4" cy="284.9" r="2.35"/>
<circle cx="505.0" cy="252.1" r="2.35"/>
<circle cx="505.4" cy="219.6" r="2.35"/>
<circle cx="498.1" cy="228.1" r="2.35"/>
<circle cx="498.1" cy="270.7" r="2.35"/>
<circle cx="505.3" cy="274.8" r="2.35"/>
<circle cx="505.5" cy="173.7" r="2.35"/>
<circle cx="498.1" cy="213.9" r="2.35"/>
<circle cx="506.4" cy="239.7" r="2.35"/>
<circle cx="506.2" cy="247.5" r="2.35"/>
<circle cx="513.1" cy="252.5" r="2.35"/>
<circle cx="506.4" cy="231.3" r="2.35"/>
<circle cx="506.6" cy="265.0" r="2.35"/>
<circle cx="506.9" cy="242.4" r="2.35"/>
<circle cx="506.8" cy="219.5" r="2.35"/>
<circle cx="513.1" cy="244.5" r="2.35"/>
<circle cx="507.4" cy="237.6" r="2.35"/>
<circle cx="513.1" cy="216.4" r="2.35"/>
<circle cx="507.1" cy="298.6" r="2.35"/>
<circle cx="507.8" cy="219.1" r="2.35"/>
<circle cx="507.7" cy="295.8" r="2.35"/>
<circle cx="513.1" cy="222.6" r="2.35"/>
<circle cx="508.4" cy="314.3" r="2.35"/>
<circle cx="508.5" cy="313.8" r="2.35"/>
<circle cx="513.1" cy="293.5" r="2.35"/>
<circle cx="513.1" cy="294.6" r="2.35"/>
<circle cx="510.9" cy="209.8" r="2.35"/>
<circle cx="513.1" cy="211.3" r="2.35"/>
<circle cx="513.1" cy="169.6" r="2.35"/>
<circle cx="511.1" cy="269.8" r="2.35"/>
<circle cx="513.1" cy="207.2" r="2.35"/>
<circle cx="513.1" cy="240.7" r="2.35"/>
<circle cx="511.7" cy="280.9" r="2.35"/>
<circle cx="513.1" cy="284.3" r="2.35"/>
<circle cx="513.1" cy="294.6" r="2.35"/>
<circle cx="513.1" cy="251.0" r="2.35"/>
<circle cx="513.1" cy="260.1" r="2.35"/>
<circle cx="512.4" cy="268.1" r="2.35"/>
<circle cx="512.4" cy="206.6" r="2.35"/>
<circle cx="512.6" cy="309.5" r="2.35"/>
<circle cx="513.1" cy="309.5" r="2.35"/>
<circle cx="513.1" cy="275.6" r="2.35"/>
<circle cx="513.1" cy="237.8" r="2.35"/>
<circle cx="513.8" cy="242.5" r="2.35"/>
<circle cx="513.5" cy="288.7" r="2.35"/>
<circle cx="513.1" cy="266.0" r="2.35"/>
<circle cx="514.6" cy="287.9" r="2.35"/>
<circle cx="515.0" cy="215.8" r="2.35"/>
<circle cx="513.1" cy="284.2" r="2.35"/>
<circle cx="515.2" cy="311.0" r="2.35"/>
<circle cx="513.1" cy="296.8" r="2.35"/>
<circle cx="513.1" cy="257.6" r="2.35"/>
<circle cx="513.1" cy="299.2" r="2.35"/>
<circle cx="516.3" cy="215.9" r="2.35"/>
<circle cx="513.1" cy="268.1" r="2.35"/>
<circle cx="513.1" cy="285.6" r="2.35"/>
<circle cx="513.1" cy="197.7" r="2.35"/>
<circle cx="517.4" cy="295.5" r="2.35"/>
<circle cx="513.1" cy="261.2" r="2.35"/>
<circle cx="517.0" cy="199.4" r="2.35"/>
<circle cx="513.1" cy="291.1" r="2.35"/>
<circle cx="518.3" cy="279.1" r="2.35"/>
<circle cx="513.1" cy="245.2" r="2.35"/>
<circle cx="513.1" cy="225.1" r="2.35"/>
<circle cx="513.1" cy="229.4" r="2.35"/>
<circle cx="513.1" cy="278.7" r="2.35"/>
<circle cx="513.1" cy="293.2" r="2.35"/>
<circle cx="513.1" cy="283.9" r="2.35"/>
<circle cx="520.1" cy="243.0" r="2.35"/>
<circle cx="528.1" cy="286.8" r="2.35"/>
<circle cx="528.1" cy="306.4" r="2.35"/>
<circle cx="528.1" cy="246.3" r="2.35"/>
<circle cx="521.6" cy="213.5" r="2.35"/>
<circle cx="528.1" cy="250.0" r="2.35"/>
<circle cx="528.1" cy="184.1" r="2.35"/>
<circle cx="522.2" cy="219.3" r="2.35"/>
<circle cx="528.1" cy="275.2" r="2.35"/>
<circle cx="522.7" cy="224.2" r="2.35"/>
<circle cx="522.7" cy="268.4" r="2.35"/>
<circle cx="528.1" cy="289.4" r="2.35"/>
<circle cx="528.1" cy="270.0" r="2.35"/>
<circle cx="528.1" cy="238.1" r="2.35"/>
<circle cx="524.4" cy="244.5" r="2.35"/>
<circle cx="528.1" cy="252.6" r="2.35"/>
<circle cx="524.9" cy="281.5" r="2.35"/>
<circle cx="524.5" cy="301.2" r="2.35"/>
<circle cx="525.7" cy="279.3" r="2.35"/>
<circle cx="528.1" cy="182.7" r="2.35"/>
<circle cx="528.1" cy="181.0" r="2.35"/>
<circle cx="528.1" cy="246.4" r="2.35"/>
<circle cx="528.1" cy="215.2" r="2.35"/>
<circle cx="528.1" cy="248.6" r="2.35"/>
<circle cx="528.1" cy="185.6" r="2.35"/>
<circle cx="528.1" cy="276.5" r="2.35"/>
<circle cx="528.1" cy="202.1" r="2.35"/>
<circle cx="527.2" cy="291.3" r="2.35"/>
<circle cx="528.1" cy="291.8" r="2.35"/>
<circle cx="528.1" cy="226.4" r="2.35"/>
<circle cx="528.1" cy="274.7" r="2.35"/>
<circle cx="527.9" cy="225.4" r="2.35"/>
<circle cx="528.1" cy="300.6" r="2.35"/>
<circle cx="528.3" cy="215.4" r="2.35"/>
<circle cx="528.1" cy="234.6" r="2.35"/>
<circle cx="528.1" cy="257.0" r="2.35"/>
<circle cx="528.2" cy="280.6" r="2.35"/>
<circle cx="528.9" cy="278.1" r="2.35"/>
<circle cx="528.1" cy="254.0" r="2.35"/>
<circle cx="528.1" cy="298.2" r="2.35"/>
<circle cx="530.8" cy="259.7" r="2.35"/>
<circle cx="530.6" cy="281.8" r="2.35"/>
<circle cx="528.1" cy="263.0" r="2.35"/>
<circle cx="528.1" cy="279.9" r="2.35"/>
<circle cx="528.1" cy="242.0" r="2.35"/>
<circle cx="528.1" cy="224.7" r="2.35"/>
<circle cx="528.1" cy="235.2" r="2.35"/>
<circle cx="528.1" cy="235.6" r="2.35"/>
<circle cx="532.5" cy="187.0" r="2.35"/>
<circle cx="528.1" cy="184.8" r="2.35"/>
<circle cx="533.0" cy="257.3" r="2.35"/>
<circle cx="528.1" cy="265.9" r="2.35"/>
<circle cx="534.2" cy="176.2" r="2.35"/>
<circle cx="534.3" cy="269.7" r="2.35"/>
<circle cx="534.6" cy="281.9" r="2.35"/>
<circle cx="528.1" cy="242.1" r="2.35"/>
<circle cx="543.1" cy="228.0" r="2.35"/>
<circle cx="543.1" cy="235.7" r="2.35"/>
<circle cx="535.9" cy="298.8" r="2.35"/>
<circle cx="543.1" cy="253.3" r="2.35"/>
<circle cx="543.1" cy="188.5" r="2.35"/>
<circle cx="543.1" cy="278.3" r="2.35"/>
<circle cx="129.0" cy="624.5" r="2.35"/>
<circle cx="139.2" cy="624.5" r="2.35"/>
<circle cx="141.4" cy="624.5" r="2.35"/>
<circle cx="143.8" cy="624.5" r="2.35"/>
<circle cx="158.8" cy="624.5" r="2.35"/>
<circle cx="160.6" cy="624.5" r="2.35"/>
<circle cx="181.5" cy="624.5" r="2.35"/>
<circle cx="185.9" cy="624.5" r="2.35"/>
<circle cx="188.0" cy="624.5" r="2.35"/>
<circle cx="193.3" cy="624.5" r="2.35"/>
<circle cx="206.5" cy="624.5" r="2.35"/>
<circle cx="543.2" cy="169.7" r="2.35"/>
<circle cx="543.2" cy="175.4" r="2.35"/>
<circle cx="543.2" cy="178.7" r="2.35"/>
<circle cx="543.2" cy="183.2" r="2.35"/>
<circle cx="543.2" cy="192.7" r="2.35"/>
<circle cx="543.2" cy="195.2" r="2.35"/>
<circle cx="543.2" cy="201.8" r="2.35"/>
<circle cx="543.2" cy="205.1" r="2.35"/>
<circle cx="543.2" cy="208.4" r="2.35"/>
<circle cx="543.2" cy="211.7" r="2.35"/>
<circle cx="543.2" cy="216.6" r="2.35"/>
<circle cx="543.2" cy="219.9" r="2.35"/>
<circle cx="543.2" cy="228.1" r="2.35"/>
<circle cx="543.2" cy="231.4" r="2.35"/>
<circle cx="543.2" cy="238.0" r="2.35"/>
<circle cx="543.2" cy="241.3" r="2.35"/>
<circle cx="543.2" cy="244.6" r="2.35"/>
<circle cx="543.2" cy="248.7" r="2.35"/>
<circle cx="543.2" cy="252.0" r="2.35"/>
<circle cx="543.2" cy="255.0" r="2.35"/>
<circle cx="543.2" cy="258.0" r="2.35"/>
<circle cx="543.2" cy="261.0" r="2.35"/>
<circle cx="543.2" cy="264.0" r="2.35"/>
<circle cx="543.2" cy="267.0" r="2.35"/>
<circle cx="543.2" cy="270.0" r="2.35"/>
<circle cx="543.2" cy="273.0" r="2.35"/>
<circle cx="543.2" cy="276.0" r="2.35"/>
<circle cx="543.2" cy="279.0" r="2.35"/>
<circle cx="543.2" cy="282.0" r="2.35"/>
<circle cx="543.2" cy="285.0" r="2.35"/>
<circle cx="543.2" cy="288.0" r="2.35"/>
<circle cx="543.2" cy="292.0" r="2.35"/>
<circle cx="543.2" cy="296.0" r="2.35"/>
<circle cx="537.0" cy="283.5" r="2.35"/>
<circle cx="540.0" cy="286.0" r="2.35"/>
<circle cx="546.5" cy="285.5" r="2.35"/>
<circle cx="538.5" cy="290.0" r="2.35"/>
<circle cx="558.4" cy="175.9" r="2.35"/>
<circle cx="558.4" cy="180.9" r="2.35"/>
<circle cx="558.4" cy="187.4" r="2.35"/>
<circle cx="558.4" cy="196.5" r="2.35"/>
<circle cx="558.4" cy="226.5" r="2.35"/>
<circle cx="558.4" cy="227.2" r="2.35"/>
<circle cx="558.4" cy="230.5" r="2.35"/>
<circle cx="558.4" cy="234.6" r="2.35"/>
<circle cx="558.4" cy="242.5" r="2.35"/>
<circle cx="558.4" cy="252.7" r="2.35"/>
<circle cx="558.4" cy="261.0" r="2.35"/>
<circle cx="558.4" cy="269.2" r="2.35"/>
<circle cx="558.4" cy="274.1" r="2.35"/>
<circle cx="555.8" cy="215.8" r="2.35"/>
<circle cx="558.4" cy="215.8" r="2.35"/>
<circle cx="561.5" cy="215.8" r="2.35"/>
<circle cx="552.5" cy="222.0" r="2.35"/>
<circle cx="549.2" cy="229.5" r="2.35"/>
<circle cx="556.6" cy="230.3" r="2.35"/>
<circle cx="556.6" cy="235.6" r="2.35"/>
<circle cx="549.2" cy="243.0" r="2.35"/>
<circle cx="561.5" cy="233.9" r="2.35"/>
<circle cx="566.5" cy="230.3" r="2.35"/>
<circle cx="553.5" cy="253.5" r="2.35"/>
<circle cx="548.6" cy="252.7" r="2.35"/>
<circle cx="549.4" cy="270.0" r="2.35"/>
<circle cx="552.7" cy="274.1" r="2.35"/>
<circle cx="565.6" cy="253.0" r="2.35"/>
<circle cx="573.4" cy="160.6" r="2.35"/>
<circle cx="573.4" cy="167.2" r="2.35"/>
<circle cx="573.4" cy="179.5" r="2.35"/>
<circle cx="573.4" cy="187.4" r="2.35"/>
<circle cx="573.4" cy="192.4" r="2.35"/>
<circle cx="573.4" cy="199.0" r="2.35"/>
<circle cx="573.4" cy="203.4" r="2.35"/>
<circle cx="573.4" cy="207.5" r="2.35"/>
<circle cx="573.4" cy="211.7" r="2.35"/>
<circle cx="573.4" cy="215.8" r="2.35"/>
<circle cx="573.4" cy="223.2" r="2.35"/>
<circle cx="573.4" cy="233.9" r="2.35"/>
<circle cx="573.4" cy="237.2" r="2.35"/>
<circle cx="573.4" cy="240.5" r="2.35"/>
<circle cx="573.4" cy="243.8" r="2.35"/>
<circle cx="573.4" cy="247.1" r="2.35"/>
<circle cx="573.4" cy="250.5" r="2.35"/>
<circle cx="573.4" cy="253.5" r="2.35"/>
<circle cx="573.4" cy="256.0" r="2.35"/>
<circle cx="573.4" cy="261.0" r="2.35"/>
<circle cx="573.4" cy="263.4" r="2.35"/>
<circle cx="576.4" cy="216.9" r="2.35"/>
<circle cx="570.6" cy="242.5" r="2.35"/>
<circle cx="564.3" cy="167.2" r="2.35"/>
<circle cx="567.3" cy="195.2" r="2.35"/>
<circle cx="567.3" cy="204.3" r="2.35"/>
<circle cx="579.3" cy="196.5" r="2.35"/>
<circle cx="582.5" cy="170.1" r="2.35"/>
<circle cx="582.5" cy="225.2" r="2.35"/>
<circle cx="576.5" cy="252.0" r="2.35"/>
<circle cx="579.9" cy="255.2" r="2.35"/>
<circle cx="582.4" cy="249.4" r="2.35"/>
<circle cx="585.7" cy="248.6" r="2.35"/>
<circle cx="588.4" cy="151.2" r="2.35"/>
<circle cx="588.4" cy="161.1" r="2.35"/>
<circle cx="588.4" cy="175.9" r="2.35"/>
<circle cx="588.4" cy="178.2" r="2.35"/>
<circle cx="588.4" cy="190.2" r="2.35"/>
<circle cx="588.4" cy="203.4" r="2.35"/>
<circle cx="588.4" cy="212.5" r="2.35"/>
<circle cx="588.4" cy="216.6" r="2.35"/>
<circle cx="588.4" cy="219.9" r="2.35"/>
<circle cx="588.4" cy="225.7" r="2.35"/>
<circle cx="588.4" cy="236.4" r="2.35"/>
<circle cx="588.4" cy="239.7" r="2.35"/>
<circle cx="588.4" cy="243.0" r="2.35"/>
<circle cx="594.5" cy="179.2" r="2.35"/>
<circle cx="597.4" cy="167.2" r="2.35"/>
<circle cx="597.4" cy="207.5" r="2.35"/>
<circle cx="597.4" cy="209.2" r="2.35"/>
<circle cx="596.5" cy="216.1" r="2.35"/>
<circle cx="594.5" cy="223.2" r="2.35"/>
<circle cx="597.4" cy="226.0" r="2.35"/>
<circle cx="597.4" cy="231.9" r="2.35"/>
<circle cx="594.5" cy="237.2" r="2.35"/>
<circle cx="603.4" cy="169.7" r="2.35"/>
<circle cx="603.4" cy="199.0" r="2.35"/>
<circle cx="603.4" cy="205.4" r="2.35"/>
<circle cx="603.4" cy="212.0" r="2.35"/>
<circle cx="603.4" cy="216.1" r="2.35"/>
<circle cx="603.4" cy="229.0" r="2.35"/>
<circle cx="603.4" cy="231.4" r="2.35"/>
<circle cx="603.4" cy="233.9" r="2.35"/>
<circle cx="609.3" cy="175.4" r="2.35"/>
<circle cx="609.3" cy="202.3" r="2.35"/>
<circle cx="609.3" cy="207.9" r="2.35"/>
<circle cx="609.3" cy="223.2" r="2.35"/>
<circle cx="609.3" cy="228.5" r="2.35"/>
<circle cx="618.4" cy="193.2" r="2.35"/>
<circle cx="618.4" cy="202.3" r="2.35"/>
<circle cx="618.4" cy="210.5" r="2.35"/>
<circle cx="618.4" cy="215.5" r="2.35"/>
<circle cx="618.4" cy="217.4" r="2.35"/>
<circle cx="618.4" cy="219.1" r="2.35"/>
<circle cx="621.7" cy="216.3" r="2.35"/>
<circle cx="633.5" cy="147.9" r="2.35"/>
<circle cx="633.5" cy="155.3" r="2.35"/>
<circle cx="633.5" cy="182.5" r="2.35"/>
<circle cx="633.5" cy="187.0" r="2.35"/>
<circle cx="633.5" cy="189.4" r="2.35"/>
<circle cx="633.5" cy="201.8" r="2.35"/>
<circle cx="633.5" cy="204.3" r="2.35"/>
<circle cx="630.2" cy="187.8" r="2.35"/>
<circle cx="636.5" cy="193.2" r="2.35"/>
<circle cx="648.4" cy="159.4" r="2.35"/>
<circle cx="648.4" cy="175.1" r="2.35"/>
<circle cx="648.4" cy="177.9" r="2.35"/>
<circle cx="648.4" cy="184.8" r="2.35"/>
<circle cx="633.3" cy="87.3" r="2.35"/>
<circle cx="693.3" cy="129.3" r="2.35"/>
<circle cx="675.3" cy="145.3" r="2.35"/>
<circle cx="663.5" cy="161.4" r="2.35"/>
<circle cx="162.1" cy="449.1" r="2.35"/>
<circle cx="182.0" cy="432.2" r="2.35"/>
<circle cx="513.3" cy="142.5" r="2.35"/>
<circle cx="513.3" cy="145.0" r="2.35"/>
<circle cx="452.1" cy="158.3" r="2.35"/>
</g>
<line x1="92.4" y1="626.5" x2="708.4" y2="10.5" stroke="#0000ff" stroke-width="2.05" transform="translate(-0.3,-0.3)" stroke-linecap="square"/>
</g>
<g stroke="#000" stroke-width="1.11">
<line x1="92.40" y1="626.5" x2="92.40" y2="631.36"/>
<line x1="92.4" y1="626.50" x2="87.54" y2="626.50"/>
<line x1="167.52" y1="626.5" x2="167.52" y2="631.36"/>
<line x1="92.4" y1="551.38" x2="87.54" y2="551.38"/>
<line x1="242.64" y1="626.5" x2="242.64" y2="631.36"/>
<line x1="92.4" y1="476.26" x2="87.54" y2="476.26"/>
<line x1="317.77" y1="626.5" x2="317.77" y2="631.36"/>
<line x1="92.4" y1="401.13" x2="87.54" y2="401.13"/>
<line x1="392.89" y1="626.5" x2="392.89" y2="631.36"/>
<line x1="92.4" y1="326.01" x2="87.54" y2="326.01"/>
<line x1="468.01" y1="626.5" x2="468.01" y2="631.36"/>
<line x1="92.4" y1="250.89" x2="87.54" y2="250.89"/>
<line x1="543.13" y1="626.5" x2="543.13" y2="631.36"/>
<line x1="92.4" y1="175.77" x2="87.54" y2="175.77"/>
<line x1="618.25" y1="626.5" x2="618.25" y2="631.36"/>
<line x1="92.4" y1="100.65" x2="87.54" y2="100.65"/>
<line x1="693.38" y1="626.5" x2="693.38" y2="631.36"/>
<line x1="92.4" y1="25.52" x2="87.54" y2="25.52"/>
</g>
<text x="92.40" y="646.80" text-anchor="middle">0</text>
<text x="82.70" y="631.80" text-anchor="end">0</text>
<text x="167.52" y="646.80" text-anchor="middle">25000</text>
<text x="82.70" y="556.68" text-anchor="end">25000</text>
<text x="242.64" y="646.80" text-anchor="middle">50000</text>
<text x="82.70" y="481.56" text-anchor="end">50000</text>
<text x="317.77" y="646.80" text-anchor="middle">75000</text>
<text x="82.70" y="406.43" text-anchor="end">75000</text>
<text x="392.89" y="646.80" text-anchor="middle">100000</text>
<text x="82.70" y="331.31" text-anchor="end">100000</text>
<text x="468.01" y="646.80" text-anchor="middle">125000</text>
<text x="82.70" y="256.19" text-anchor="end">125000</text>
<text x="543.13" y="646.80" text-anchor="middle">150000</text>
<text x="82.70" y="181.07" text-anchor="end">150000</text>
<text x="618.25" y="646.80" text-anchor="middle">175000</text>
<text x="82.70" y="105.95" text-anchor="end">175000</text>
<text x="693.38" y="646.80" text-anchor="middle">200000</text>
<text x="82.70" y="30.82" text-anchor="end">200000</text>
<text x="399.70" y="666" text-anchor="middle">True Values [MPG]</text>
<text transform="translate(20,319.50) rotate(-90)" text-anchor="middle">Predictions [MPG]</text>
<rect x="92.4" y="10.5" width="616.0" height="616.0" fill="none" stroke="#000" stroke-width="1.11"/>
</svg></body></html>
